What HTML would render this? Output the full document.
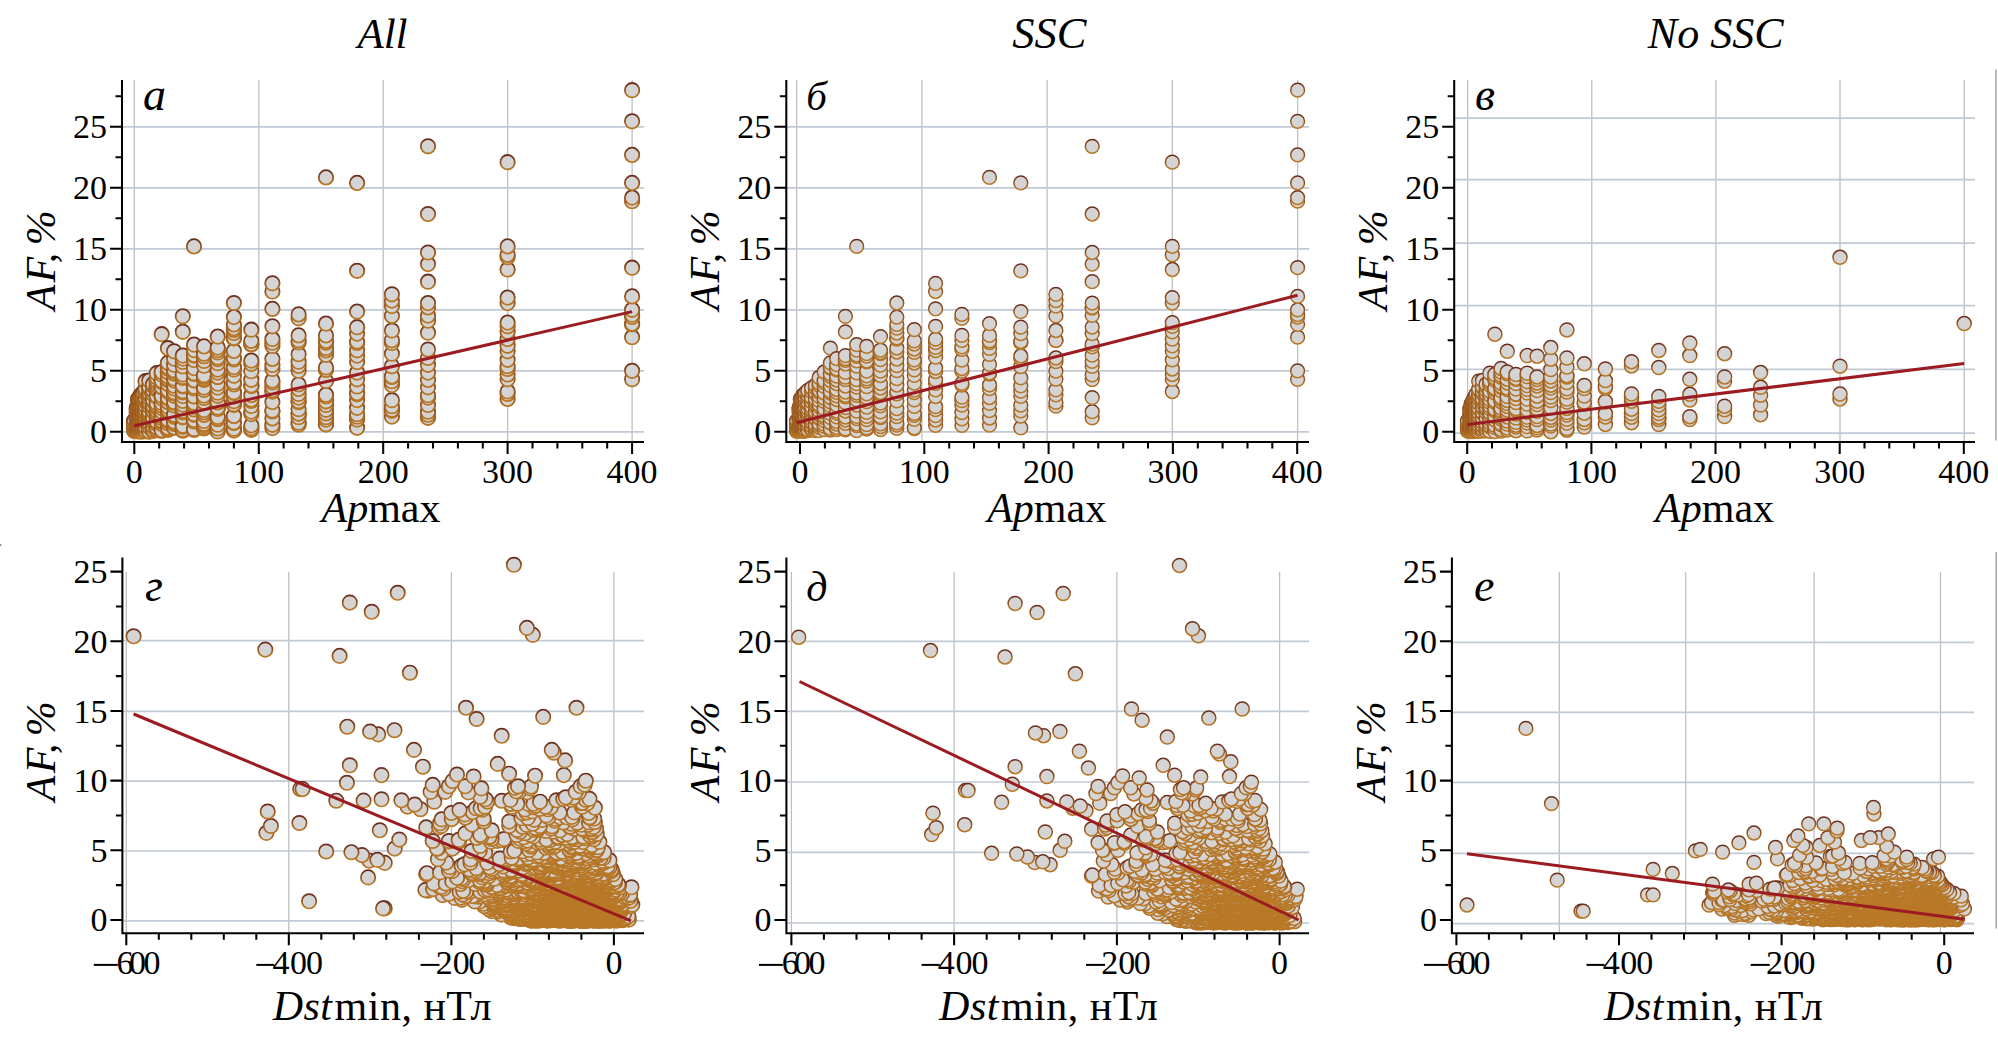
<!DOCTYPE html>
<html lang="ru"><head><meta charset="utf-8"><title>AF vs Apmax and Dstmin</title>
<style>html,body{margin:0;padding:0;background:#fff}svg{display:block}</style></head><body>
<svg width="1998" height="1039" viewBox="0 0 1998 1039">
<defs><linearGradient id="gs" x1="0" y1="0" x2="0" y2="1"><stop offset="0" stop-color="#6a2c1c"/><stop offset="0.4" stop-color="#8c4c1e"/><stop offset="0.75" stop-color="#ab6a22"/><stop offset="1" stop-color="#b87826"/></linearGradient></defs>
<rect width="1998" height="1039" fill="#fff"/>
<line x1="1995.9" y1="69.6" x2="1995.9" y2="440.5" stroke="#a9aeb1" stroke-width="1.7"/>
<line x1="1996.2" y1="552" x2="1996.2" y2="928.6" stroke="#a9aeb1" stroke-width="1.7"/>
<rect x="0" y="544.3" width="1.3" height="1.6" fill="#666"/>
<g stroke="#c0bfbf" stroke-width="1.3">
<line x1="134.3" y1="80" x2="134.3" y2="442"/>
<line x1="258.8" y1="80" x2="258.8" y2="442"/>
<line x1="383.2" y1="80" x2="383.2" y2="442"/>
<line x1="507.6" y1="80" x2="507.6" y2="442"/>
<line x1="632.1" y1="80" x2="632.1" y2="442"/>
</g>
<g stroke="#c0c9d4" stroke-width="1.7">
<line x1="123" y1="431.8" x2="644" y2="431.8"/>
<line x1="123" y1="370.8" x2="644" y2="370.8"/>
<line x1="123" y1="309.8" x2="644" y2="309.8"/>
<line x1="123" y1="248.8" x2="644" y2="248.8"/>
<line x1="123" y1="187.8" x2="644" y2="187.8"/>
<line x1="123" y1="126.8" x2="644" y2="126.8"/>
</g>
<g stroke="#c0bfbf" stroke-width="1.3">
<line x1="796.6" y1="80" x2="796.6" y2="442"/>
<line x1="921.9" y1="80" x2="921.9" y2="442"/>
<line x1="1047.1" y1="80" x2="1047.1" y2="442"/>
<line x1="1172.3" y1="80" x2="1172.3" y2="442"/>
<line x1="1297.6" y1="80" x2="1297.6" y2="442"/>
</g>
<g stroke="#c0c9d4" stroke-width="1.7">
<line x1="787.3" y1="431.8" x2="1309" y2="431.8"/>
<line x1="787.3" y1="370.8" x2="1309" y2="370.8"/>
<line x1="787.3" y1="309.8" x2="1309" y2="309.8"/>
<line x1="787.3" y1="248.8" x2="1309" y2="248.8"/>
<line x1="787.3" y1="187.8" x2="1309" y2="187.8"/>
<line x1="787.3" y1="126.8" x2="1309" y2="126.8"/>
</g>
<g stroke="#c0bfbf" stroke-width="1.3">
<line x1="1467.6" y1="80" x2="1467.6" y2="442"/>
<line x1="1591.8" y1="80" x2="1591.8" y2="442"/>
<line x1="1715.9" y1="80" x2="1715.9" y2="442"/>
<line x1="1840" y1="80" x2="1840" y2="442"/>
<line x1="1964.2" y1="80" x2="1964.2" y2="442"/>
</g>
<g stroke="#c0c9d4" stroke-width="1.7">
<line x1="1455.2" y1="433.2" x2="1975" y2="433.2"/>
<line x1="1455.2" y1="369.3" x2="1975" y2="369.3"/>
<line x1="1455.2" y1="305.6" x2="1975" y2="305.6"/>
<line x1="1455.2" y1="243.1" x2="1975" y2="243.1"/>
<line x1="1455.2" y1="179.6" x2="1975" y2="179.6"/>
<line x1="1455.2" y1="118.2" x2="1975" y2="118.2"/>
</g>
<g stroke="#c0bfbf" stroke-width="1.3">
<line x1="126.3" y1="572" x2="126.3" y2="933.2"/>
<line x1="288.8" y1="572" x2="288.8" y2="933.2"/>
<line x1="451.4" y1="572" x2="451.4" y2="933.2"/>
<line x1="613.9" y1="572" x2="613.9" y2="933.2"/>
</g>
<g stroke="#c0c9d4" stroke-width="1.7">
<line x1="123.4" y1="920.9" x2="644" y2="920.9"/>
<line x1="123.4" y1="851" x2="644" y2="851"/>
<line x1="123.4" y1="781.2" x2="644" y2="781.2"/>
<line x1="123.4" y1="711.3" x2="644" y2="711.3"/>
<line x1="123.4" y1="640.6" x2="644" y2="640.6"/>
</g>
<g stroke="#c0bfbf" stroke-width="1.3">
<line x1="791.4" y1="572" x2="791.4" y2="933.2"/>
<line x1="954.1" y1="572" x2="954.1" y2="933.2"/>
<line x1="1116.9" y1="572" x2="1116.9" y2="933.2"/>
<line x1="1279.6" y1="572" x2="1279.6" y2="933.2"/>
</g>
<g stroke="#c0c9d4" stroke-width="1.7">
<line x1="787.4" y1="923" x2="1309" y2="923"/>
<line x1="787.4" y1="852.3" x2="1309" y2="852.3"/>
<line x1="787.4" y1="782" x2="1309" y2="782"/>
<line x1="787.4" y1="711.4" x2="1309" y2="711.4"/>
<line x1="787.4" y1="641.4" x2="1309" y2="641.4"/>
</g>
<g stroke="#c0bfbf" stroke-width="1.3">
<line x1="1559.3" y1="572" x2="1559.3" y2="933.2"/>
<line x1="1685.7" y1="572" x2="1685.7" y2="933.2"/>
<line x1="1814.1" y1="572" x2="1814.1" y2="933.2"/>
<line x1="1940.5" y1="572" x2="1940.5" y2="933.2"/>
</g>
<g stroke="#c0c9d4" stroke-width="1.7">
<line x1="1452.9" y1="923.7" x2="1974" y2="923.7"/>
<line x1="1452.9" y1="853.3" x2="1974" y2="853.3"/>
<line x1="1452.9" y1="782.3" x2="1974" y2="782.3"/>
<line x1="1452.9" y1="712.4" x2="1974" y2="712.4"/>
<line x1="1452.9" y1="642.4" x2="1974" y2="642.4"/>
</g>
<marker id="ma" markerUnits="userSpaceOnUse" markerWidth="18.4" markerHeight="18.4" refX="9.2" refY="9.2"><circle cx="9.2" cy="9.2" r="7.2" fill="#d4d4d4" stroke="url(#gs)" stroke-width="1.8"/></marker>
<path d="M134.3 431.1 134.3 430.6 134.3 428.7 134.3 428.3 134.3 427.6 134.3 426.5 134.3 425.4 134.3 423.3 134.3 423.3 134.3 422.8 134.3 420.8 134.3 420.8 136.8 431 136.8 430.5 136.8 429.5 136.8 428.4 136.8 425 136.8 423.9 136.8 423.3 136.8 420.1 136.8 419.2 136.8 416.7 136.8 416 136.8 413.1 136.8 412.7 136.8 410.5 136.8 408.8 136.8 408.6 136.8 407.4 138 431.5 138 430.1 138 427.4 138 427.2 138 427.1 138 424.5 138 423.4 138 419.3 138 417.4 138 417 138 416.7 138 414.9 138 412.2 138 409 138 407.8 138 407.1 138 406.7 138 403.7 138 400.3 138 398.9 139.3 431 139.3 430.2 139.3 427.5 139.3 427.4 139.3 426.6 139.3 423.2 139.3 422.2 139.3 421.5 139.3 420.2 139.3 417.3 139.3 416.3 139.3 413.7 139.3 409.4 139.3 408.6 139.3 406.8 139.3 405 139.3 404.2 139.3 403.7 139.3 401.3 139.3 400.1 140.5 429.7 140.5 429.3 140.5 428.9 140.5 426.3 140.5 425.5 140.5 424.9 140.5 421.4 140.5 419.8 140.5 417.6 140.5 416.8 140.5 414.1 140.5 411.8 140.5 410 140.5 406.8 140.5 406.1 140.5 405.3 140.5 403.6 140.5 399.8 140.5 398.9 140.5 396.6 140.5 395.2 141.8 431.7 141.8 429.5 141.8 429 141.8 428.3 141.8 424.6 141.8 422.4 141.8 422.2 141.8 419.8 141.8 419 141.8 415.6 141.8 414.1 141.8 410.6 141.8 409.6 141.8 406.7 141.8 404.5 141.8 403.9 141.8 402.6 141.8 399.7 141.8 398.4 141.8 396.4 141.8 395.2 143 429.6 143 429.1 143 426.7 143 425 143 424 143 421.4 143 420.9 143 417.9 143 416.2 143 414.9 143 413.7 143 410.3 143 408.2 143 404 143 404 143 400.9 143 399.3 143 397.1 143 394.9 143 394 143 392.8 145.5 431.2 145.5 430.7 145.5 427.1 145.5 427.1 145.5 422.2 145.5 421.8 145.5 420.1 145.5 416.4 145.5 416.1 145.5 413.1 145.5 410.6 145.5 410 145.5 406.1 145.5 401.6 145.5 399.4 145.5 398.5 145.5 397.6 145.5 392.9 145.5 392.2 145.5 390.3 145.5 389.1 145.5 381.2 149.2 431.7 149.2 431.2 149.2 426.9 149.2 426.5 149.2 423.4 149.2 422.2 149.2 418.5 149.2 415.6 149.2 414 149.2 412.6 149.2 411.3 149.2 406.6 149.2 403.3 149.2 401.9 149.2 398.3 149.2 395.1 149.2 393.2 149.2 392.8 149.2 389 149.2 387.9 149.2 386.7 149.2 380.6 153 431 153 429.8 153 426.6 153 426.2 153 421.4 153 420.5 153 418.4 153 417.2 153 411.4 153 411.1 153 407.1 153 406 153 401.1 153 400 153 394.3 153 390.8 153 385.7 153 385.4 153 385.4 153 384.2 156.7 430.1 156.7 429.3 156.7 427.6 156.7 423.4 156.7 422.3 156.7 421.3 156.7 414.3 156.7 413 156.7 410.6 156.7 407.6 156.7 405.9 156.7 403.2 156.7 396.8 156.7 395.7 156.7 389.7 156.7 389.1 156.7 387.7 156.7 385.3 156.7 383 156.7 380.6 156.7 377.5 156.7 373.2 161.7 430.9 161.7 430.1 161.7 423.9 161.7 421.7 161.7 420.9 161.7 418 161.7 416 161.7 411.6 161.7 408 161.7 405.5 161.7 403 161.7 398.3 161.7 395.8 161.7 387.2 161.7 386.9 161.7 382.1 161.7 380.6 161.7 380.6 161.7 374.5 161.7 372 161.7 334.2 167.9 429.9 167.9 428.6 167.9 427.6 167.9 423.2 167.9 421 167.9 419.5 167.9 412.8 167.9 411.6 167.9 409.7 167.9 406.7 167.9 402.1 167.9 401.8 167.9 398.2 167.9 397.5 167.9 391.8 167.9 390 167.9 383.9 167.9 380 167.9 378.5 167.9 376.3 167.9 372.1 167.9 372 167.9 368.4 167.9 367.1 167.9 362.9 167.9 348.2 174.1 427.8 174.1 427.4 174.1 423.9 174.1 422.9 174.1 421.5 174.1 416.8 174.1 415 174.1 414.6 174.1 405.5 174.1 403 174.1 402 174.1 395.8 174.1 393.6 174.1 392.3 174.1 388.5 174.1 385.7 174.1 380.6 174.1 378.5 174.1 373.7 174.1 372 174.1 370.2 174.1 364.7 174.1 358.6 174.1 351.3 182.8 430.7 182.8 429.7 182.8 426.8 182.8 425.8 182.8 417.3 182.8 416.8 182.8 412.5 182.8 410.9 182.8 408.1 182.8 404.6 182.8 400.9 182.8 396.1 182.8 392.4 182.8 391.3 182.8 386.5 182.8 385.6 182.8 377.9 182.8 377 182.8 374.5 182.8 366.4 182.8 362 182.8 358.6 182.8 355.6 182.8 331.8 182.8 316.3 194 429.9 194 429 194 421.5 194 420 194 414.8 194 414 194 409.4 194 406.7 194 404.9 194 402.8 194 396.5 194 396.2 194 388.5 194 386.8 194 380.5 194 380.1 194 374 194 373.2 194 368.1 194 360 194 355.6 194 354.9 194 350.1 194 344.6 194 246.4 204 428.4 204 427 204 425.1 204 423.8 204 421 204 414.9 204 412.4 204 410.1 204 402.6 204 401.9 204 398 204 395.6 204 390 204 387.6 204 380 204 378.9 204 376.9 204 375.3 204 365.7 204 361 204 356.2 204 356.2 204 353.7 204 346.4 217.7 431.5 217.7 428.5 217.7 424.7 217.7 419.2 217.7 418.6 217.7 417 217.7 408.9 217.7 407.5 217.7 402.4 217.7 402.1 217.7 395.8 217.7 392.7 217.7 387.6 217.7 383.7 217.7 377.1 217.7 376.9 217.7 372.6 217.7 369.6 217.7 363.2 217.7 359.2 217.7 357.5 217.7 352.5 217.7 350.1 217.7 347.6 217.7 336.6 233.9 430.6 233.9 428.7 233.9 423 233.9 422.4 233.9 416.1 233.9 415.9 233.9 405.1 233.9 404.3 233.9 401.2 233.9 396.4 233.9 393.1 233.9 392.3 233.9 384.4 233.9 382.2 233.9 375.7 233.9 369.5 233.9 367.1 233.9 359.5 233.9 358 233.9 350.9 233.9 338.5 233.9 337.9 233.9 333 233.9 329.9 233.9 328.1 233.9 324.4 233.9 317.1 233.9 303 251.3 429.8 251.3 428.2 251.3 425.4 251.3 414.1 251.3 411.6 251.3 406 251.3 401 251.3 399.6 251.3 395.1 251.3 386.1 251.3 385.4 251.3 379.8 251.3 371.2 251.3 363.8 251.3 360.6 251.3 344.5 251.3 344 251.3 340.9 251.3 329.7 272.4 428.1 272.4 424.8 272.4 418.4 272.4 411.4 272.4 410.5 272.4 402.1 272.4 391.6 272.4 390.3 272.4 386.7 272.4 382.5 272.4 380.6 272.4 369 272.4 365 272.4 358.9 272.4 346 272.4 342.7 272.4 339.1 272.4 326.3 272.4 308.9 272.4 291.5 272.4 283.3 298.6 424.7 298.6 422.7 298.6 417.2 298.6 413.6 298.6 413.5 298.6 409.2 298.6 402.2 298.6 401.3 298.6 397.6 298.6 394 298.6 388.9 298.6 384.4 298.6 370.7 298.6 365.9 298.6 361.7 298.6 354.2 298.6 342.4 298.6 340.3 298.6 335.4 298.6 318.3 298.6 314.4 326 424.5 326 424.3 326 419.6 326 417.2 326 413.5 326 413.2 326 409.8 326 405 326 401.3 326 401.3 326 396.4 326 394.7 326 381 326 369.9 326 367.5 326 354.9 326 350.4 326 348 326 342.7 326 340.9 326 335.4 326 323.6 326 177.4 357.1 427.8 357.1 419.6 357.1 416.7 357.1 414.2 357.1 407.8 357.1 400.1 357.1 394.3 357.1 393.1 357.1 386.5 357.1 379.3 357.1 372.6 357.1 362.1 357.1 355.6 357.1 350.3 357.1 343 357.1 341.5 357.1 333.6 357.1 327.2 357.1 311.6 357.1 270.8 357.1 182.9 391.9 416.6 391.9 410.8 391.9 409.8 391.9 406.2 391.9 400.2 391.9 385.1 391.9 381.2 391.9 376.9 391.9 376.4 391.9 366.3 391.9 353.7 391.9 343 391.9 340.3 391.9 330.5 391.9 315.9 391.9 306.1 391.9 300.6 391.9 294.3 428 417.8 428 414.7 428 411.7 428 405 428 397.6 428 395.2 428 387.3 428 379.9 428 372.6 428 364.8 428 358 428 349.5 428 332.7 428 320.7 428 315.6 428 307.4 428 303.1 428 281.7 428 264.1 428 252.5 428 214 428 146.3 507.6 398.9 507.6 394 507.6 391.5 507.6 379.3 507.6 374.5 507.6 369 507.6 366.2 507.6 359.8 507.6 351.3 507.6 345.8 507.6 339.1 507.6 331.8 507.6 326.3 507.6 322.6 507.6 303.1 507.6 297.6 507.6 269.5 507.6 257.3 507.6 254.9 507.6 246.4 507.6 162.2 632.1 379.3 632.1 370.8 632.1 337.2 632.1 324.4 632.1 323.6 632.1 317.1 632.1 314.7 632.1 309.8 632.1 296.4 632.1 267.7 632.1 201.2 632.1 197.6 632.1 182.9 632.1 154.9 632.1 121.3 632.1 90.2" fill="none" stroke="none" marker-start="url(#ma)" marker-mid="url(#ma)" marker-end="url(#ma)"/>
<line x1="134.3" y1="425.7" x2="632.1" y2="311.6" stroke="#9c1b20" stroke-width="3.0" stroke-linecap="butt"/>
<marker id="mb" markerUnits="userSpaceOnUse" markerWidth="17.8" markerHeight="17.8" refX="8.9" refY="8.9"><circle cx="8.9" cy="8.9" r="6.9" fill="#d4d4d4" stroke="url(#gs)" stroke-width="1.5"/></marker>
<path d="M796.6 431.4 796.6 430.1 796.6 428.3 796.6 427.6 796.6 426.1 796.6 424.5 796.6 423.6 796.6 421.6 796.6 420.8 799.1 430.9 799.1 428.8 799.1 428.2 799.1 425.7 799.1 424 799.1 420.1 799.1 418 799.1 417.2 799.1 412.5 799.1 410 799.1 408.3 799.1 407.4 800.4 430.8 800.4 429.8 800.4 427.9 800.4 424.4 800.4 423.2 800.4 420.3 800.4 417.6 800.4 415.6 800.4 411.7 800.4 409 800.4 405.1 800.4 403.1 800.4 399.9 800.4 398.9 801.6 431.1 801.6 428.8 801.6 427.1 801.6 425.3 801.6 421.2 801.6 418.8 801.6 416.6 801.6 414.4 801.6 412.8 801.6 410.4 801.6 407.6 801.6 405.4 801.6 400.7 801.6 400.1 802.9 431.2 802.9 428.2 802.9 427 802.9 423.2 802.9 421 802.9 420.6 802.9 417.4 802.9 412.8 802.9 411.3 802.9 407 802.9 405.8 802.9 403.9 802.9 399.3 802.9 395.9 802.9 395.2 804.1 431.4 804.1 429.9 804.1 427.1 804.1 423.2 804.1 421.2 804.1 420.3 804.1 417.3 804.1 415 804.1 412.4 804.1 407.5 804.1 406.4 804.1 402.4 804.1 399.8 804.1 397.6 804.1 395.2 805.4 430.5 805.4 429.6 805.4 426.1 805.4 424.9 805.4 421.4 805.4 419.3 805.4 416.3 805.4 411.4 805.4 408.9 805.4 407.4 805.4 402.6 805.4 401.6 805.4 397.9 805.4 393.2 805.4 392.8 807.9 430.7 807.9 429.7 807.9 425.3 807.9 424.7 807.9 422.1 807.9 418 807.9 416.4 807.9 413.7 807.9 411.5 807.9 408.5 807.9 404 807.9 402 807.9 397.9 807.9 395.5 807.9 392.1 807.9 390.3 811.6 429.9 811.6 428.7 811.6 426 811.6 422.6 811.6 421.7 811.6 418.9 811.6 413.8 811.6 411 811.6 409.7 811.6 406.8 811.6 401.9 811.6 398 811.6 397.2 811.6 391.4 811.6 388.3 811.6 387.9 815.4 430.6 815.4 428.7 815.4 427 815.4 424.4 815.4 418.8 815.4 418 815.4 413.4 815.4 411.7 815.4 406.6 815.4 404.1 815.4 401.7 815.4 398.8 815.4 393.4 815.4 392.2 815.4 388.2 815.4 385.4 819.1 430.7 819.1 427.4 819.1 425.3 819.1 423.3 819.1 418.3 819.1 417.4 819.1 414.7 819.1 410.6 819.1 406.6 819.1 404.5 819.1 400.6 819.1 396.3 819.1 392 819.1 389.9 819.1 385.4 819.1 383 819.1 377.5 824.2 429.6 824.2 426.4 824.2 424.2 824.2 420.7 824.2 417.6 824.2 415.6 824.2 412.3 824.2 408.6 824.2 401.3 824.2 398.2 824.2 393.1 824.2 392.9 824.2 386.3 824.2 382.7 824.2 380.6 824.2 372 830.4 430.1 830.4 428.4 830.4 423 830.4 422.7 830.4 417.6 830.4 413.3 830.4 408.9 830.4 405.6 830.4 401.9 830.4 397.5 830.4 393 830.4 391.2 830.4 385.6 830.4 380.5 830.4 376.4 830.4 374 830.4 368.1 830.4 367.1 830.4 362.9 830.4 348.2 836.7 429.6 836.7 427.5 836.7 424 836.7 421.3 836.7 416.9 836.7 413.1 836.7 411.2 836.7 405.1 836.7 399.5 836.7 395.9 836.7 392.3 836.7 389.5 836.7 383.7 836.7 380 836.7 376.2 836.7 369.9 836.7 368.8 836.7 364.7 836.7 358.6 845.4 429.8 845.4 428.9 845.4 423.3 845.4 420 845.4 417 845.4 411 845.4 407.6 845.4 402.7 845.4 396.9 845.4 395.4 845.4 392 845.4 386 845.4 379.6 845.4 377.1 845.4 372.4 845.4 364 845.4 360.3 845.4 358.6 845.4 355.6 845.4 331.8 845.4 316.3 856.7 430.6 856.7 425.6 856.7 424 856.7 418.6 856.7 416.4 856.7 411.1 856.7 405 856.7 399.9 856.7 395.4 856.7 393 856.7 387.2 856.7 383.7 856.7 379.6 856.7 372.9 856.7 366.1 856.7 360.9 856.7 356.4 856.7 354.9 856.7 350.1 856.7 344.6 856.7 246.4 866.7 429.1 866.7 427.9 866.7 424.7 866.7 419.7 866.7 416.3 866.7 412.4 866.7 407.1 866.7 401.7 866.7 397.7 866.7 393.9 866.7 386.7 866.7 381.2 866.7 378.9 866.7 375.9 866.7 371.1 866.7 361.9 866.7 361 866.7 356.2 866.7 353.7 866.7 346.4 880.5 429.7 880.5 426.7 880.5 423.8 880.5 417.7 880.5 416.7 880.5 411.8 880.5 405.8 880.5 403.1 880.5 394.5 880.5 392.5 880.5 388 880.5 383.5 880.5 375.5 880.5 371.2 880.5 365.1 880.5 359.7 880.5 353.5 880.5 352.5 880.5 350.1 880.5 336.6 896.8 428.4 896.8 425.2 896.8 422.9 896.8 416.7 896.8 413.1 896.8 408.7 896.8 400.9 896.8 393.9 896.8 391.3 896.8 385 896.8 378.7 896.8 370.7 896.8 365.7 896.8 359 896.8 352 896.8 348 896.8 339.2 896.8 337.9 896.8 333 896.8 328.1 896.8 324.4 896.8 317.1 896.8 303 914.3 428.6 914.3 427.8 914.3 419.3 914.3 415.4 914.3 413.3 914.3 406.3 914.3 399.9 914.3 392.7 914.3 390.1 914.3 383.2 914.3 375.4 914.3 369.9 914.3 363 914.3 359.8 914.3 352.4 914.3 349 914.3 344 914.3 340.9 914.3 329.7 935.6 425.3 935.6 420 935.6 415.6 935.6 409.6 935.6 406.7 935.6 396.5 935.6 389.8 935.6 383.4 935.6 379.8 935.6 371.5 935.6 368 935.6 357.2 935.6 350.7 935.6 347.3 935.6 342.7 935.6 339.1 935.6 326.3 935.6 308.9 935.6 291.5 935.6 283.3 961.9 425.4 961.9 418.9 961.9 412.6 961.9 405.1 961.9 400.6 961.9 397.1 961.9 385.1 961.9 383.4 961.9 371.2 961.9 368.5 961.9 360.1 961.9 349.4 961.9 346.8 961.9 340.3 961.9 335.4 961.9 318.3 961.9 314.4 989.5 425.2 989.5 418 989.5 410.6 989.5 403.3 989.5 397.5 989.5 388.7 989.5 384.8 989.5 374 989.5 373 989.5 364.4 989.5 354.3 989.5 348.4 989.5 342.7 989.5 340.9 989.5 335.4 989.5 323.6 989.5 177.4 1020.8 427.8 1020.8 416.2 1020.8 410.9 1020.8 405.2 1020.8 396.3 1020.8 391.2 1020.8 385.8 1020.8 377.9 1020.8 366.7 1020.8 358.4 1020.8 356 1020.8 342.7 1020.8 341.5 1020.8 333.6 1020.8 327.2 1020.8 311.6 1020.8 270.8 1020.8 182.9 1055.9 406.2 1055.9 402.4 1055.9 394.8 1055.9 389.9 1055.9 379.2 1055.9 371.1 1055.9 361.7 1055.9 358 1055.9 340.6 1055.9 340.3 1055.9 330.5 1055.9 315.9 1055.9 306.1 1055.9 300.6 1055.9 294.3 1092.2 417.8 1092.2 411.7 1092.2 397.6 1092.2 379.6 1092.2 374.8 1092.2 366.3 1092.2 361.4 1092.2 355.2 1092.2 346.9 1092.2 344.2 1092.2 333.6 1092.2 327.1 1092.2 315.4 1092.2 308 1092.2 307.4 1092.2 303.1 1092.2 281.7 1092.2 264.1 1092.2 252.5 1092.2 214 1092.2 146.3 1172.3 391.5 1172.3 379.3 1172.3 374.5 1172.3 369 1172.3 359.8 1172.3 351.3 1172.3 345.8 1172.3 339.1 1172.3 331.8 1172.3 326.3 1172.3 322.6 1172.3 303.1 1172.3 297.6 1172.3 269.5 1172.3 254.9 1172.3 246.4 1172.3 162.2 1297.6 379.3 1297.6 370.8 1297.6 337.2 1297.6 324.4 1297.6 317.1 1297.6 314.7 1297.6 309.8 1297.6 296.4 1297.6 267.7 1297.6 201.2 1297.6 197.6 1297.6 182.9 1297.6 154.9 1297.6 121.3 1297.6 90.2" fill="none" stroke="none" marker-start="url(#mb)" marker-mid="url(#mb)" marker-end="url(#mb)"/>
<line x1="796.6" y1="422.7" x2="1297.6" y2="295.2" stroke="#9c1b20" stroke-width="3.0" stroke-linecap="butt"/>
<marker id="mc" markerUnits="userSpaceOnUse" markerWidth="18" markerHeight="18" refX="9" refY="9"><circle cx="9" cy="9" r="7" fill="#d4d4d4" stroke="url(#gs)" stroke-width="1.5"/></marker>
<path d="M1467.6 430.9 1467.6 429.6 1467.6 428.4 1467.6 428.1 1467.6 426 1467.6 424.8 1467.6 423.1 1467.6 422.2 1467.6 420.8 1470.1 431.6 1470.1 430.1 1470.1 429 1470.1 427.2 1470.1 426.3 1470.1 424.6 1470.1 421.9 1470.1 420.6 1470.1 418.7 1470.1 416.5 1470.1 415.4 1470.1 414.1 1470.1 410.9 1470.1 409.4 1470.1 408.6 1471.3 431.1 1471.3 429.9 1471.3 428 1471.3 427.4 1471.3 425.3 1471.3 424.3 1471.3 422.4 1471.3 420.6 1471.3 419.5 1471.3 418.1 1471.3 415.7 1471.3 413.5 1471.3 411.9 1471.3 410.4 1471.3 408.2 1471.3 407.2 1471.3 405.3 1471.3 403.7 1472.6 431.5 1472.6 429.5 1472.6 428.9 1472.6 427.5 1472.6 425.9 1472.6 424.3 1472.6 422.1 1472.6 419.8 1472.6 417.5 1472.6 416.5 1472.6 414.5 1472.6 412.8 1472.6 410.8 1472.6 407.8 1472.6 406.3 1472.6 404.9 1472.6 403.1 1472.6 401.3 1473.8 430.8 1473.8 429.5 1473.8 427.6 1473.8 426.9 1473.8 424.6 1473.8 422 1473.8 420.7 1473.8 418.1 1473.8 417.6 1473.8 414 1473.8 413.8 1473.8 411 1473.8 409.7 1473.8 405.9 1473.8 404 1473.8 401.1 1473.8 399.3 1473.8 398.9 1475 430.5 1475 429.6 1475 427 1475 425.6 1475 424.4 1475 421.2 1475 420.3 1475 418.6 1475 416.8 1475 413.8 1475 412.1 1475 408.2 1475 405.9 1475 405.3 1475 403.3 1475 399.9 1475 398.4 1475 396.4 1476.3 431.1 1476.3 428.9 1476.3 428.1 1476.3 425.8 1476.3 422.8 1476.3 421.6 1476.3 419.6 1476.3 416.2 1476.3 414 1476.3 411.5 1476.3 409.6 1476.3 407.9 1476.3 404.8 1476.3 402 1476.3 400 1476.3 398.5 1476.3 395.8 1476.3 394 1478.8 431.2 1478.8 428.6 1478.8 427 1478.8 424.8 1478.8 421.8 1478.8 421.1 1478.8 417.3 1478.8 415.6 1478.8 412.4 1478.8 409 1478.8 407.9 1478.8 403.3 1478.8 403 1478.8 398.9 1478.8 396.1 1478.8 394.2 1478.8 390.4 1478.8 389.1 1478.8 381.2 1482.5 431.1 1482.5 429.1 1482.5 426.3 1482.5 425.6 1482.5 422.3 1482.5 418.7 1482.5 417.8 1482.5 413.2 1482.5 412.3 1482.5 408.2 1482.5 406.8 1482.5 403.1 1482.5 400.3 1482.5 398.4 1482.5 393.6 1482.5 391.3 1482.5 387.6 1482.5 386.7 1482.5 380.6 1486.2 430.8 1486.2 428.3 1486.2 425.7 1486.2 423.5 1486.2 418.7 1486.2 418.1 1486.2 412.4 1486.2 409.2 1486.2 407 1486.2 402.7 1486.2 399.6 1486.2 396.4 1486.2 394 1486.2 390.3 1486.2 386.6 1486.2 384.2 1489.9 431.2 1489.9 426.9 1489.9 425.7 1489.9 422.5 1489.9 419.2 1489.9 414.6 1489.9 412.3 1489.9 408.5 1489.9 406 1489.9 402.3 1489.9 399.3 1489.9 395.1 1489.9 391.2 1489.9 385 1489.9 382.5 1489.9 380.6 1489.9 373.2 1494.9 431.6 1494.9 427.5 1494.9 425.3 1494.9 419.9 1494.9 416.5 1494.9 410.7 1494.9 409.1 1494.9 402.3 1494.9 400.6 1494.9 392.9 1494.9 390 1494.9 388.2 1494.9 380 1494.9 377.9 1494.9 374.5 1494.9 334.2 1501.1 431.1 1501.1 429.3 1501.1 424.7 1501.1 423.9 1501.1 418.9 1501.1 416.8 1501.1 412.7 1501.1 410.6 1501.1 408 1501.1 401.7 1501.1 399.1 1501.1 397.3 1501.1 390.8 1501.1 387.3 1501.1 386.4 1501.1 383.3 1501.1 377.3 1501.1 375.3 1501.1 372 1501.1 368.4 1507.3 430.1 1507.3 428 1507.3 424 1507.3 421.1 1507.3 416.9 1507.3 413.1 1507.3 410.2 1507.3 406.4 1507.3 403.6 1507.3 400.4 1507.3 396.6 1507.3 389.4 1507.3 388 1507.3 382.9 1507.3 379.2 1507.3 373.7 1507.3 372 1507.3 351.3 1516 430.7 1516 427 1516 425.2 1516 422.3 1516 418 1516 414.1 1516 409.9 1516 408.5 1516 402.6 1516 398.5 1516 394.6 1516 394 1516 389.1 1516 383.5 1516 379.3 1516 378.4 1516 374.5 1527.2 430.8 1527.2 426.5 1527.2 422.8 1527.2 419.8 1527.2 417.1 1527.2 412.2 1527.2 409.5 1527.2 404 1527.2 399.1 1527.2 392.8 1527.2 389.3 1527.2 385.5 1527.2 381.6 1527.2 376.5 1527.2 373.2 1527.2 355.6 1537.1 430.1 1537.1 427.8 1537.1 425.4 1537.1 419.5 1537.1 416.6 1537.1 411.2 1537.1 408.9 1537.1 404.5 1537.1 401.2 1537.1 396.2 1537.1 390.5 1537.1 385.9 1537.1 382.9 1537.1 379.5 1537.1 376.9 1537.1 356.2 1550.8 431.7 1550.8 426 1550.8 424 1550.8 420.1 1550.8 417.4 1550.8 413.4 1550.8 407.5 1550.8 400.5 1550.8 397 1550.8 392.6 1550.8 388.1 1550.8 385.2 1550.8 380.9 1550.8 376.9 1550.8 369.6 1550.8 359.2 1550.8 347.6 1566.9 430.2 1566.9 428.6 1566.9 423 1566.9 419.3 1566.9 415.1 1566.9 412.6 1566.9 408.4 1566.9 402.1 1566.9 399 1566.9 392 1566.9 388.8 1566.9 382.5 1566.9 376.9 1566.9 375.7 1566.9 367.1 1566.9 358 1566.9 329.9 1584.3 427.1 1584.3 422.8 1584.3 419.4 1584.3 413.2 1584.3 403.9 1584.3 402.2 1584.3 396.1 1584.3 388.6 1584.3 385.4 1584.3 363.8 1605.4 424.4 1605.4 416.9 1605.4 413.6 1605.4 401.9 1605.4 401.5 1605.4 388.3 1605.4 386.7 1605.4 380.6 1605.4 369 1631.5 422.7 1631.5 417.2 1631.5 413.5 1631.5 409.2 1631.5 401.3 1631.5 397.6 1631.5 394 1631.5 365.9 1631.5 361.7 1658.8 424.5 1658.8 419.6 1658.8 417.2 1658.8 413.5 1658.8 409.8 1658.8 405 1658.8 401.3 1658.8 396.4 1658.8 367.5 1658.8 350.4 1689.8 419.6 1689.8 416.7 1689.8 400.1 1689.8 394.3 1689.8 379.3 1689.8 355.6 1689.8 343 1724.6 416.6 1724.6 409.8 1724.6 406.2 1724.6 381.2 1724.6 376.9 1724.6 353.7 1760.6 414.7 1760.6 405 1760.6 395.2 1760.6 387.3 1760.6 372.6 1840 398.9 1840 394 1840 366.2 1840 257.3 1964.2 323.6" fill="none" stroke="none" marker-start="url(#mc)" marker-mid="url(#mc)" marker-end="url(#mc)"/>
<line x1="1467.6" y1="424.5" x2="1964.2" y2="363.5" stroke="#9c1b20" stroke-width="3.0" stroke-linecap="butt"/>
<marker id="mg" markerUnits="userSpaceOnUse" markerWidth="18.4" markerHeight="18.4" refX="9.2" refY="9.2"><circle cx="9.2" cy="9.2" r="7.2" fill="#d4d4d4" stroke="url(#gs)" stroke-width="1.7"/></marker>
<path d="M571.1 920.9 581.4 920.9 599.7 920.9 585 920.9 597 920.8 534.3 920.8 558.7 920.8 616.4 920.8 609 920.8 547.8 920.8 580.9 920.7 573.5 920.7 586.4 920.7 603.5 920.7 568.9 920.7 587.5 920.7 593.1 920.6 567 920.6 579.8 920.6 537.1 920.6 531.1 920.6 609.5 920.6 569.7 920.5 561.4 920.5 598.5 920.5 587.9 920.4 539.5 920.4 540 920.4 594.5 920.4 585.8 920.3 593.7 920.3 560.2 920.3 622.5 920.3 560.4 920.3 530.4 920.3 603.5 920.3 574.9 920.3 571.2 920.3 551.4 920.3 583.3 920.3 592.1 920.3 574.5 920.2 530.7 920.2 604.5 920.2 546.8 920.2 600.4 920.2 584.8 920.2 583.6 920.1 607.5 920.1 547.2 920.1 552.1 920.1 571.6 920.1 602.1 920.1 612.7 920.1 567.9 920.1 577.5 920.1 593.4 920.1 610.9 920 592.5 920 565.9 920 605.9 920 570.5 920 579.9 920 604.6 920 597.6 920 533.9 920 608.6 919.9 595.8 919.9 594 919.9 598.9 919.9 598.1 919.9 557 919.9 539.8 919.9 530.3 919.8 565.7 919.8 594.4 919.8 602.2 919.8 570.2 919.7 555.1 919.7 537.2 919.7 591.8 919.7 588.7 919.7 577.5 919.7 530.7 919.7 607.2 919.7 591.1 919.7 580.4 919.7 628.8 919.6 587.7 919.6 621.3 919.6 596.9 919.6 583.9 919.6 573.6 919.6 594.3 919.6 586.2 919.6 564.9 919.6 571.2 919.6 551.7 919.6 578.4 919.6 585.2 919.5 574.5 919.5 542.1 919.5 575.2 919.5 597.8 919.5 587.4 919.5 551.1 919.5 597.1 919.5 550.6 919.4 573.9 919.4 595.5 919.4 601.5 919.4 565.5 919.4 569.9 919.4 597.2 919.3 551.1 919.3 603 919.3 597.3 919.3 611.8 919.3 578.1 919.3 561.3 919.3 612.9 919.3 592.8 919.3 546.6 919.2 554.4 919.2 596.5 919.2 558.8 919.2 547.9 919.2 590.1 919.2 582.4 919.2 599.4 919.2 538.1 919.2 574.9 919.2 543.2 919.2 562.4 919.2 601.4 919.2 533.5 919.1 573.1 919.1 576.6 919.1 593.9 919.1 598.9 919.1 618.5 919.1 570.1 919.1 555.4 919.1 583.7 919.1 543 919.1 568.3 919.1 596.9 919 605.9 919 520.4 919 589.8 919 607 919 535.4 919 560.8 919 586.7 919 583.5 919 582.9 919 614.7 919 525.1 919 613.9 919 584.6 919 554.1 918.9 603 918.9 625.2 918.9 532.3 918.9 598.7 918.9 615.5 918.9 575.2 918.9 591 918.9 615.2 918.9 598.1 918.9 546.1 918.9 603.3 918.9 588.8 918.9 610.3 918.9 607.7 918.9 551.5 918.8 590.4 918.8 570.6 918.8 600.9 918.8 530.4 918.8 606.4 918.8 613.7 918.8 519.7 918.8 613 918.8 590.6 918.8 541.3 918.8 570.7 918.8 559.7 918.8 609.9 918.8 550.5 918.7 604.1 918.7 554.3 918.7 607 918.7 576.9 918.7 574.7 918.7 609.4 918.7 556.8 918.7 577.2 918.7 594.9 918.7 590.2 918.7 605.9 918.7 538.9 918.7 533.3 918.7 535.9 918.7 578.1 918.7 592.9 918.6 568.3 918.6 572.9 918.6 575.6 918.6 615.2 918.6 546.2 918.5 551.9 918.5 599.9 918.5 583.8 918.5 569.3 918.5 609.8 918.5 568.5 918.5 584.8 918.5 607.9 918.4 617.7 918.4 581.1 918.4 568.7 918.4 520.1 918.4 520.8 918.4 523.9 918.4 602.4 918.4 558.6 918.4 514.4 918.3 589.4 918.3 597.5 918.3 562.9 918.3 565 918.3 610 918.3 600.8 918.3 595.7 918.3 601.6 918.3 558 918.2 541.1 918.2 584.4 918.2 581.9 918.2 538 918.2 567.4 918.2 594.8 918.2 576 918.2 573.8 918.2 613.9 918.2 607 918.2 588.4 918.2 602.4 918.2 558.9 918.2 560.9 918.2 619.4 918.1 586.2 918.1 549.5 918.1 588.7 918.1 581.4 918.1 606.5 918.1 609.4 918.1 605.4 918.1 608.9 918.1 547.4 918.1 523.8 918 527.6 918 561.1 918 516.7 918 591.8 918 594.1 918 557.4 918 584.9 917.9 616.3 917.9 575.6 917.9 528.6 917.9 596.7 917.9 607.9 917.9 589.1 917.9 546.9 917.9 555.6 917.9 581.5 917.9 585.9 917.8 580.2 917.8 572.9 917.8 599.4 917.8 591.4 917.8 588.4 917.8 625.7 917.8 528.4 917.8 551.7 917.8 601.4 917.8 596.7 917.8 599.5 917.8 545.1 917.7 548.8 917.7 587.6 917.7 595.1 917.7 528 917.7 604 917.7 570.4 917.7 563.3 917.7 586.1 917.7 558.8 917.7 576.4 917.7 568.9 917.7 593.7 917.7 595.2 917.6 606 917.6 544.5 917.6 567.8 917.6 550.3 917.6 602.7 917.6 596.9 917.6 597.8 917.6 561.2 917.6 544 917.6 598.5 917.6 585.9 917.5 590 917.5 608.4 917.5 586.3 917.5 581.6 917.5 541.1 917.5 510.9 917.5 593.9 917.5 588.8 917.5 580.5 917.5 585.4 917.5 590.2 917.4 585.4 917.4 569.3 917.4 531.9 917.4 607.1 917.4 588.2 917.4 609.1 917.4 604.6 917.4 518.1 917.4 568.1 917.3 546.3 917.3 589.8 917.3 570.4 917.3 518.5 917.3 575.2 917.3 538 917.3 596.7 917.3 568.3 917.3 554 917.3 568.5 917.3 603.2 917.3 613.5 917.3 535.6 917.2 605.2 917.2 598.2 917.2 561.1 917.2 599.7 917.2 599.2 917.2 624.7 917.2 558.3 917.2 567.6 917.2 593.4 917.1 605 917.1 586.9 917.1 567.8 917.1 559.4 917.1 574.2 917.1 606.7 917.1 571.1 917.1 582.6 917.1 618.6 917 593.6 917 601.2 917 599.8 917 555.4 917 560.5 917 585.9 916.9 608.2 916.9 614.8 916.9 598.1 916.9 589 916.9 549.9 916.9 600 916.9 604.1 916.9 603.5 916.9 547.2 916.8 610 916.8 578.1 916.8 568.2 916.8 553.9 916.8 598.2 916.8 583.1 916.8 602.3 916.8 607.7 916.8 599.1 916.8 590.1 916.7 570 916.7 601.9 916.7 574 916.7 574 916.7 613.5 916.7 516.2 916.7 591.4 916.7 543.3 916.7 570.8 916.7 609 916.7 574.7 916.7 577.4 916.7 587.3 916.7 598.7 916.6 574 916.6 595.2 916.6 601.1 916.6 590.1 916.6 602.3 916.6 575.7 916.6 553 916.6 590.2 916.6 547.8 916.6 557.2 916.6 567.5 916.6 584.5 916.5 587.2 916.5 603.5 916.5 588.9 916.5 530.9 916.5 528.3 916.5 581.7 916.5 595.7 916.4 607.4 916.4 605.1 916.4 528.7 916.4 562.8 916.4 536 916.4 549.1 916.4 565.7 916.4 549.8 916.4 547.7 916.3 584.3 916.3 540.5 916.3 614.2 916.3 614.7 916.3 547 916.3 546.8 916.3 597.3 916.3 591.2 916.3 588.4 916.3 512.9 916.3 547.8 916.3 628.4 916.2 543.7 916.2 595.7 916.2 545.8 916.2 586 916.2 571.8 916.2 590.8 916.2 576.6 916.2 594 916.1 571.4 916.1 541.3 916.1 584 916.1 596 916.1 528.4 916.1 581 916.1 594.3 916.1 574.7 916.1 602.7 916 614.5 916 583.1 916 562.7 916 594.6 916 592 916 566.7 916 579.1 916 581.4 916 597.2 916 570 916 554.6 916 551.8 916 563 915.9 580 915.9 554.3 915.9 619.5 915.9 562 915.8 586.5 915.8 601.7 915.8 590.4 915.8 574.8 915.8 617.3 915.8 582.6 915.8 567.9 915.8 603.7 915.8 534.8 915.8 582.7 915.8 546.1 915.8 616 915.7 573 915.7 601.3 915.7 544 915.7 581 915.7 534.2 915.7 557.6 915.7 510.5 915.6 604.7 915.6 588 915.6 557.2 915.6 566.9 915.6 594.2 915.6 530.7 915.6 561.5 915.6 550.8 915.6 611.9 915.6 600.1 915.6 529.7 915.5 581.4 915.5 556 915.5 602.3 915.5 613.4 915.5 555.5 915.5 544.7 915.5 614.1 915.5 568.9 915.5 530 915.5 574.4 915.5 595.5 915.5 543.6 915.5 562.9 915.4 601.7 915.4 537.8 915.4 597.6 915.4 584.5 915.4 585.2 915.4 614.2 915.4 557.6 915.4 537.7 915.4 565.7 915.4 589.5 915.3 509.5 915.3 615.9 915.3 548.5 915.3 603.1 915.3 593.3 915.3 615.1 915.3 619.7 915.3 514.9 915.3 592.1 915.3 534 915.3 548.9 915.3 540.1 915.3 610.3 915.3 562.6 915.3 601.8 915.2 511.5 915.2 619.4 915.2 547.2 915.2 587.8 915.2 533.7 915.2 564.1 915.2 605.8 915.2 549 915.2 608.5 915.2 601.5 915.2 605.7 915.2 592.5 915.2 542 915.2 558.2 915.2 591 915.2 570.5 915.1 550.7 915.1 549.2 915.1 573.1 915.1 550.1 915.1 564.7 915.1 560.1 915.1 573.1 915.1 602.4 915.1 547.4 915.1 570.9 915.1 525.4 915.1 535.2 915 579.3 915 599.4 915 577.7 915 516.6 915 610.7 915 605 915 601.1 915 546.7 915 547.5 915 523.5 915 604.7 915 508 914.9 522.6 914.9 572.1 914.9 524.3 914.9 615.6 914.9 605.1 914.9 609.1 914.9 582.3 914.9 507.3 914.8 583 914.8 599.4 914.8 552.7 914.8 534.6 914.8 567.1 914.8 575.9 914.8 587.7 914.7 537.3 914.7 580.3 914.7 601.3 914.7 520.3 914.7 524.2 914.7 533.1 914.7 568 914.7 588.5 914.7 562.8 914.7 519.6 914.7 555.1 914.6 555.6 914.6 554.1 914.6 546.6 914.6 560.3 914.6 605.1 914.6 617.2 914.6 561 914.6 595.2 914.6 591 914.5 604 914.5 574.8 914.5 536.8 914.5 582.5 914.5 578.6 914.5 612.4 914.5 576.2 914.5 584.3 914.5 605.1 914.5 590.7 914.5 558.9 914.5 574.5 914.4 584.7 914.4 501.1 914.4 603.1 914.4 547.6 914.4 513.9 914.4 560.9 914.4 621.2 914.4 595.7 914.4 536.1 914.4 501.5 914.4 560.3 914.3 549.3 914.3 529.7 914.3 570.5 914.3 548.3 914.3 554.1 914.3 553.8 914.3 554.3 914.3 616.5 914.3 560.4 914.3 556.2 914.3 510.9 914.3 604.3 914.3 546.2 914.3 526.4 914.3 582.3 914.2 602.6 914.2 591.5 914.2 614.6 914.2 613.9 914.2 609.6 914.2 620.9 914.2 598.3 914.1 608.7 914.1 599.2 914.1 611 914.1 612.3 914.1 576.8 914.1 590.5 914.1 610.2 914 604.8 914 579.7 914 548.7 914 583 914 568 914 561.3 914 553.2 914 586 914 620 914 603.4 913.9 571.8 913.9 618.1 913.9 586.3 913.9 584.8 913.9 557.3 913.9 559.8 913.9 539.5 913.9 591.6 913.9 613.9 913.9 572.6 913.9 595.8 913.9 547.8 913.8 515.1 913.8 569.5 913.8 522.4 913.8 605.3 913.8 570.7 913.8 596.7 913.8 548.7 913.8 574.8 913.8 598 913.8 532.5 913.8 605.5 913.8 567.9 913.8 616.3 913.8 596.6 913.8 547.6 913.7 534.2 913.7 592.8 913.7 579 913.7 560.1 913.7 583.5 913.7 598.9 913.7 584.9 913.7 602.4 913.7 557.3 913.7 546.4 913.6 537.6 913.6 615.2 913.6 583.1 913.6 608.5 913.6 601.3 913.6 540.6 913.5 600.3 913.5 532.7 913.5 611.4 913.5 518.5 913.5 589.3 913.5 603 913.5 601.7 913.5 615.1 913.5 567.3 913.5 562.3 913.5 579.9 913.5 587.2 913.5 508.9 913.5 612.6 913.4 624.1 913.4 551.2 913.4 550.7 913.4 510.1 913.4 580.2 913.4 531.8 913.4 535 913.4 563.3 913.4 552.9 913.3 584.1 913.3 568.1 913.3 594.5 913.3 559.2 913.3 549.4 913.2 546.3 913.2 595 913.2 550.8 913.2 562.4 913.2 610.1 913.2 593.3 913.2 565.4 913.2 555.1 913.2 590.5 913.2 615.4 913.2 550.2 913.2 600 913.2 613.3 913.1 597.3 913.1 582.7 913.1 552.4 913.1 547.1 913.1 532.6 913.1 598.5 913.1 603.8 913.1 609.3 913 522.9 913 585.6 913 510.2 913 568.9 913 596.1 913 593.2 913 589.6 913 611.6 913 564.4 913 578.9 913 578.1 913 592.5 913 580.9 913 604.8 913 604.5 912.9 600.8 912.9 593.2 912.9 562.4 912.9 555.1 912.8 594.6 912.8 541.2 912.8 563.7 912.8 546.1 912.8 557.4 912.8 592 912.8 592.8 912.8 591.3 912.8 595.8 912.8 613 912.7 611.9 912.7 570.4 912.7 586.6 912.7 616.8 912.7 613 912.7 613 912.6 593.2 912.6 560.3 912.6 611.8 912.6 564.5 912.6 551.1 912.6 564.1 912.6 607.1 912.6 569.1 912.6 552.6 912.5 517.4 912.5 527.7 912.5 597.3 912.5 563.2 912.5 570.4 912.5 513.6 912.5 590.7 912.5 554.8 912.4 580.4 912.4 573.7 912.4 593.6 912.4 605.3 912.4 515.6 912.4 566 912.3 555.7 912.3 576.4 912.3 611.2 912.3 593.5 912.3 555.1 912.3 516.4 912.3 548.5 912.3 573.8 912.2 615.1 912.2 553 912.2 607.8 912.2 583.9 912.2 614.9 912.2 594.8 912.1 554.3 912.1 603.5 912.1 573.3 912.1 573.2 912.1 565.6 912.1 556.9 912.1 541.9 912.1 561.6 912.1 614.9 912.1 565.9 912.1 592.7 912 602.4 912 588.1 912 531.1 912 590.2 912 547.7 912 574.9 912 588.1 912 583.4 912 613.3 911.9 506.5 911.9 601.1 911.9 512.4 911.9 603.3 911.9 613.9 911.9 551.7 911.9 543.4 911.9 582.9 911.9 599.4 911.9 602.2 911.8 597.7 911.8 574.3 911.8 609.9 911.8 616.2 911.8 507.7 911.8 620.2 911.8 601.4 911.7 597.4 911.7 610.4 911.7 557.3 911.7 565.3 911.7 567.9 911.7 589.2 911.7 532.8 911.7 581.7 911.7 617 911.7 599.3 911.7 603.7 911.7 619.5 911.7 521.8 911.6 615.8 911.6 562.5 911.6 607 911.6 557.4 911.6 497.3 911.6 593.3 911.6 543.3 911.5 586.4 911.5 592.1 911.5 612.7 911.5 579.3 911.5 615.1 911.5 602.9 911.5 602.3 911.5 605.9 911.4 523.6 911.4 616.9 911.4 594.5 911.4 554.7 911.4 546 911.4 546.4 911.4 552 911.4 515.3 911.4 579.6 911.4 571.3 911.4 552.6 911.4 550.6 911.3 508.3 911.3 594.8 911.3 579.1 911.3 537 911.3 585.2 911.3 537 911.3 608.5 911.3 604 911.3 544.4 911.3 586.1 911.2 551.8 911.2 539.1 911.2 609.6 911.2 515.8 911.2 599.9 911.2 492.1 911.2 609 911.1 610.8 911.1 544.4 911.1 592.7 911.1 520.7 911.1 590.6 911.1 526.8 911.1 592.1 911.1 577.1 911.1 514.6 911.1 551.6 911.1 615.2 911.1 566.3 911.1 558.7 911.1 512 911.1 584.1 911 589.5 911 608.2 911 572.6 911 619.2 911 593.7 911 563 910.9 578.1 910.9 609.1 910.9 586.9 910.9 550.7 910.9 537.4 910.9 552.4 910.9 535.2 910.9 611.7 910.9 579.3 910.8 602.2 910.8 543.5 910.8 588.5 910.8 541.5 910.8 534.9 910.7 580 910.7 612.6 910.7 584.8 910.7 600.5 910.7 551.8 910.7 545.9 910.7 572 910.7 537.5 910.7 553.7 910.7 553.2 910.7 599.6 910.7 581.9 910.6 602.5 910.6 509.1 910.6 604 910.6 617.7 910.6 558.3 910.6 549.2 910.6 604.9 910.6 553.3 910.6 586.5 910.6 580.5 910.6 576.1 910.5 575 910.5 558.2 910.5 536.5 910.5 597.4 910.5 577.8 910.4 536.3 910.4 557.5 910.4 512.8 910.4 558.5 910.4 567.1 910.4 570.9 910.4 545.9 910.3 573.8 910.3 604.8 910.3 556.5 910.3 601.1 910.3 568.1 910.3 550.6 910.3 606.1 910.2 584.7 910.2 546 910.2 558.3 910.2 611.7 910.2 619 910.2 545.4 910.2 594.5 910.1 565.4 910.1 572.8 910.1 533.9 910.1 571.3 910.1 618 910.1 582.7 910.1 583.2 910 543.9 910 540.5 910 588.6 910 588 910 601.1 910 536.5 910 598.9 910 565.8 910 585.4 909.9 564.7 909.9 564 909.9 550.5 909.9 566 909.9 554.5 909.9 602.2 909.9 602.8 909.9 588.8 909.9 618.8 909.9 596 909.9 576.8 909.9 571.9 909.9 550 909.8 595.8 909.8 566.1 909.8 498 909.8 504.7 909.8 615.6 909.7 562.6 909.7 562.5 909.7 571.6 909.7 600.2 909.7 548.5 909.7 603.8 909.7 570.1 909.6 538.3 909.6 607.7 909.6 605.7 909.6 579.5 909.6 588.8 909.6 572.4 909.6 519.9 909.6 604.5 909.6 592.1 909.6 595.7 909.5 594.5 909.5 614.2 909.5 587.8 909.4 570.1 909.4 593.8 909.4 551.8 909.4 539.4 909.4 593.3 909.4 566.8 909.3 610.3 909.3 546.8 909.3 567.8 909.3 541.3 909.3 534.4 909.3 543.7 909.2 539.6 909.2 527.2 909.2 537 909.2 558.8 909.2 608.6 909.1 615.2 909.1 511 909.1 491.3 909.1 611 909.1 592.3 909.1 539.7 909 488.6 909 602.4 909 571.8 909 595.9 909 549.7 909 533.4 909 563 909 544.5 909 612.9 909 595.8 908.9 597.6 908.9 565.2 908.9 606.4 908.9 570.9 908.9 510.1 908.9 567.8 908.9 586.6 908.8 569.7 908.8 592.9 908.8 539 908.8 578.1 908.8 538.6 908.8 510.2 908.7 524.2 908.7 587.9 908.7 593.5 908.7 585.3 908.7 568.7 908.7 621.8 908.7 501.8 908.7 559.3 908.7 613 908.6 601.8 908.6 596.4 908.6 585.8 908.6 617.7 908.6 553.2 908.6 611.3 908.6 504.1 908.6 529 908.6 570.1 908.6 600.8 908.6 621 908.6 537.5 908.6 570.6 908.6 513.3 908.5 520.5 908.5 603.5 908.5 558.8 908.5 518.2 908.5 605.6 908.5 620.8 908.5 584.7 908.5 623 908.5 594 908.4 607 908.4 596.1 908.4 384.7 908.4 383.1 908.4 568 908.4 558.6 908.4 538.5 908.4 575.5 908.4 579 908.3 589.4 908.3 565.9 908.3 545.3 908.3 564.7 908.3 574 908.3 565.1 908.3 522.8 908.3 593.2 908.3 603.7 908.3 571.6 908.3 563.6 908.3 538 908.3 575.2 908.3 550.7 908.3 599.5 908.3 563.2 908.3 504.1 908.2 537.8 908.2 583.2 908.2 546.6 908.2 602.4 908.2 603 908.2 535.3 908.2 622.5 908.2 545.4 908.2 527.8 908.1 602.6 908.1 556.7 908.1 575.3 908.1 529 908.1 570.3 908.1 546.6 908.1 591.1 908.1 568.3 908.1 502.4 908.1 616.7 908 562.7 908 544.5 908 514.9 908 619.3 908 598.1 908 607 908 611.5 908 598.1 908 570 908 583.6 908 567.3 908 589.5 908 591.2 907.9 535 907.9 558.3 907.9 573.3 907.9 532.8 907.9 543.6 907.9 619.5 907.9 555.8 907.8 515.3 907.8 619.5 907.8 565.9 907.8 589.5 907.8 504.3 907.8 585.8 907.8 612.1 907.8 554.4 907.8 616.2 907.8 602.1 907.8 603.5 907.8 607.3 907.8 509.1 907.8 563.6 907.7 554.3 907.7 538.2 907.7 590.9 907.7 602.3 907.6 589.6 907.6 579.6 907.6 591.3 907.6 568.7 907.6 582.5 907.6 527 907.6 570.4 907.6 588.4 907.6 598.9 907.5 606.6 907.5 520.4 907.5 580.6 907.5 607.5 907.5 503.2 907.5 492.5 907.5 552.1 907.5 581 907.5 551.8 907.4 591.7 907.4 575.7 907.4 527.2 907.4 593 907.4 591.6 907.4 541.7 907.4 613 907.4 613 907.4 569.3 907.4 530.5 907.4 544.9 907.4 533 907.3 597.5 907.3 623.4 907.3 562.1 907.2 611.8 907.2 582.1 907.2 609.4 907.2 516.7 907.2 551.5 907.2 610.3 907.2 528.7 907.1 583.1 907.1 564.8 907.1 622.2 907.1 567.9 907.1 592.6 907 560.2 907 536.1 907 490.7 907 614.2 907 598.4 907 549.6 907 589.3 907 603.5 907 587 907 498 907 578.2 907 555.4 907 535.2 906.9 593.7 906.9 574.9 906.9 544.3 906.9 550.5 906.8 563.9 906.8 598.2 906.8 611.6 906.8 527.8 906.8 564.5 906.8 594.2 906.8 622.5 906.7 596.8 906.7 550.1 906.7 583.5 906.7 531.5 906.7 617.8 906.7 522.1 906.7 583.8 906.7 532.8 906.7 532.9 906.7 604 906.7 557.9 906.7 575.8 906.6 597 906.6 601.4 906.6 555.4 906.6 551.9 906.6 567.4 906.6 585.6 906.6 598.9 906.6 575.9 906.5 611.4 906.5 576.4 906.5 577 906.5 554.4 906.5 598.6 906.5 542.2 906.4 487.1 906.4 603.3 906.4 557.9 906.4 617 906.4 593.8 906.4 600.5 906.3 608.8 906.3 526.7 906.3 589.9 906.3 588 906.3 630.2 906.3 531.9 906.3 598.9 906.2 600.5 906.2 566.5 906.2 566.9 906.2 603.7 906.2 608.2 906.2 566.6 906.2 570.8 906.2 513.5 906.1 484.1 906.1 538.7 906.1 602.2 906.1 553.9 906.1 596 906.1 554 906.1 557.2 906.1 568.9 906.1 593.5 906.1 590.4 906.1 547.9 906 597.3 906 583.3 906 522 906 567.4 906 596.8 906 577.1 906 558.6 906 605.4 906 573.1 906 598.7 906 575.9 905.9 574.8 905.9 593.9 905.9 602.7 905.9 596.6 905.9 614.8 905.9 599.2 905.9 545.8 905.9 499.6 905.8 586.4 905.8 515.1 905.8 574.8 905.8 525.4 905.8 574.6 905.8 625.6 905.8 621.1 905.8 583.2 905.8 544.2 905.7 551.6 905.7 573.3 905.7 555.8 905.7 570.5 905.7 552.2 905.7 599.9 905.7 564.9 905.6 547 905.6 599.1 905.6 560.1 905.6 584 905.6 548.1 905.6 581.3 905.6 515.3 905.6 541.6 905.6 577.2 905.6 568.2 905.5 502.4 905.5 587.8 905.5 577.6 905.5 570.6 905.5 510.9 905.5 585.3 905.5 590.6 905.5 573.8 905.4 563.4 905.4 533.5 905.4 566 905.4 603.8 905.4 557.9 905.4 626.6 905.4 580.3 905.4 532.6 905.3 555.6 905.3 594.2 905.3 591.6 905.3 556.7 905.3 532.7 905.3 623.9 905.3 585.9 905.3 605.8 905.3 597.7 905.3 609.1 905.3 608.2 905.2 550.3 905.2 617.5 905.2 588.1 905.2 560.2 905.2 528 905.2 546.9 905.2 588.1 905.2 545.5 905.1 595.2 905.1 595.8 905.1 556 905.1 572.2 905.1 498.6 905.1 606.9 905.1 615.5 905.1 495.9 905 505.6 905 614.6 905 595 904.9 588.1 904.9 514.1 904.9 588.6 904.9 549.7 904.9 532.7 904.9 591.4 904.9 496.7 904.9 529.2 904.8 557.4 904.8 580.5 904.8 592.5 904.8 575.7 904.8 573 904.7 610.7 904.7 531.6 904.7 632.3 904.7 608.7 904.7 590.2 904.7 586.8 904.7 595.6 904.7 523.3 904.7 567.9 904.7 592.2 904.7 585.3 904.6 584.8 904.6 565.9 904.6 544 904.6 593 904.6 569.4 904.6 512.5 904.6 556.4 904.6 520.3 904.5 502.2 904.5 547.1 904.5 536.2 904.5 591.2 904.5 599.2 904.5 603.3 904.5 503.7 904.5 552.8 904.5 548.7 904.4 583.4 904.4 557.4 904.4 547.5 904.4 507.8 904.4 515.6 904.4 563.5 904.4 622 904.4 579.1 904.4 605.7 904.4 597.1 904.4 614.9 904.3 587.1 904.3 571.7 904.3 554.9 904.3 539.3 904.3 491.3 904.2 588.6 904.2 606.7 904.2 599.7 904.2 555.8 904.1 622.5 904.1 579.2 904.1 565.2 904 598.2 904 590.9 904 611.9 904 563 904 495.4 904 603.7 903.9 611.9 903.9 602.9 903.9 594.9 903.9 536.9 903.9 597.2 903.9 561 903.9 483.3 903.8 524.1 903.8 551.9 903.8 552.2 903.8 493.5 903.8 573.1 903.7 546.1 903.7 531.2 903.7 579 903.7 506.5 903.7 618.2 903.7 594.3 903.7 548.7 903.7 495.9 903.7 564.5 903.6 552.9 903.6 593.7 903.6 609.2 903.6 535.6 903.6 507.9 903.5 600.3 903.5 522.5 903.5 586.7 903.5 528.3 903.5 578.1 903.5 590.1 903.4 613.6 903.4 603.7 903.4 577.6 903.4 600.4 903.4 610.8 903.4 604.1 903.4 609.9 903.4 516.2 903.4 580.6 903.3 609.9 903.3 574 903.3 522.5 903.3 612.1 903.3 597 903.2 568 903.2 598.8 903.2 571.5 903.2 593.4 903.2 603.4 903.2 587.7 903.2 551.8 903.2 607.5 903.2 599.3 903.2 578.2 903.2 555.3 903.2 519.6 903.2 574.6 903.2 598.8 903.1 520.8 903 544.4 903 577.8 903 609.3 903 568.7 903 585.2 903 496.2 903 546.2 903 616.2 902.9 598 902.9 555.5 902.9 563.8 902.8 518.5 902.8 562.7 902.8 605 902.8 604.2 902.8 587 902.8 557 902.8 572.9 902.8 597.7 902.8 563 902.8 542 902.8 493.7 902.8 595.6 902.8 569.4 902.8 526 902.8 574.2 902.7 601.8 902.7 565.7 902.7 588.3 902.7 567.6 902.7 582.6 902.7 613.6 902.7 589.6 902.6 540.1 902.6 577.3 902.6 547.8 902.6 514.9 902.6 501.4 902.5 580.5 902.5 615.2 902.5 585.3 902.5 608.1 902.5 578.3 902.5 569.4 902.4 590.2 902.4 596.4 902.4 604 902.4 562.1 902.3 515.2 902.3 617.3 902.3 600.1 902.3 561 902.3 580 902.3 598.6 902.3 577.5 902.2 555.5 902.2 576.7 902.2 596.8 902.2 592.9 902.2 581 902.2 568.4 902.2 596.2 902.2 592.5 902.2 586.1 902.2 565.6 902.2 613.1 902.1 594.6 902.1 558.8 902.1 589.8 902.1 551.1 902.1 510.6 902.1 585.7 902.1 586.2 902 607.1 902 598.3 902 557.4 902 583.3 902 599.6 902 588.8 902 595.1 902 526.2 902 564.6 901.9 579.8 901.9 514.7 901.9 550 901.9 494.1 901.9 550.1 901.9 596.2 901.9 557.1 901.9 549.4 901.9 556.2 901.9 561.9 901.8 579.2 901.8 567.7 901.8 592.6 901.8 563.4 901.7 617.7 901.7 557.1 901.7 544 901.7 584.5 901.7 573.9 901.7 585.4 901.7 574.6 901.7 586 901.6 559.2 901.6 521.2 901.6 611.6 901.6 598.2 901.6 546.5 901.6 596.5 901.6 547.6 901.6 479.8 901.6 562.2 901.5 589.1 901.5 474.8 901.5 535.3 901.5 588.5 901.5 567.9 901.5 592.6 901.5 589.5 901.5 550.9 901.4 603.6 901.4 564.1 901.4 608.4 901.4 589.2 901.4 561.7 901.3 607.4 901.3 513.5 901.3 565.8 901.3 579.6 901.3 309.1 901.3 621.3 901.3 558.9 901.2 530.3 901.2 563.3 901.2 601.8 901.2 500.2 901.2 554.6 901.1 526.9 901.1 538.6 901.1 529.5 901.1 607.4 901.1 607.6 901 537.8 901 541.9 901 517.1 901 568.2 901 594.9 901 586.7 901 573.5 901 563.8 900.9 562.4 900.9 557.3 900.9 601.4 900.9 560.2 900.8 588.4 900.8 583.5 900.8 540.2 900.8 580.7 900.8 595.6 900.8 603 900.7 547.7 900.7 540.9 900.7 546.2 900.7 532.1 900.7 630.6 900.7 538.5 900.7 597.8 900.7 583.4 900.6 593.5 900.6 559.4 900.6 586.1 900.6 521.2 900.6 543 900.6 497.9 900.6 569 900.5 506.1 900.5 601.8 900.5 609.4 900.5 572.1 900.5 609.7 900.5 568.9 900.5 564.3 900.5 589.1 900.5 619.5 900.5 560.2 900.5 546.4 900.4 589.1 900.4 563.4 900.3 539.5 900.3 563.1 900.3 520.6 900.3 573.4 900.3 544.6 900.3 611.1 900.3 594.5 900.3 582 900.3 594.7 900.3 571.6 900.2 586.1 900.2 577.9 900.2 530 900.1 544.1 900.1 571.4 900.1 547.1 900.1 500.8 900.1 589.5 900 579.5 900 604.1 900 540.4 900 554.4 900 538.6 900 560.3 900 513 900 525 900 490.6 900 543.3 900 565.5 899.9 548.1 899.9 461.9 899.9 556.7 899.8 604.6 899.8 552.1 899.8 602.6 899.8 597.6 899.8 529.8 899.8 566.2 899.8 568.4 899.8 600.4 899.7 615.7 899.7 547.7 899.7 602.4 899.7 598.1 899.7 596.5 899.7 616.6 899.7 602.1 899.7 593.4 899.7 584.1 899.7 542.8 899.7 528.4 899.6 568.7 899.6 574.1 899.6 599.8 899.6 608.6 899.6 598.4 899.6 583.9 899.6 519.4 899.6 567.1 899.5 536.9 899.5 592.1 899.5 549.2 899.5 581.8 899.5 549.3 899.4 574.9 899.4 607.1 899.4 590.1 899.4 611.7 899.4 584.3 899.4 610.7 899.3 602.8 899.3 555.7 899.3 607.1 899.3 588.1 899.3 608.7 899.3 557.4 899.3 561.6 899.3 598.5 899.3 514 899.2 591.2 899.2 590.3 899.2 548.9 899.2 567.1 899.2 604.1 899.2 603.6 899.2 593.2 899.2 613.1 899.1 536.7 899.1 583.1 899.1 586.8 899.1 620.2 899.1 611.8 899.1 515.4 899 526.4 899 506.3 899 520.8 899 574.7 899 587.3 899 584.4 899 577.8 899 594.2 899 608.5 898.9 539.5 898.9 615.5 898.9 553.5 898.9 615.5 898.9 583.2 898.9 597 898.9 581.8 898.8 577.2 898.8 560.2 898.8 581.7 898.8 540.9 898.8 528.3 898.7 596.6 898.7 578.8 898.7 624.7 898.7 584.9 898.7 491.3 898.7 558.4 898.7 607.6 898.6 568.1 898.6 545.8 898.6 595.1 898.6 588.8 898.5 554.3 898.5 501.5 898.5 563.3 898.5 575.7 898.5 614.5 898.5 565.2 898.5 493.7 898.5 564.2 898.5 595.5 898.4 590.8 898.4 609.1 898.4 607.4 898.4 567.4 898.4 513.3 898.4 618.8 898.4 603.8 898.3 587.6 898.3 576.9 898.3 543 898.3 562.9 898.3 538.2 898.3 571.4 898.3 517.8 898.3 609.1 898.2 587.5 898.2 599.3 898.2 582.9 898.1 608 898 533.3 898 611.7 898 584.5 898 571 897.9 576.8 897.9 499.8 897.9 544.3 897.9 555.4 897.9 454.6 897.9 627.7 897.9 542.1 897.9 567.8 897.9 568.3 897.8 605 897.8 592 897.8 529.4 897.8 588.3 897.8 604.5 897.8 593.1 897.7 516.2 897.7 612.5 897.7 591.3 897.7 574.5 897.7 609.3 897.7 461.4 897.7 607 897.6 593.4 897.6 538.5 897.6 503.2 897.6 553.9 897.6 572 897.6 594.2 897.6 588.6 897.6 601.3 897.6 521.1 897.6 629.2 897.6 592.5 897.5 579 897.5 605.2 897.5 554.3 897.5 530.7 897.5 604.5 897.5 559.4 897.5 508.9 897.5 605 897.4 610.9 897.4 505.8 897.4 606.8 897.4 550.8 897.4 573.9 897.3 585 897.3 593.9 897.3 579.9 897.3 564.3 897.3 571.4 897.3 521.8 897.1 510.6 897.1 550.8 897.1 563.5 897.1 512.1 897.1 583.2 897.1 524.7 897.1 562.1 897.1 558.3 897.1 545.8 897 570.9 897 565.6 897 575.5 897 571 897 532.4 896.9 580.6 896.9 588.2 896.9 514.9 896.8 602.3 896.8 549.8 896.8 571.3 896.8 487.5 896.8 553.8 896.8 613.4 896.8 574.9 896.7 575.2 896.7 583.5 896.7 600.7 896.7 554.8 896.7 478.2 896.7 607.2 896.6 558.5 896.6 568.3 896.6 541.4 896.6 601.6 896.6 577.9 896.5 581.3 896.5 572.8 896.5 596.4 896.5 574.7 896.5 522.3 896.4 612.3 896.4 623 896.4 544 896.4 577.8 896.4 493.8 896.3 612.3 896.3 548.4 896.3 547.2 896.3 474.7 896.2 575.5 896.2 562.3 896.2 550 896.2 499 896.1 545.7 896.1 570.1 896.1 596.9 896.1 472.5 896.1 625.9 896.1 550.1 896.1 591.8 896.1 572.8 896 560.7 896 582.6 896 611.1 896 465.5 896 531.1 895.9 490.8 895.9 589.4 895.9 601.1 895.9 579.4 895.8 591.7 895.8 566.1 895.7 572.4 895.7 507.8 895.6 585.1 895.6 600.4 895.6 605.8 895.5 496.9 895.5 576.4 895.5 553.1 895.5 564.5 895.5 582.5 895.5 594.7 895.5 567.5 895.5 530.3 895.4 579.9 895.4 569.8 895.4 597.6 895.3 558.1 895.3 590.1 895.3 537.6 895.2 579.4 895.2 543.3 895.2 537 895.2 582.6 895.2 565.6 895.2 539.5 895.2 555.5 895.2 600.5 895.2 616.7 895.1 579.6 895.1 599.6 895.1 442.6 895.1 583.2 895.1 540.2 895.1 595.3 895 589.7 895 595.5 895 629.6 895 587.6 894.9 586.2 894.9 586.2 894.9 587.5 894.9 586.6 894.9 516.9 894.8 600.6 894.8 495.7 894.8 591.2 894.8 569.9 894.7 572.1 894.7 576.6 894.7 595.4 894.6 598.8 894.6 553.8 894.6 596.8 894.6 579.9 894.5 525.5 894.5 630.2 894.5 491.1 894.5 462.7 894.5 548.2 894.4 617.2 894.4 511.2 894.4 561.3 894.3 591.2 894.3 484.1 894.3 592.4 894.3 561.3 894.3 565.2 894.3 578.4 894.2 610.6 894.2 602 894.2 578.5 894.2 608 894.2 563.4 894.2 599.6 894.2 588.5 894.1 499.1 894.1 590.3 894.1 601.7 894.1 498.4 894 560.1 894 538.6 894 548.3 894 608.2 893.9 596.3 893.9 596.5 893.9 611.5 893.9 606.4 893.8 513.8 893.8 551.2 893.8 536.4 893.8 449 893.8 532.6 893.8 534.9 893.7 604.2 893.7 601.7 893.7 543.1 893.7 596.2 893.7 622 893.6 608.5 893.6 532.7 893.6 563.7 893.6 500.4 893.6 516.2 893.5 583.2 893.5 568.7 893.5 566.6 893.5 539.3 893.4 594.6 893.4 565.6 893.3 593.9 893.3 563.7 893.3 575.7 893.3 582.3 893.3 559 893.3 509.8 893.2 547.7 893.2 566.1 893.2 589.8 893.2 499.9 893.2 560.2 893.1 599.1 893.1 611.8 893.1 619.5 893 609.6 893 544.8 893 546.4 893 558.6 893 553.6 893 600.8 893 528.6 893 575 893 600.7 893 598.9 892.9 599.7 892.9 496.4 892.9 573.5 892.9 613.1 892.9 604.5 892.7 564.3 892.7 579.9 892.6 587.2 892.6 607.7 892.6 534.6 892.6 576.6 892.6 572.9 892.6 585 892.6 519 892.5 617.1 892.5 539.8 892.5 548.4 892.5 511.7 892.5 584.9 892.5 585.7 892.4 593.6 892.4 608.9 892.4 490.1 892.4 528.2 892.4 593.7 892.4 595.7 892.3 593.7 892.3 480.8 892.3 609.7 892.2 553.3 892.2 582.6 892.2 529 892.2 580.9 892.1 595.1 892.1 598.7 892.1 607.8 892.1 581.9 892.1 529.6 892.1 499.6 892 613.8 892 529.2 892 528.8 891.9 559.4 891.9 540.6 891.9 564.3 891.8 587.3 891.8 574.9 891.8 601.5 891.8 571.9 891.8 570.9 891.8 536.5 891.8 588.2 891.8 586.4 891.8 469.7 891.7 574.3 891.7 459.6 891.7 602.6 891.7 548.4 891.6 583.2 891.6 570.7 891.6 529.4 891.6 578.9 891.6 526 891.6 589.5 891.6 607.2 891.6 605 891.6 551.3 891.6 603.2 891.6 466.3 891.5 589.9 891.5 583.6 891.5 480.3 891.5 605 891.4 506.7 891.4 583.3 891.4 517.1 891.4 556.8 891.3 610.7 891.3 552.1 891.3 513.5 891.3 611.8 891.3 517.4 891.3 581.6 891.3 579 891.2 524.4 891.1 532.7 891.1 551.4 891.1 536.3 891.1 521.3 891.1 563.9 891.1 570.6 891.1 598.9 891 581.5 891 531 890.9 558.2 890.9 544.3 890.9 575.6 890.8 586.7 890.8 517.7 890.8 502.5 890.8 568.3 890.8 463.2 890.8 606.5 890.8 427.8 890.8 550.8 890.7 601 890.7 600.1 890.7 521.4 890.6 601.7 890.6 546.6 890.5 496.5 890.5 577.1 890.5 494.2 890.4 530.6 890.4 524.6 890.4 501 890.4 570.8 890.4 587.7 890.4 543.7 890.4 570 890.4 585.2 890.4 592.9 890.3 490.2 890.3 523.6 890.3 590.1 890.3 557.7 890.3 586.1 890.2 550.6 890.2 548.7 890.1 548.6 890.1 576.6 890.1 425.4 890.1 559.5 890 605.2 890 547.4 890 593.2 889.8 560.1 889.8 600.7 889.8 601 889.8 484.7 889.8 603.5 889.8 596.2 889.7 505.8 889.7 552.1 889.7 570.7 889.7 560.3 889.7 615.3 889.7 583.1 889.7 580 889.6 532.5 889.6 615.6 889.6 572.3 889.6 562.4 889.6 568.3 889.6 581.7 889.5 573.9 889.5 571.5 889.4 567 889.4 598.6 889.4 596.3 889.4 571.6 889.4 576.5 889.3 587.8 889.2 488.1 889.2 593.1 889.2 603.7 889.2 567.5 889.2 589.9 889.2 576.3 889.2 433.1 889.1 601.9 889.1 596.5 889.1 603.9 889.1 574.2 889.1 535.7 889.1 546 889 567.8 889 564 889 599.4 888.9 555.1 888.9 530.5 888.8 602.8 888.8 549.7 888.8 536.3 888.8 585.2 888.7 538.5 888.7 562.3 888.7 529.6 888.7 546.4 888.6 577.2 888.6 443.6 888.6 499.7 888.5 578.4 888.5 588.2 888.5 555.2 888.5 556.1 888.5 585.4 888.4 606.2 888.4 560.2 888.4 597.8 888.4 577 888.2 542.4 888.2 577.4 888.2 569.7 888.2 583 888.1 581.6 888.1 568.3 888.1 592.4 888 596.9 888 501.9 888 564.7 887.9 548.9 887.9 540.5 887.9 544.4 887.9 566.4 887.9 587.3 887.9 589.9 887.8 564.7 887.8 562.5 887.8 601.9 887.8 574.6 887.8 577.6 887.7 571.4 887.7 541.9 887.6 554.8 887.6 594.9 887.6 556.7 887.6 544.3 887.5 594.9 887.5 620 887.5 572 887.5 595.6 887.5 543.8 887.4 599.5 887.4 544.5 887.4 584.2 887.4 606.5 887.3 557.8 887.3 491.7 887.3 631.5 887.3 605.2 887.2 568.9 887.1 548.8 887.1 601.3 887 527.1 887 612.8 887 491.8 886.9 607.6 886.9 439.5 886.9 556 886.9 599.1 886.9 588.6 886.9 562.6 886.9 441.6 886.8 602.8 886.8 572.2 886.8 589.1 886.8 583.9 886.8 567.1 886.7 553.2 886.7 603.5 886.7 562.3 886.7 561.3 886.6 584.7 886.5 602.7 886.5 560.9 886.5 586.1 886.5 528.2 886.5 596.4 886.5 583.1 886.5 595.7 886.5 523.5 886.4 579.5 886.4 608.5 886.4 590.3 886.4 571.2 886.4 573.6 886.4 555.5 886.4 518.9 886.3 542.5 886.3 568.2 886.3 612.3 886.2 560.5 886.2 617.1 886.2 578.4 886.1 563.3 886.1 587.9 886.1 514.7 886 510.8 886 520.6 885.9 545.3 885.8 611.8 885.7 535.2 885.7 503.7 885.7 594.5 885.7 524.5 885.6 590 885.6 579 885.6 603.2 885.6 548.4 885.6 504 885.6 535.8 885.5 516.9 885.5 563.5 885.4 551.5 885.4 619 885.4 565.5 885.4 581.7 885.4 602.4 885.3 596.8 885.3 596.2 885.3 544.7 885.2 551.8 885.2 499.8 885.2 586.5 885.2 584.7 885.1 497 885.1 592.4 885.1 486.6 885 543 885 598.5 884.9 578.3 884.8 604.8 884.8 514.9 884.8 563.6 884.8 584.2 884.8 511.9 884.8 560.2 884.8 607 884.7 512.9 884.7 587.2 884.7 553.2 884.7 566.9 884.6 542.7 884.6 566.2 884.6 563.9 884.5 578.1 884.5 587.1 884.4 588.7 884.4 618.3 884.4 562.9 884.3 530.5 884.3 530 884.2 590.2 884.1 595.4 884.1 599.5 884.1 547.9 884.1 579.1 884.1 587.6 884 475.2 884 460.5 884 521.1 884 588.7 884 534 883.9 586.1 883.9 569.6 883.9 574.6 883.8 554.9 883.8 486.5 883.7 590.9 883.7 577.9 883.7 526.7 883.6 587.6 883.6 550.2 883.6 580.8 883.5 580.1 883.5 517.6 883.5 433.8 883.5 573 883.5 445.7 883.5 580.5 883.4 612 883.4 546.2 883.4 551.3 883.3 538.4 883.2 601.8 883.2 548.9 883.2 585.8 883.2 582.4 883.2 609.1 883.1 541.5 883.1 559.7 883.1 513.3 882.9 568 882.9 559.6 882.8 576.5 882.8 550.4 882.8 573.9 882.8 592.6 882.8 603.9 882.7 542.8 882.7 556.5 882.7 509 882.7 527.1 882.7 554.9 882.6 597.5 882.6 527.6 882.6 534 882.5 579.7 882.5 586.3 882.4 614.9 882.4 614.2 882.4 592.5 882.4 512.9 882.4 578.8 882.3 566.5 882.3 548.8 882.3 555.7 882.3 596.8 882.1 581 882 507.2 882 487 882 594.5 882 538 882 607.3 882 480.8 882 542.6 881.9 567.1 881.9 608.8 881.8 597.7 881.7 591.1 881.7 479.3 881.7 610.3 881.6 533.9 881.6 576.1 881.5 557.4 881.5 535.4 881.5 566.3 881.4 452.3 881.4 462.4 881.3 484.7 881.3 603.1 881.2 607.9 881.1 588.3 881.1 587.8 881.1 540.8 881.1 537.9 881.1 482.3 881.1 601.5 881 590.2 881 484.7 880.9 542.5 880.8 597.7 880.8 594.8 880.7 593.6 880.7 583.5 880.7 567.2 880.6 510.1 880.5 583.6 880.5 601.1 880.5 594.6 880.4 603.9 880.3 571.3 880.3 571.5 880.3 551.9 880.3 601.8 880.3 529.2 880.3 568.7 880.2 468.1 880.2 480 880.2 558.4 880.2 593.1 880.2 573.2 880.2 545.5 880.2 580.4 880.1 575.9 880.1 600.3 880.1 585.3 880.1 539.8 880 595.9 880 512.3 880 507.5 880 517.7 880 534.3 880 587.8 880 540.8 879.9 595.9 879.9 586.3 879.9 519.6 879.9 609.2 879.7 593 879.7 529.1 879.6 556 879.6 585.4 879.5 551 879.5 529.7 879.4 567.5 879.4 530.2 879.3 504.7 879.3 463.6 879.2 599.7 879.2 539.2 879.2 555.4 879.2 590.9 879.2 576.4 879.2 570.3 879.2 545.7 879.1 615.3 879.1 551.4 879.1 592.5 879.1 559.7 879 579.6 879 536.6 879 573.2 879 530.9 879 506.5 878.9 521.8 878.9 604.5 878.9 604.3 878.8 588.3 878.8 526.7 878.7 494.3 878.7 551.5 878.6 550.6 878.5 560.6 878.4 574.4 878.4 546.6 878.3 594.3 878 604.2 877.9 580.9 877.9 527.5 877.9 461.9 877.9 574 877.8 457.1 877.8 573.7 877.7 574.1 877.6 582.8 877.6 597.3 877.6 551.2 877.5 594.3 877.5 368.1 877.4 560.2 877.4 482.3 877.4 540.1 877.4 557.8 877.4 597.9 877.3 598.3 877.2 574.1 877.2 581 877.2 512.2 877.1 570.5 877 582.8 877 580.1 877 605.2 877 505.8 876.9 527.9 876.8 585.4 876.8 603.6 876.7 582.8 876.6 588.3 876.5 584.1 876.4 593 876.4 577.4 876.4 512 876.3 488.7 876.2 586.9 876.2 506.2 876.1 589.4 876.1 542.5 876 510.7 876 584.6 875.9 577.4 875.9 582.6 875.8 586.7 875.8 589.3 875.7 581.7 875.7 600.3 875.7 522 875.7 580.1 875.7 588 875.6 529.6 875.5 549.5 875.5 564.6 875.4 551.9 875.4 575.6 875.4 484.8 875.4 550.5 875.3 586.8 875.3 572.5 875.1 535.7 875 553.6 875 568.5 874.9 544.1 874.8 574 874.7 568.2 874.6 541.9 874.5 569.2 874.5 575.2 874.5 551.1 874.5 535.5 874.4 593.8 874.4 573.7 874.4 554.9 874.4 523.4 874.4 584.7 874.3 552 874.3 589 874.2 426.2 874.2 613.1 874.2 522.5 874.1 574.9 874.1 472.2 874.1 502.4 874.1 553.7 874.1 574 874 537.6 874 602.6 874 561.9 874 605.7 874 476.3 874 542 873.9 507 873.9 581.8 873.9 480.2 873.9 581.8 873.7 552.7 873.7 541.4 873.7 603.8 873.6 474.4 873.6 603.5 873.6 579.7 873.5 568.2 873.5 563.8 873.5 559.2 873.4 596.3 873.3 427 873.2 489.1 873.2 592.7 873.1 472.6 873.1 537.2 873.1 547.2 873.1 534.1 873 567 872.9 548.2 872.7 580.9 872.7 552.7 872.6 543.5 872.5 480 872.5 591.3 872.5 440 872.4 590.7 872.4 510.6 872.3 503.5 872.3 587 872.3 596.5 872.2 538 872.2 535.8 872.1 528.9 872.1 561.5 872 541 872 535.8 871.9 510 871.8 577.2 871.8 559.2 871.7 585.7 871.7 530.3 871.7 575.9 871.7 511.7 871.7 553.1 871.6 556 871.5 610.8 871.5 561.5 871.4 537 871.4 589.8 871.2 475.9 871.2 491.5 871.2 452.4 871.1 584.5 871.1 544.4 871 557.1 871 534.3 870.8 504.3 870.8 570.4 870.7 518.7 870.7 499.6 870.7 511.3 870.6 611.9 870.5 472.9 870.5 564.2 870.4 548.3 870.4 448.9 870.4 592.1 870.4 503.5 870.4 553 870.4 540.2 870.3 543.9 870.3 539.9 870.2 563.9 869.8 511.1 869.8 583.7 869.6 565.7 869.6 537.9 869.6 611.4 869.5 540 869.5 575.8 869.4 469.4 869.4 584.2 869.2 569.2 869.2 597.1 869.2 491.9 869.1 608.6 868.9 530 868.9 564.2 868.8 567.1 868.8 587.8 868.7 606.4 868.4 604.6 868.4 597.4 868.4 560.9 868.3 476.4 868.2 534.9 868.1 533.3 868.1 601.5 868 572.7 867.9 560 867.8 605.9 867.8 571 867.7 557.8 867.7 572.2 867.7 540.9 867.7 582.9 867.6 594.4 867.5 571 867.5 603 867.4 595.1 867.4 489.8 867.3 522.9 867.3 592.7 867.3 569.5 867.3 449.7 867.2 556 867 535.6 867 594.5 866.9 586.3 866.8 540 866.8 601.5 866.7 502.9 866.5 609.9 866.4 573.7 866.3 607.6 866.3 539 866.2 555.8 866.1 565.4 866.1 576.1 866 589 865.8 549.5 865.8 461.6 865.8 571 865.4 575 865.4 599.1 865.3 581.1 865.2 591.5 865.2 562.7 865.1 514.2 865.1 564.8 865 558.1 864.9 556.4 864.9 574 864.8 544 864.6 599 864.5 543.9 864.3 513.6 864.3 464.4 864.3 568.1 864.2 545.5 864.2 550.1 864.1 499.5 864.1 538.9 864.1 525.7 864 545.6 863.9 566.7 863.7 564.4 863.5 577.8 863.5 554 863.5 597.9 863.4 527.7 863.4 541.9 863.3 587.9 863.3 578.7 863.3 574.7 863.2 555.7 863.2 557.5 863.2 577.6 863 583.3 863 514.7 862.9 596 862.9 384.7 862.9 603.8 862.8 487.2 862.8 470.5 862.7 532.9 862.7 548.3 862.7 446.3 862.6 559.5 862.6 580.9 862.5 577.5 862.5 527.7 862.4 584.7 862.3 513.5 862 546.4 861.8 604.9 861.7 575.4 861.7 555.9 861.6 572.6 861.5 532.2 861.5 567.1 861.4 580.1 861.1 585.2 861.1 602.1 860.9 546.5 860.9 369.3 860.6 581.5 860.4 534.5 860.4 576.9 860.3 547.1 860.3 609.5 860.3 563.1 860.3 522.5 860 506.5 860 557.1 860 377.4 859.9 567.9 859.8 531.9 859.7 560.5 859.7 536.8 859.6 520.5 859.5 517.6 859.5 547.9 859.4 470.6 859.4 533.3 859.4 594 859.3 437.9 859.2 502.6 859.1 504.2 858.8 563.3 858.8 560.8 858.7 565.1 858.6 499.8 858.5 586.4 858.2 518.9 858.2 560.9 858.1 598.2 858.1 603.5 857.9 600.6 857.8 511.7 857.7 579 857.7 571 857.6 578.6 857.6 528.2 857.5 591.2 857.3 550.1 857.1 545.8 857 595.4 857 542.4 856.9 575.6 856.4 595 856.4 537 856.4 575.6 856.3 569.3 856.1 578.3 856.1 577.9 856 552.6 855.8 539.1 855.5 596 855.4 569.7 855.3 598.6 855.3 588.3 855.3 362 855.1 551.4 854.9 480.4 854.4 525.6 854.3 549.7 854.1 598.4 854 573.2 854 565.5 853.9 596.3 853.7 557.1 853.6 530.4 853.4 586.3 853.3 570.6 853.2 479.7 853.2 546.7 853.1 576.6 853 542.8 853 441.4 852.8 485.1 852.8 544 852.8 594.5 852.5 536.7 852.4 556.4 852.3 351.4 852.2 604.1 852.2 562.3 851.8 510.7 851.5 326.2 851.5 478.3 851.4 522.4 851.3 479.6 851.1 471.5 851 570.1 850.9 514.3 850.7 589.3 850.6 596.6 850.3 570.2 850.2 596.7 850 529.2 849.9 569.8 849.8 569.5 849.4 588.9 849.1 582.4 848.6 394.7 848.6 437.9 848.6 452.4 848.6 437.1 848.5 545.9 847.8 592.4 847.7 571.3 847.6 578.4 847.6 552.9 847.4 597.9 847.2 531.3 846.8 549.2 846.8 589.8 846.8 586.6 846.7 578.9 846.4 571.5 846.2 480.2 846 586.2 845.8 580 845.8 555.5 845.8 550.7 845.2 591.9 845.1 531 845 547.2 844.2 568.9 843.9 525.7 843.6 549.8 843.4 549.9 842.7 559.5 842.7 571.8 842.5 537 842.3 582.8 842.1 540.8 842.1 574.2 842 599.4 841.9 555.3 841.9 490.9 841.8 523 841.6 448.9 841.5 459 841.5 432.7 841 448.9 841 497.4 840.9 518.3 840.9 527.4 840.6 568.9 840.3 501.4 840.3 549.8 840.2 458.7 839.9 540.6 839.7 399.3 839.6 546.4 839.5 593.9 839.3 576.9 839.3 504 839 491.6 839 571.9 838.6 519.6 838.6 585 838.2 557.9 838 476.9 837.9 566.1 837.8 573.6 837.7 523.7 837.3 489.5 837.2 591.4 837 572 836.9 558.1 836.8 583.2 836.6 489.6 836.6 533.5 836.4 481.6 836.2 589.6 835.1 561.9 835 516.6 835 593.5 834.9 562.6 834.9 480.3 834.8 530.3 834.8 567.3 834.1 596.8 834 465.3 833.4 525.2 833.2 266.4 832.9 592.5 832.3 591.9 832 552.9 831.7 520 831.7 545.9 831 585.4 830.6 491.8 830.4 379.8 830.3 560 830.3 517.1 830 586.3 830 537.6 829.9 533.5 829.7 591.9 829.4 537 829.3 582.5 829.2 596.1 829 574.3 828.8 582.1 828.6 591.5 828.6 537.6 828.5 551.3 828.5 535 827.8 426.2 827.4 439.1 827.3 569.8 827.1 593.7 826.9 522.4 826.7 570.3 826.6 551.9 826.3 539.9 826.1 270.9 826 441.4 825.9 509.3 825.9 526.7 824.9 587.9 824.9 581 824.8 472 824.6 571 823.7 532.8 823.7 440 823.3 299.4 823 577.3 822.7 589 822.5 563.2 822.5 594.9 822.1 509.2 821.6 483.9 821.5 554.9 820.8 542.2 819.9 534.3 819.7 441.6 819.4 572.4 819.3 451.8 819.1 555.2 818.8 483.6 818.7 594.2 818.6 521.5 818.3 527.9 817.9 589.5 817.8 465.5 817.6 465.2 817.6 560 817.3 566.6 817.3 548.5 817.3 589.7 817.2 571.9 816.9 546.4 815.4 464.8 814.4 522.6 813.1 451.4 813 588.8 813 559.7 812.6 526.7 812.5 574.2 812.4 472.6 812.1 267.7 811.5 532.5 811.5 459.5 810.1 482.2 809.8 525.1 809.4 548.1 809.3 420.5 809.2 539.6 809 476.1 808.3 480.6 808.2 594.9 807.8 550.8 807.3 533.3 807.1 582 806.8 511.8 806.8 545.4 806.7 485 806.7 407.5 806.6 535.3 805.8 414.8 804.5 511 804 528.4 803.9 533.5 803.8 517.3 803.7 587.3 803.3 580.7 803.2 581.3 803 582.4 802.8 434.3 801.7 540.1 801.7 487.3 801.6 501.7 800.8 336.3 800.7 363.6 800.6 401.4 800.3 556.5 800.3 510.4 799.9 585.7 799.7 571.4 799.7 381.5 799.3 485.5 799.3 563.3 799 589.5 798.9 573.3 797.5 565.8 797.3 480.3 796.7 468.4 792.4 527 792.3 579 792.2 575.7 791.9 445.2 791.9 430.6 791.9 519.1 791.4 516.1 791.3 300.2 789.1 302.6 789.1 481.4 788.4 530.2 788.4 514.9 787.9 531 786.6 580.6 786.3 448.9 786.3 465.2 786.3 518 786.3 432.7 784.9 584.7 784.7 346.9 782.8 452.5 781.1 585.8 780.7 473.6 776.5 535.1 775.7 381.5 775.1 563.8 775.1 457 774.5 509.1 773.7 422.9 766.7 349.8 765.3 497.7 763.9 565.1 760.4 553.8 752.7 414 749.9 551.8 749.9 501.7 735.8 378.2 734.4 370.1 731.6 394.5 730.2 347.3 726.7 476.6 719 543.2 716.9 466 707.8 576.5 707.8 409.9 672.7 339.6 655.9 265.3 649.6 133.6 636.3 532.8 634.9 526.9 627.9 371.7 611.8 349.8 602.6 397.7 592.8 513.9 564.8" fill="none" stroke="none" marker-start="url(#mg)" marker-mid="url(#mg)" marker-end="url(#mg)"/>
<line x1="133.6" y1="714" x2="631" y2="920.9" stroke="#9c1b20" stroke-width="3.0" stroke-linecap="butt"/>
<marker id="md" markerUnits="userSpaceOnUse" markerWidth="18" markerHeight="18" refX="9" refY="9"><circle cx="9" cy="9" r="7" fill="#d4d4d4" stroke="url(#gs)" stroke-width="1.5"/></marker>
<path d="M1236.7 923 1247 923 1265.4 923 1250.7 923 1262.7 922.9 1199.9 922.9 1224.4 922.9 1282.1 922.9 1274.7 922.9 1213.4 922.9 1246.6 922.8 1239.2 922.8 1252 922.8 1269.2 922.8 1234.6 922.8 1253.2 922.7 1258.8 922.7 1232.7 922.7 1245.5 922.7 1202.7 922.7 1196.7 922.7 1275.2 922.7 1235.3 922.6 1227 922.6 1264.2 922.6 1253.6 922.5 1205.2 922.5 1205.6 922.5 1260.2 922.5 1251.5 922.4 1259.3 922.4 1225.8 922.4 1288.2 922.4 1226 922.4 1196 922.4 1269.2 922.4 1240.5 922.4 1236.8 922.4 1217 922.4 1249 922.4 1257.8 922.3 1240.1 922.3 1196.3 922.3 1270.2 922.3 1212.4 922.3 1266.1 922.3 1250.4 922.3 1249.2 922.2 1273.2 922.2 1212.8 922.2 1217.7 922.2 1237.2 922.2 1267.8 922.2 1278.4 922.2 1233.6 922.2 1243.1 922.2 1259.1 922.2 1276.6 922.1 1258.2 922.1 1231.5 922.1 1271.5 922.1 1236.2 922.1 1245.6 922.1 1270.3 922.1 1263.3 922.1 1199.5 922 1274.3 922 1261.5 922 1259.7 922 1264.6 922 1263.8 922 1222.6 922 1205.4 922 1195.9 921.9 1231.3 921.9 1260.1 921.9 1267.9 921.9 1235.9 921.8 1220.7 921.8 1202.8 921.8 1257.4 921.8 1254.4 921.8 1243.1 921.8 1196.3 921.8 1272.9 921.8 1256.8 921.8 1246.1 921.8 1294.5 921.7 1253.4 921.7 1287 921.7 1262.6 921.7 1249.6 921.7 1239.2 921.7 1260 921.7 1251.8 921.7 1230.5 921.7 1236.9 921.7 1217.4 921.7 1244.1 921.6 1250.9 921.6 1207.7 921.6 1216.7 921.6 1262.8 921.6 1216.2 921.5 1231.1 921.5 1235.6 921.5 1216.7 921.4 1268.7 921.4 1277.5 921.4 1243.8 921.4 1278.6 921.3 1212.3 921.3 1248 921.3 1203.7 921.3 1240.6 921.3 1208.8 921.3 1267.1 921.2 1199.1 921.2 1238.8 921.2 1242.3 921.2 1259.5 921.2 1264.6 921.2 1284.2 921.2 1235.7 921.2 1208.6 921.1 1234 921.1 1262.5 921.1 1186 921.1 1272.7 921.1 1226.4 921.1 1252.4 921.1 1249.2 921.1 1248.6 921.1 1280.4 921.1 1190.7 921.1 1279.6 921.1 1250.3 921 1219.7 921 1291 921 1197.9 921 1264.4 921 1281.2 921 1240.8 921 1256.7 921 1280.9 921 1263.8 921 1211.7 921 1269 921 1254.5 920.9 1276 920.9 1217.2 920.9 1256.1 920.9 1266.6 920.9 1196 920.9 1272.1 920.9 1279.4 920.9 1185.3 920.9 1256.3 920.9 1275.6 920.8 1269.8 920.8 1219.9 920.8 1272.7 920.8 1242.6 920.8 1240.4 920.8 1275.1 920.8 1222.4 920.8 1255.8 920.8 1198.9 920.7 1201.5 920.7 1243.8 920.7 1233.9 920.7 1238.6 920.7 1241.3 920.7 1265.6 920.6 1249.5 920.6 1275.5 920.6 1250.4 920.6 1273.6 920.5 1283.4 920.5 1246.7 920.5 1185.6 920.5 1186.4 920.5 1268.1 920.4 1224.3 920.4 1180 920.4 1228.5 920.4 1261.4 920.3 1267.3 920.3 1223.6 920.3 1206.7 920.3 1247.6 920.3 1260.5 920.3 1241.7 920.3 1279.6 920.3 1268.1 920.3 1226.6 920.2 1285.1 920.2 1251.9 920.2 1247.1 920.2 1272.2 920.2 1275.1 920.2 1271.1 920.2 1213.1 920.2 1226.7 920.1 1182.2 920.1 1257.4 920.1 1259.8 920.1 1250.6 920 1262.4 920 1273.6 920 1254.7 920 1221.2 920 1238.6 919.9 1257 919.9 1217.3 919.9 1267.1 919.8 1262.4 919.8 1265.2 919.8 1210.7 919.8 1214.5 919.8 1253.3 919.8 1260.8 919.8 1269.7 919.8 1228.9 919.8 1224.4 919.8 1234.5 919.8 1260.9 919.7 1210.1 919.7 1268.4 919.7 1263.5 919.7 1226.8 919.7 1264.2 919.6 1274.1 919.6 1251.9 919.6 1247.3 919.6 1176.5 919.6 1259.5 919.6 1254.5 919.6 1251.1 919.6 1255.9 919.5 1274.8 919.5 1270.2 919.4 1183.7 919.4 1211.9 919.4 1234 919.4 1234.2 919.4 1268.9 919.3 1270.9 919.3 1265.4 919.3 1224 919.2 1259 919.2 1270.7 919.2 1233.4 919.2 1248.2 919.1 1284.3 919.1 1259.2 919.1 1265.4 919.1 1221 919.1 1226.2 919 1251.5 919 1273.9 919 1263.8 919 1254.7 919 1215.5 918.9 1265.7 918.9 1275.7 918.9 1233.8 918.9 1263.9 918.9 1248.8 918.9 1268 918.9 1273.4 918.9 1255.8 918.8 1235.7 918.8 1267.6 918.8 1279.2 918.8 1257.1 918.8 1274.7 918.8 1240.4 918.8 1243.1 918.7 1252.9 918.7 1264.4 918.7 1260.9 918.7 1255.8 918.7 1268 918.7 1241.4 918.7 1213.5 918.7 1233.2 918.6 1252.9 918.6 1269.2 918.6 1247.4 918.6 1261.4 918.5 1228.5 918.5 1201.6 918.5 1214.7 918.5 1231.3 918.4 1215.4 918.4 1250 918.4 1279.9 918.4 1280.4 918.4 1263 918.4 1256.9 918.4 1254 918.4 1213.5 918.3 1294.1 918.3 1211.4 918.3 1251.7 918.3 1237.4 918.3 1256.4 918.3 1242.2 918.2 1206.9 918.2 1261.7 918.2 1246.7 918.2 1268.4 918.1 1228.3 918.1 1260.3 918.1 1257.7 918.1 1232.4 918.1 1244.8 918.1 1247.1 918.1 1262.9 918.1 1235.7 918.1 1220.2 918.1 1217.4 918 1245.7 918 1252.2 917.9 1267.4 917.9 1256.1 917.9 1283 917.9 1248.3 917.9 1233.5 917.9 1200.4 917.9 1281.7 917.8 1266.9 917.8 1246.6 917.8 1223.2 917.8 1176.1 917.7 1270.3 917.7 1222.8 917.7 1259.9 917.7 1196.3 917.7 1227.2 917.7 1277.6 917.6 1195.3 917.6 1247 917.6 1221.6 917.6 1268 917.6 1279.1 917.6 1221.2 917.6 1279.8 917.6 1234.5 917.6 1195.5 917.6 1240 917.5 1261.1 917.5 1209.2 917.5 1263.3 917.5 1250.2 917.5 1250.8 917.5 1279.9 917.5 1231.3 917.4 1255.1 917.4 1175.1 917.4 1281.6 917.4 1214.1 917.4 1280.8 917.4 1285.4 917.4 1180.5 917.4 1257.8 917.4 1214.5 917.3 1276 917.3 1267.4 917.3 1177.1 917.3 1285.1 917.3 1212.8 917.3 1253.4 917.3 1258.1 917.3 1223.8 917.2 1256.6 917.2 1216.3 917.2 1214.8 917.2 1230.4 917.2 1238.8 917.2 1268.1 917.2 1191 917.1 1200.8 917.1 1245 917.1 1265.1 917.1 1212.4 917 1213.1 917 1188.2 917 1237.8 917 1189.9 917 1281.3 917 1270.8 917 1274.7 916.9 1248 916.9 1265.1 916.9 1218.3 916.9 1241.6 916.8 1253.4 916.8 1245.9 916.8 1267 916.8 1233.7 916.8 1254.2 916.8 1228.5 916.7 1185.1 916.7 1221.2 916.7 1219.7 916.7 1225.9 916.7 1260.9 916.6 1256.6 916.6 1269.7 916.6 1202.4 916.6 1248.2 916.6 1278.1 916.6 1241.9 916.6 1249.9 916.6 1270.8 916.5 1256.4 916.5 1224.5 916.5 1166.7 916.5 1268.8 916.5 1226.6 916.5 1286.9 916.5 1225.9 916.4 1195.3 916.4 1236.2 916.4 1214 916.4 1219.7 916.4 1226 916.4 1176.5 916.3 1270 916.3 1247.9 916.3 1268.3 916.3 1279.6 916.2 1275.3 916.2 1274.4 916.2 1264.9 916.2 1278 916.1 1256.2 916.1 1270.5 916.1 1214.3 916.1 1233.7 916.1 1269.1 916 1237.4 916 1251.9 916 1250.5 916 1257.3 915.9 1235.1 915.9 1271 915.9 1262.4 915.9 1214.3 915.8 1263.6 915.8 1198.1 915.8 1282 915.8 1262.3 915.8 1213.2 915.8 1244.7 915.8 1225.7 915.8 1249.2 915.8 1222.9 915.7 1212 915.7 1280.9 915.7 1248.8 915.6 1267 915.6 1266 915.6 1184.1 915.6 1268.7 915.6 1267.4 915.6 1280.8 915.6 1233 915.6 1227.9 915.6 1174.4 915.5 1278.3 915.5 1289.8 915.5 1175.7 915.5 1245.9 915.5 1200.6 915.4 1229 915.4 1249.7 915.4 1233.7 915.4 1260.2 915.4 1224.9 915.3 1215 915.3 1211.9 915.3 1216.4 915.3 1231 915.3 1220.8 915.2 1256.2 915.2 1265.7 915.2 1279 915.2 1262.9 915.2 1248.4 915.2 1212.7 915.1 1198.2 915.1 1275 915.1 1251.3 915.1 1234.6 915.1 1261.8 915.1 1255.2 915.1 1230.1 915 1258.2 915 1270.4 915 1270.2 915 1266.5 914.9 1258.9 914.9 1260.3 914.9 1229.3 914.9 1211.7 914.9 1223 914.9 1257.7 914.9 1258.4 914.9 1261.5 914.8 1278.7 914.8 1277.6 914.8 1236 914.8 1252.3 914.8 1282.5 914.8 1278.7 914.7 1277.5 914.7 1230.2 914.7 1272.8 914.6 1234.8 914.6 1218.2 914.6 1193.3 914.6 1263 914.6 1228.8 914.6 1236.1 914.6 1256.3 914.5 1220.4 914.5 1246 914.5 1276.9 914.4 1220.8 914.3 1182 914.3 1280.8 914.3 1218.7 914.3 1280.6 914.2 1219.9 914.2 1269.2 914.2 1238.8 914.2 1222.6 914.2 1280.6 914.1 1258.4 914.1 1268.1 914.1 1196.7 914.1 1255.8 914.1 1240.6 914.1 1253.7 914 1249 914 1279 914 1172.1 914 1266.8 914 1265.1 913.9 1267.9 913.9 1281.9 913.8 1267.1 913.8 1263.1 913.8 1276.1 913.8 1233.5 913.8 1254.8 913.8 1198.4 913.8 1247.4 913.8 1285.2 913.7 1187.4 913.7 1281.5 913.7 1228.1 913.7 1272.7 913.7 1223.1 913.7 1162.8 913.7 1258.9 913.6 1252.1 913.6 1257.8 913.6 1244.9 913.6 1280.8 913.6 1268 913.5 1271.5 913.5 1212 913.5 1180.8 913.4 1245.2 913.4 1173.9 913.4 1250.9 913.4 1202.6 913.4 1274.2 913.3 1269.7 913.3 1210.1 913.3 1251.8 913.3 1204.7 913.3 1181.4 913.2 1265.6 913.2 1157.7 913.2 1276.5 913.2 1210 913.2 1186.2 913.2 1256.3 913.2 1192.4 913.2 1242.7 913.1 1180.2 913.1 1217.2 913.1 1224.3 913.1 1177.6 913.1 1273.9 913.1 1284.9 913.1 1228.6 913 1243.7 913 1203 913 1218 913 1277.4 912.9 1244.9 912.9 1267.9 912.9 1209.1 912.9 1200.5 912.8 1278.3 912.8 1250.4 912.8 1266.2 912.8 1217.4 912.8 1211.5 912.8 1237.7 912.8 1265.2 912.7 1247.6 912.7 1268.2 912.7 1269.6 912.7 1283.4 912.7 1214.8 912.7 1270.6 912.7 1252.1 912.6 1246.2 912.6 1240.6 912.6 1263.1 912.5 1243.5 912.5 1201.9 912.5 1223.1 912.5 1178.4 912.4 1232.7 912.4 1239.5 912.4 1266.7 912.4 1233.8 912.3 1216.2 912.3 1271.8 912.3 1250.3 912.3 1223.9 912.3 1277.4 912.2 1284.7 912.2 1238.5 912.2 1283.7 912.1 1248.4 912.1 1248.9 912.1 1209.5 912.1 1202.1 912 1264.6 912 1251.1 912 1230.4 912 1229.7 912 1216.1 912 1231.6 912 1267.9 911.9 1268.5 911.9 1254.5 911.9 1284.6 911.9 1261.6 911.9 1242.4 911.9 1237.5 911.9 1261.5 911.9 1281.3 911.8 1228.1 911.7 1214.1 911.7 1269.5 911.7 1235.7 911.7 1273.3 911.7 1245.1 911.7 1254.5 911.7 1238.1 911.7 1185.5 911.6 1261.4 911.6 1260.2 911.6 1279.9 911.5 1235.8 911.5 1205 911.4 1232.5 911.4 1276 911.4 1207 911.3 1200 911.3 1209.4 911.3 1202.6 911.3 1224.4 911.2 1274.2 911.2 1280.9 911.2 1276.7 911.1 1258 911.1 1205.3 911.1 1261.5 911 1272 911 1236.5 910.9 1175.6 910.9 1233.5 910.9 1252.3 910.9 1258.6 910.9 1259.2 910.8 1287.5 910.7 1278.7 910.7 1267.5 910.7 1251.4 910.7 1283.4 910.7 1218.9 910.7 1235.7 910.7 1236.3 910.6 1186.1 910.6 1269.2 910.6 1224.5 910.6 1271.3 910.5 1250.3 910.5 1288.7 910.5 1259.7 910.5 1261.8 910.5 1224.2 910.4 1244.7 910.4 1255.1 910.4 1230.8 910.4 1188.4 910.4 1258.9 910.4 1237.2 910.3 1229.3 910.3 1265.2 910.3 1228.9 910.3 1169.7 910.3 1203.4 910.3 1248.9 910.3 1212.3 910.3 1268.1 910.3 1211 910.2 1268.2 910.2 1240.9 910.2 1212.2 910.1 1167.9 910.1 1228.4 910.1 1180.5 910.1 1285 910.1 1263.8 910.1 1263.8 910 1235.6 910 1249.3 910 1256.8 910 1224 909.9 1285.2 909.9 1231.5 909.9 1255.1 909.9 1251.4 909.9 1220 909.8 1229.3 909.7 1219.9 909.7 1203.8 909.7 1256.5 909.7 1255.2 909.7 1245.3 909.7 1257 909.7 1248.1 909.6 1236.1 909.6 1254 909.6 1264.6 909.6 1185.9 909.6 1273.2 909.5 1158 909.5 1217.8 909.5 1246.7 909.5 1217.4 909.5 1257.4 909.5 1258.6 909.5 1257.3 909.5 1207.3 909.5 1278.7 909.5 1235 909.4 1210.5 909.4 1263.1 909.3 1275.1 909.2 1248.7 909.2 1230.5 909.1 1225.9 909.1 1201.7 909.1 1279.9 909.1 1254.9 909 1269.2 909 1252.6 909 1221.1 909 1209.9 908.9 1193.3 908.9 1230.1 908.8 1259.8 908.8 1262.5 908.8 1249.1 908.8 1197.1 908.7 1198.5 908.7 1223.6 908.7 1241.5 908.7 1221 908.6 1233 908.6 1241.6 908.6 1242.1 908.6 1242.6 908.5 1264.3 908.5 1269 908.4 1282.7 908.4 1259.5 908.4 1266.2 908.4 1192.3 908.4 1255.6 908.3 1253.7 908.3 1264.6 908.3 1266.2 908.3 1232.2 908.3 1232.5 908.2 1269.4 908.2 1232.2 908.2 1236.4 908.2 1149.6 908.2 1219.7 908.1 1222.8 908.1 1234.5 908.1 1213.5 908.1 1249 908.1 1187.6 908 1233.1 908 1242.7 908 1238.8 908 1241.6 908 1262.3 907.9 1211.4 907.9 1165.1 907.9 1252 907.9 1180.7 907.9 1240.2 907.9 1291.3 907.8 1209.8 907.8 1238.9 907.7 1230.6 907.7 1213.7 907.6 1207.2 907.6 1242.8 907.6 1233.9 907.6 1243.3 907.5 1236.2 907.5 1176.5 907.5 1251 907.5 1256.3 907.5 1239.5 907.5 1229 907.5 1199.1 907.5 1231.6 907.5 1269.5 907.4 1292.3 907.4 1245.9 907.4 1221.2 907.4 1259.9 907.4 1251.6 907.3 1271.5 907.3 1274.8 907.3 1273.9 907.3 1253.8 907.3 1225.8 907.2 1211.1 907.2 1260.9 907.2 1221.7 907.1 1237.8 907.1 1272.6 907.1 1281.2 907.1 1161.4 907.1 1260.7 907 1253.8 907 1254.2 907 1215.3 906.9 1257.1 906.9 1246.1 906.8 1241.4 906.8 1276.4 906.8 1274.4 906.7 1255.8 906.7 1252.5 906.7 1233.5 906.7 1251 906.7 1250.5 906.7 1178.1 906.6 1185.9 906.6 1256.8 906.5 1249.1 906.5 1223 906.5 1213.1 906.4 1229.1 906.4 1271.4 906.4 1280.6 906.4 1237.4 906.3 1220.5 906.3 1288.3 906.1 1230.8 906.1 1263.8 906.1 1277.6 906 1260.6 905.9 1202.5 905.9 1262.9 905.9 1148.9 905.9 1217.6 905.9 1217.8 905.8 1244.7 905.7 1260 905.7 1161.4 905.7 1230.2 905.7 1218.6 905.6 1274.9 905.6 1173.4 905.6 1266 905.6 1188 905.6 1252.4 905.5 1243.8 905.5 1255.8 905.5 1279.3 905.4 1276.5 905.4 1275.6 905.4 1275.6 905.4 1264.5 905.3 1259.1 905.2 1269.1 905.2 1217.4 905.2 1273.2 905.2 1265 905.2 1264.4 905.2 1275 905 1234.3 905 1250.9 905 1161.8 905 1211.8 905 1281.9 905 1221.1 904.9 1229.5 904.9 1184 904.9 1269.9 904.8 1252.7 904.8 1222.6 904.8 1238.6 904.8 1159.2 904.8 1261.2 904.8 1239.8 904.8 1231.3 904.7 1233.3 904.7 1248.3 904.7 1205.8 904.7 1213.4 904.6 1246.1 904.6 1273.8 904.5 1243.9 904.5 1255.9 904.4 1227.8 904.4 1180.8 904.4 1283 904.3 1265.7 904.3 1245.7 904.3 1243.2 904.3 1262.4 904.2 1246.7 904.2 1234 904.2 1231.2 904.2 1278.8 904.2 1224.4 904.1 1255.4 904.1 1251.3 904.1 1265.3 904 1254.5 904 1191.8 904 1245.5 903.9 1159.7 903.9 1215.7 903.9 1221.8 903.9 1233.4 903.8 1222.7 903.7 1209.6 903.7 1250.2 903.7 1277.3 903.6 1212.1 903.6 1262.2 903.6 1213.2 903.6 1145.3 903.6 1227.9 903.5 1140.3 903.5 1254.1 903.5 1233.5 903.5 1258.3 903.5 1274.1 903.4 1254.8 903.4 1227.3 903.4 1273.1 903.4 1179.1 903.3 1231.4 903.3 1245.3 903.3 1287 903.3 1224.5 903.3 1267.5 903.2 1273.1 903.1 1273.3 903 1252.4 903 1239.2 903 1228 902.9 1222.9 902.9 1267.1 902.9 1225.9 902.8 1254.1 902.8 1246.4 902.8 1213.3 902.7 1206.5 902.7 1259.2 902.6 1251.8 902.6 1171.7 902.5 1237.7 902.5 1275.4 902.5 1234.6 902.5 1230 902.5 1254.8 902.5 1285.2 902.5 1254.7 902.4 1229 902.4 1205.1 902.4 1210.3 902.3 1247.6 902.3 1260.4 902.3 1237.3 902.2 1212.7 902.1 1255.1 902.1 1245.2 902.1 1206 902.1 1204.2 902 1156.2 902 1231.2 901.9 1213.7 901.9 1127.4 901.9 1222.3 901.8 1268.3 901.8 1195.4 901.8 1231.8 901.8 1268.1 901.7 1263.8 901.7 1282.3 901.7 1259.1 901.7 1208.4 901.7 1234.4 901.6 1239.7 901.6 1274.3 901.6 1264.1 901.6 1249.6 901.6 1184.9 901.6 1232.7 901.5 1214.8 901.5 1247.5 901.5 1214.9 901.4 1255.7 901.4 1277.4 901.4 1250 901.4 1221.3 901.3 1272.8 901.3 1223.1 901.3 1264.2 901.3 1214.5 901.2 1269.8 901.2 1258.9 901.2 1202.3 901.1 1248.8 901.1 1252.4 901.1 1285.9 901.1 1186.4 901 1250 901 1243.4 901 1259.9 901 1281.2 900.9 1248.9 900.9 1262.7 900.9 1247.4 900.8 1242.9 900.8 1225.8 900.8 1206.5 900.8 1244.4 900.7 1290.4 900.7 1224 900.7 1260.8 900.6 1254.5 900.6 1229 900.5 1280.2 900.5 1230.9 900.5 1159.2 900.5 1256.5 900.4 1273.1 900.4 1233 900.4 1178.9 900.4 1208.6 900.3 1203.8 900.3 1183.4 900.3 1264.9 900.2 1250.2 900 1236.6 899.9 1120.1 899.9 1293.5 899.9 1207.8 899.9 1233.4 899.9 1233.9 899.8 1270.7 899.8 1257.7 899.8 1181.8 899.7 1278.2 899.7 1257 899.7 1240.1 899.7 1275 899.7 1126.9 899.7 1259.1 899.6 1204.1 899.6 1237.7 899.6 1267 899.6 1294.9 899.6 1258.2 899.5 1244.7 899.5 1270.9 899.5 1270.7 899.4 1276.5 899.4 1272.5 899.4 1216.4 899.4 1239.5 899.3 1250.7 899.3 1230 899.3 1237.1 899.2 1176.2 899.1 1216.4 899.1 1229.2 899.1 1248.9 899.1 1227.7 899.1 1223.9 899.1 1211.4 899 1236.5 899 1241.1 899 1198 898.9 1253.8 898.9 1215.5 898.8 1236.9 898.8 1279.1 898.7 1249.1 898.7 1266.4 898.7 1220.4 898.7 1143.7 898.7 1224.1 898.6 1243.6 898.5 1246.9 898.5 1238.5 898.5 1262 898.5 1240.3 898.5 1278 898.4 1288.8 898.4 1209.6 898.4 1243.4 898.4 1214 898.3 1215.6 898.2 1235.7 898.1 1262.6 898.1 1138 898.1 1291.6 898.1 1257.5 898.1 1226.3 898 1276.8 898 1131.1 897.9 1266.8 897.9 1245 897.8 1266 897.6 1271.5 897.5 1218.8 897.5 1248.2 897.5 1260.3 897.5 1233.1 897.4 1195.9 897.4 1263.3 897.3 1223.7 897.3 1255.8 897.3 1203.2 897.2 1245 897.2 1209 897.2 1202.6 897.2 1205.1 897.2 1266.2 897.2 1282.4 897.1 1245.2 897.1 1265.3 897.1 1108.1 897.1 1248.9 897 1205.8 897 1261 897 1255.4 897 1261.2 897 1295.4 897 1253.2 896.9 1251.8 896.9 1251.8 896.9 1253.1 896.9 1252.3 896.8 1266.3 896.8 1161.2 896.8 1256.8 896.8 1242.2 896.7 1261.1 896.6 1262.4 896.6 1245.6 896.5 1191.1 896.5 1295.9 896.5 1128.2 896.5 1226.9 896.3 1256.9 896.3 1226.9 896.3 1230.9 896.2 1244 896.2 1276.3 896.2 1267.7 896.2 1244.1 896.2 1273.7 896.2 1229 896.1 1256 896 1267.3 896 1225.7 896 1213.9 896 1277.2 895.8 1216.8 895.8 1114.5 895.7 1198.2 895.7 1200.5 895.7 1267.4 895.6 1208.7 895.6 1287.7 895.6 1274.2 895.6 1229.3 895.6 1165.9 895.5 1181.8 895.5 1232.2 895.4 1204.9 895.4 1260.3 895.3 1231.2 895.3 1241.3 895.3 1231.7 895.2 1255.4 895.2 1165.5 895.2 1264.8 895.1 1277.5 895 1285.2 895 1275.3 895 1224.2 895 1219.3 895 1266.5 895 1194.2 894.9 1240.6 894.9 1266.4 894.9 1264.6 894.9 1239.1 894.9 1278.8 894.9 1270.2 894.7 1229.9 894.7 1245.6 894.6 1252.9 894.6 1273.3 894.6 1242.2 894.5 1238.6 894.5 1250.7 894.5 1282.8 894.5 1205.4 894.5 1214.1 894.5 1250.5 894.4 1259.2 894.4 1274.6 894.4 1155.6 894.4 1193.8 894.4 1261.4 894.3 1275.4 894.2 1218.9 894.2 1248.2 894.2 1194.6 894.2 1246.6 894.1 1260.8 894.1 1264.4 894.1 1247.5 894 1195.2 894 1165.2 894 1194.8 893.9 1194.4 893.9 1225 893.9 1206.2 893.8 1229.9 893.8 1253 893.8 1240.6 893.8 1267.1 893.8 1252.1 893.7 1239.9 893.7 1125.1 893.7 1214 893.6 1248.8 893.6 1236.3 893.6 1255.2 893.6 1272.9 893.6 1270.6 893.5 1216.9 893.5 1131.8 893.5 1255.5 893.5 1249.3 893.5 1145.8 893.4 1270.7 893.4 1248.9 893.3 1276.4 893.3 1217.7 893.3 1179.1 893.3 1277.5 893.3 1183 893.3 1244.7 893.1 1189.9 893.1 1201.9 893.1 1229.6 893.1 1236.2 893 1247.1 893 1196.6 892.9 1223.9 892.9 1241.2 892.8 1252.4 892.8 1183.3 892.8 1168 892.8 1234 892.8 1128.7 892.7 1272.2 892.7 1216.4 892.7 1266.7 892.6 1265.8 892.6 1212.2 892.5 1242.7 892.4 1159.8 892.4 1236.4 892.4 1253.3 892.3 1209.4 892.3 1235.7 892.3 1250.8 892.3 1258.6 892.3 1155.7 892.3 1189.2 892.3 1223.3 892.2 1251.8 892.2 1216.3 892.1 1242.2 892.1 1270.9 891.9 1225.8 891.8 1266.4 891.8 1261.9 891.7 1171.4 891.7 1217.7 891.7 1226 891.7 1281 891.7 1245.7 891.6 1198.1 891.6 1281.3 891.6 1238 891.6 1228 891.5 1234 891.5 1239.5 891.4 1237.2 891.4 1232.6 891.4 1264.3 891.3 1262 891.3 1237.2 891.3 1153.7 891.2 1258.8 891.2 1233.2 891.1 1098.6 891.1 1267.6 891.1 1239.9 891 1201.3 891 1233.5 890.9 1229.6 890.9 1265.1 890.9 1220.7 890.9 1196.1 890.8 1204.1 890.7 1195.2 890.6 1242.8 890.6 1109.1 890.6 1165.3 890.5 1244.1 890.5 1221.8 890.4 1251 890.4 1225.8 890.4 1263.5 890.3 1208 890.2 1235.3 890.1 1248.6 890.1 1247.3 890.1 1233.9 890 1258 890 1167.4 889.9 1230.3 889.9 1214.5 889.9 1206.2 889.9 1210 889.9 1253 889.8 1255.5 889.8 1267.6 889.7 1240.2 889.7 1243.2 889.7 1220.4 889.5 1260.5 889.5 1209.9 889.5 1260.6 889.5 1285.7 889.5 1237.6 889.4 1261.3 889.4 1210.1 889.3 1249.9 889.3 1272.2 889.3 1223.5 889.3 1157.2 889.3 1297.2 889.2 1270.9 889.1 1234.5 889.1 1192.7 889 1278.5 889 1157.3 888.9 1273.2 888.9 1105 888.9 1221.7 888.9 1264.7 888.8 1254.3 888.8 1228.2 888.8 1107.1 888.8 1268.5 888.8 1254.8 888.7 1232.7 888.7 1218.8 888.7 1269.1 888.6 1226.5 888.4 1251.8 888.4 1193.7 888.4 1262.1 888.4 1248.8 888.4 1261.4 888.4 1245.2 888.4 1274.2 888.4 1256 888.4 1236.8 888.4 1239.2 888.3 1221.1 888.3 1184.5 888.3 1233.9 888.2 1278 888.2 1282.8 888.2 1253.5 888 1180.2 888 1176.4 888 1186.2 887.8 1169.3 887.6 1190.1 887.6 1268.8 887.5 1201.4 887.5 1229.1 887.4 1284.7 887.3 1231.1 887.3 1247.4 887.3 1268.1 887.3 1261.9 887.3 1210.3 887.2 1258.1 887 1208.6 886.9 1264.2 886.8 1244 886.8 1270.5 886.8 1229.3 886.8 1177.5 886.7 1225.8 886.7 1272.7 886.7 1178.5 886.7 1252.9 886.7 1232.5 886.6 1231.8 886.5 1229.6 886.4 1243.8 886.4 1252.7 886.4 1284.1 886.3 1228.5 886.2 1196.1 886.2 1195.6 886.1 1255.8 886.1 1261.1 886.1 1265.2 886.1 1244.8 886 1253.3 886 1126.1 885.9 1254.4 885.9 1199.6 885.8 1251.8 885.8 1220.5 885.7 1152 885.6 1256.5 885.6 1243.5 885.6 1253.3 885.6 1215.8 885.5 1246.5 885.5 1099.3 885.4 1111.2 885.4 1277.7 885.4 1211.9 885.4 1204 885.2 1251.5 885.1 1207.1 885 1225.3 885 1178.9 884.9 1233.7 884.9 1225.2 884.7 1216 884.7 1208.4 884.6 1192.7 884.6 1220.6 884.6 1199.6 884.5 1245.3 884.5 1280.6 884.3 1280 884.3 1258.2 884.3 1244.4 884.3 1232.1 884.2 1214.4 884.2 1221.3 884.2 1262.5 884 1152.5 884 1260.1 883.9 1203.6 883.9 1272.9 883.9 1146.4 883.9 1208.2 883.8 1274.5 883.7 1263.4 883.6 1256.8 883.6 1144.8 883.6 1276 883.5 1199.5 883.5 1201 883.4 1232 883.3 1117.8 883.3 1150.2 883.2 1253.9 883.1 1253.4 883.1 1206.5 883 1255.9 882.9 1150.2 882.8 1208.1 882.8 1260.5 882.6 1259.3 882.6 1232.9 882.5 1266.8 882.4 1260.3 882.3 1236.9 882.2 1237.2 882.2 1267.5 882.2 1194.8 882.2 1234.3 882.2 1133.7 882.2 1145.5 882.1 1224 882.1 1258.8 882.1 1238.8 882.1 1211.1 882.1 1246.1 882.1 1266 882 1251 882 1261.6 882 1173 882 1183.3 881.9 1253.4 881.9 1261.5 881.8 1252 881.8 1274.9 881.6 1258.7 881.6 1194.7 881.5 1195.3 881.3 1233.1 881.3 1195.8 881.3 1129.1 881.2 1265.4 881.1 1204.8 881.1 1221.1 881.1 1256.6 881.1 1242 881.1 1236 881.1 1281 881 1225.3 880.9 1202.2 880.9 1196.5 880.9 1172.1 880.9 1187.4 880.8 1269.9 880.7 1253.9 880.7 1159.8 880.7 1216.2 880.4 1226.3 880.4 1240.1 880.3 1212.2 880.2 1269.9 879.8 1127.4 879.8 1239.6 879.7 1122.6 879.7 1239.4 879.6 1239.7 879.6 1248.5 879.5 1263 879.5 1216.8 879.5 1259.9 879.4 1225.9 879.3 1147.8 879.3 1205.7 879.3 1264 879.1 1246.7 879.1 1177.8 879 1245.7 878.9 1270.9 878.9 1171.4 878.8 1193.5 878.8 1251 878.7 1248.5 878.5 1249.7 878.3 1258.7 878.3 1177.6 878.2 1154.2 878.1 1252.6 878.1 1255.1 878 1208.1 878 1176.3 877.9 1250.2 877.9 1243.1 877.8 1252.4 877.7 1255 877.7 1247.4 877.6 1266 877.6 1187.6 877.6 1253.7 877.5 1195.2 877.5 1215.1 877.4 1230.3 877.3 1217.5 877.3 1241.3 877.3 1150.3 877.3 1216.1 877.2 1252.5 877.2 1238.2 877 1201.3 876.9 1219.2 876.9 1234.1 876.8 1209.8 876.7 1239.7 876.6 1233.9 876.5 1234.9 876.4 1240.9 876.4 1216.7 876.4 1201.1 876.4 1259.5 876.3 1239.3 876.3 1220.6 876.3 1189 876.3 1250.3 876.2 1217.6 876.2 1254.7 876.1 1091.6 876.1 1278.8 876.1 1240.6 876 1137.7 876 1239.7 875.9 1203.2 875.9 1268.3 875.9 1227.5 875.9 1271.4 875.9 1141.8 875.9 1207.6 875.8 1172.6 875.8 1247.5 875.8 1145.7 875.8 1218.3 875.6 1269.5 875.5 1269.2 875.5 1245.3 875.4 1233.8 875.4 1229.5 875.4 1224.8 875.3 1262 875.2 1092.4 875.1 1154.6 875.1 1258.4 875 1138.1 875 1202.8 875 1212.8 875 1199.7 874.8 1232.6 874.8 1246.5 874.5 1218.3 874.5 1209.1 874.4 1145.6 874.4 1256.9 874.4 1105.5 874.3 1256.4 874.3 1176.1 874.2 1169.1 874.1 1252.7 874.1 1194.5 874 1206.6 873.9 1201.4 873.8 1175.5 873.7 1242.8 873.7 1224.8 873.6 1251.3 873.6 1195.9 873.6 1177.3 873.5 1218.8 873.5 1221.7 873.4 1276.5 873.4 1227.2 873.3 1202.6 873.3 1255.5 873.1 1141.5 873.1 1157.1 873.1 1117.9 873 1250.1 872.9 1210 872.9 1199.9 872.7 1169.8 872.6 1236 872.5 1184.3 872.5 1165.1 872.5 1176.8 872.5 1277.6 872.4 1138.4 872.3 1229.8 872.3 1214 872.3 1114.4 872.3 1257.7 872.3 1169.1 872.3 1205.9 872.2 1209.5 872.2 1205.5 872.1 1229.5 871.7 1176.7 871.6 1231.4 871.5 1277.1 871.4 1205.6 871.3 1241.4 871.3 1135 871.3 1249.8 871.1 1234.8 871.1 1262.8 871 1274.3 870.8 1229.9 870.7 1232.7 870.7 1253.4 870.6 1272.1 870.3 1270.3 870.3 1263.1 870.3 1226.6 870.1 1142 870.1 1200.5 870 1198.9 870 1267.2 869.9 1225.7 869.7 1271.6 869.7 1236.7 869.6 1206.5 869.6 1260.1 869.4 1268.7 869.3 1260.8 869.3 1155.3 869.2 1188.4 869.2 1258.4 869.2 1235.2 869.2 1115.2 869.1 1221.6 868.8 1201.2 868.8 1260.1 868.7 1252 868.7 1205.6 868.7 1267.2 868.6 1168.5 868.4 1275.6 868.3 1239.4 868.2 1273.2 868.2 1204.6 868.1 1221.4 868 1231 867.9 1241.7 867.9 1254.7 867.7 1215.1 867.7 1127.1 867.7 1236.6 867.3 1240.6 867.2 1264.7 867.1 1246.7 867.1 1257.2 867.1 1179.8 866.9 1230.4 866.9 1223.7 866.8 1239.7 866.7 1209.6 866.5 1264.7 866.4 1179.1 866.2 1129.9 866.2 1233.8 866 1211.1 866 1215.7 866 1165.1 866 1204.5 865.9 1191.2 865.9 1211.2 865.8 1232.3 865.6 1230.1 865.4 1243.5 865.4 1219.6 865.3 1263.6 865.2 1193.3 865.2 1253.6 865.2 1244.4 865.2 1240.3 865.1 1221.3 865.1 1248.9 864.8 1261.6 864.7 1050.1 864.7 1269.5 864.7 1152.7 864.7 1136.1 864.6 1198.5 864.6 1213.9 864.5 1111.8 864.5 1225.1 864.5 1246.5 864.3 1243.1 864.3 1193.3 864.2 1250.3 864.1 1179.1 863.8 1212 863.6 1270.6 863.5 1241.1 863.5 1221.5 863.4 1238.3 863.3 1197.8 863.3 1232.8 863.3 1245.8 862.9 1250.9 862.9 1267.8 862.8 1212.1 862.7 1034.7 862.5 1247.1 862.3 1200.1 862.3 1242.5 862.2 1212.7 862.2 1275.2 862.2 1228.7 862.1 1188 861.8 1172.1 861.8 1222.7 861.8 1042.8 861.8 1233.5 861.6 1197.5 861.6 1226.2 861.6 1202.4 861.5 1186.1 861.4 1183.2 861.3 1213.5 861.3 1136.2 861.2 1198.9 861.2 1259.6 861.1 1103.4 861 1168.2 860.9 1169.7 860.7 1229 860.7 1226.4 860.6 1230.8 860.4 1165.3 860.3 1252.1 860.1 1184.5 860 1226.6 860 1263.9 859.9 1269.2 859.7 1266.3 859.6 1177.3 859.5 1244.6 859.5 1236.6 859.5 1244.2 859.4 1193.8 859.3 1256.9 859.1 1215.8 858.9 1211.4 858.8 1261.1 858.8 1208 858.8 1241.2 858.2 1260.6 858.2 1202.6 858.2 1241.3 858.1 1235 858 1243.9 857.9 1243.5 857.8 1218.2 857.6 1204.7 857.4 1261.7 857.2 1235.4 857.2 1264.3 857.1 1254 857.1 1027.4 857 1217 856.7 1145.9 856.2 1191.2 856.1 1215.4 855.9 1264 855.8 1238.8 855.8 1231.1 855.7 1262 855.5 1222.7 855.4 1196 855.2 1251.9 855.1 1236.3 855 1145.2 855 1212.3 854.9 1242.3 854.8 1208.4 854.8 1106.9 854.6 1150.6 854.6 1209.6 854.6 1260.2 854.3 1202.3 854.3 1222 854.1 1016.8 854 1269.8 854 1228 853.6 1176.2 853.4 991.6 853.3 1143.9 853.2 1188 853.1 1145.2 852.9 1137 852.8 1235.7 852.7 1179.9 852.5 1255 852.4 1262.3 852.1 1235.8 852 1262.4 851.8 1194.8 851.6 1235.5 851.6 1235.2 851.2 1254.6 850.9 1248.1 850.4 1060.1 850.3 1103.4 850.3 1117.9 850.3 1102.6 850.3 1211.5 849.6 1258.1 849.4 1236.9 849.4 1244.1 849.4 1218.5 849.1 1263.6 849 1196.9 848.6 1214.8 848.5 1255.5 848.5 1252.3 848.5 1244.5 848.2 1237.2 848 1145.8 847.8 1251.9 847.6 1245.7 847.6 1221.2 847.5 1216.4 847 1257.6 846.9 1196.6 846.8 1212.8 846 1234.5 845.6 1191.3 845.4 1215.4 845.1 1215.5 844.5 1225.1 844.5 1237.4 844.2 1202.6 844 1248.5 843.8 1206.4 843.8 1239.9 843.7 1265.1 843.7 1220.9 843.6 1156.4 843.6 1188.6 843.4 1114.4 843.3 1124.5 843.3 1098.1 842.7 1114.4 842.7 1163 842.7 1183.9 842.7 1193 842.3 1234.5 842 1166.9 842 1215.4 842 1124.2 841.7 1206.3 841.5 1064.8 841.3 1212 841.2 1259.6 841.1 1242.5 841 1169.6 840.8 1157.1 840.7 1237.5 840.4 1185.1 840.4 1250.6 840 1223.6 839.8 1142.5 839.7 1231.7 839.5 1239.2 839.4 1189.3 839 1155.1 839 1257.1 838.7 1237.7 838.6 1223.7 838.6 1248.8 838.4 1155.2 838.4 1199.1 838.1 1147.1 837.9 1255.2 836.8 1227.6 836.7 1182.2 836.7 1259.2 836.6 1228.2 836.6 1145.8 836.5 1195.9 836.5 1233 835.8 1262.5 835.7 1130.8 835.1 1190.8 835 931.7 834.6 1258.2 834 1257.6 833.7 1218.6 833.4 1185.6 833.4 1211.5 832.7 1251.1 832.3 1157.4 832.1 1045.3 832 1225.6 832 1182.7 831.7 1252 831.7 1203.2 831.6 1199.1 831.4 1257.6 831.1 1202.6 831 1248.2 830.9 1261.8 830.7 1239.9 830.5 1247.7 830.3 1257.2 830.3 1203.2 830.2 1216.9 830.2 1200.6 829.5 1091.6 829.1 1104.6 829 1235.5 828.8 1259.3 828.6 1188 828.4 1236 828.3 1217.6 828 1205.5 827.8 936.2 827.7 1106.9 827.6 1174.8 827.6 1192.3 826.6 1253.6 826.6 1246.7 826.5 1137.6 826.3 1236.7 825.4 1198.4 825.4 1105.5 825 964.7 824.7 1243 824.4 1254.7 824.2 1228.8 824.2 1260.6 823.8 1174.7 823.3 1149.5 823.2 1220.5 822.4 1207.8 821.6 1199.9 821.4 1107.1 821.1 1238 821 1117.3 820.8 1220.9 820.4 1149.2 820.4 1259.9 820.3 1187.1 820 1193.5 819.6 1255.1 819.5 1131.1 819.3 1130.7 819.2 1225.6 819 1232.2 819 1214.1 819 1255.4 818.9 1237.5 818.5 1212.1 817 1130.3 816 1188.2 814.7 1116.9 814.7 1254.5 814.6 1225.3 814.2 1192.2 814.2 1239.8 814 1138.1 813.7 933 813.2 1198.1 813.2 1125 811.8 1147.7 811.4 1190.7 811 1213.7 810.9 1085.9 810.8 1205.2 810.7 1141.6 809.9 1146.1 809.8 1260.6 809.4 1216.4 809 1198.9 808.7 1247.7 808.4 1177.4 808.4 1211 808.3 1150.6 808.3 1072.9 808.2 1200.9 807.4 1080.2 806.1 1176.6 805.6 1194 805.5 1199.1 805.4 1182.9 805.3 1253 804.9 1246.3 804.8 1247 804.6 1248 804.4 1099.8 803.3 1205.7 803.3 1152.9 803.2 1167.3 802.4 1001.6 802.3 1066.8 801.9 1222.2 801.9 1176 801.5 1251.4 801.3 1237 801.3 1046.9 800.9 1151 800.9 1229 800.6 1255.1 800.5 1238.9 799.1 1231.5 798.9 1145.9 798.2 1133.9 793.9 1192.6 793.9 1244.6 793.7 1241.4 793.5 1110.7 793.5 1096 793.5 1184.7 792.9 1181.6 792.8 965.5 790.6 968 790.6 1147 789.9 1195.8 789.9 1180.5 789.5 1196.6 788.1 1246.2 787.8 1114.4 787.8 1130.7 787.8 1183.6 787.8 1098.1 786.4 1250.4 786.2 1012.3 784.3 1118 782.6 1251.4 782.2 1139.2 778 1200.7 777.1 1046.9 776.6 1229.5 776.6 1122.6 776 1174.6 775.2 1088.4 768.1 1015.1 766.7 1163.2 765.3 1230.8 761.8 1219.4 754 1079.4 751.2 1217.4 751.2 1167.3 737.1 1043.6 735.7 1035.5 732.9 1059.9 731.5 1142.1 720.2 1208.8 718.1 1131.5 709 1242.2 709 1075.4 673.8 1005 656.9 930.5 650.6 798.7 637.2 1198.4 635.8 1192.5 628.7 1037.1 612.5 1015.1 603.4 1063.2 593.5 1179.5 565.4" fill="none" stroke="none" marker-start="url(#md)" marker-mid="url(#md)" marker-end="url(#md)"/>
<line x1="799.5" y1="681.5" x2="1298.6" y2="920" stroke="#9c1b20" stroke-width="3.0" stroke-linecap="butt"/>
<marker id="me" markerUnits="userSpaceOnUse" markerWidth="17.8" markerHeight="17.8" refX="8.9" refY="8.9"><circle cx="8.9" cy="8.9" r="6.9" fill="#d4d4d4" stroke="url(#gs)" stroke-width="1.5"/></marker>
<path d="M1932.4 919.9 1854.5 919.9 1904.1 919.9 1918.4 919.9 1903 919.8 1935.4 919.8 1899.9 919.8 1890.8 919.8 1911.4 919.8 1886.8 919.8 1944.3 919.8 1928.7 919.8 1915.1 919.8 1846 919.8 1956.9 919.8 1848.7 919.8 1863.1 919.8 1902.8 919.8 1908.6 919.8 1869.5 919.8 1914.5 919.8 1823 919.8 1907.6 919.7 1896.7 919.7 1943.1 919.7 1900.5 919.7 1945.6 919.7 1925.9 919.7 1843.1 919.7 1914.8 919.7 1861.7 919.7 1928.6 919.7 1916.9 919.7 1910.7 919.7 1867.2 919.7 1830.3 919.7 1933.4 919.7 1862 919.7 1911.9 919.6 1892.1 919.6 1939.8 919.6 1867 919.6 1898 919.6 1950.2 919.6 1943.9 919.6 1833.9 919.6 1847.5 919.6 1890.3 919.6 1830.4 919.6 1854.5 919.5 1850.2 919.5 1871.6 919.5 1911 919.5 1944.6 919.5 1934 919.5 1909 919.5 1896.6 919.5 1872 919.4 1932.1 919.4 1922.8 919.4 1900.7 919.4 1912.4 919.4 1894.3 919.4 1835.8 919.4 1889.1 919.4 1840.9 919.4 1851.2 919.4 1956.6 919.3 1872.2 919.3 1934.1 919.3 1909.7 919.3 1928.9 919.3 1910.8 919.3 1926.7 919.2 1945.4 919.2 1895.8 919.2 1912.5 919.2 1901.6 919.2 1935.6 919.2 1826.1 919.2 1828.6 919.2 1910.7 919.2 1893.7 919.2 1941.9 919.2 1910.5 919.2 1868.9 919.2 1920.5 919.2 1954.3 919.2 1835.3 919.1 1902.2 919.1 1913.3 919.1 1912.7 919.1 1950.5 919.1 1812.7 919.1 1868.9 919.1 1941.9 919.1 1891.2 919.1 1946.5 919.1 1918.4 919.1 1907.7 919 1843.4 919 1941.4 919 1885.3 919 1862.7 919 1912.1 919 1908.1 919 1893.2 919 1823.2 919 1887 918.9 1834.3 918.9 1935.5 918.9 1855.4 918.9 1808 918.9 1944 918.9 1870.6 918.9 1868.5 918.9 1879.2 918.9 1879.3 918.9 1944 918.9 1876 918.9 1864.3 918.9 1849.8 918.8 1888.4 918.8 1930.9 918.8 1881 918.8 1928.7 918.8 1904.1 918.8 1908.1 918.8 1836.7 918.8 1914.7 918.7 1842 918.7 1858.4 918.7 1851.3 918.7 1845.5 918.7 1925.8 918.7 1883.5 918.7 1864.7 918.7 1895.1 918.7 1815.7 918.7 1915.7 918.7 1945.8 918.7 1890.9 918.7 1886.2 918.6 1935 918.6 1851.6 918.6 1831 918.6 1922.9 918.6 1903.4 918.6 1806.3 918.6 1948.2 918.6 1935.1 918.6 1882.4 918.6 1891.9 918.6 1900.1 918.5 1864.7 918.5 1853.9 918.5 1831 918.5 1904.8 918.5 1828.8 918.5 1905.4 918.5 1928.1 918.5 1917.7 918.5 1921.5 918.5 1911.7 918.5 1906 918.4 1904.2 918.4 1837.4 918.4 1935 918.4 1957.6 918.4 1925.8 918.4 1931.8 918.4 1899.6 918.4 1945.7 918.4 1881.6 918.4 1843.7 918.3 1923.2 918.3 1927.1 918.3 1927.5 918.3 1802.2 918.3 1903.9 918.3 1892.7 918.3 1935.1 918.3 1927.6 918.3 1927.6 918.3 1898.4 918.3 1814.8 918.3 1891.6 918.3 1923.1 918.3 1850.4 918.3 1884.7 918.3 1926.8 918.2 1889 918.2 1878.2 918.2 1920.4 918.2 1858.8 918.2 1947.8 918.2 1827.5 918.2 1914.2 918.2 1910.6 918.2 1947.8 918.2 1850.1 918.2 1929.7 918.2 1939.9 918.2 1892.7 918.2 1888.1 918.2 1943.6 918.2 1881.4 918.1 1852.4 918.1 1921.8 918.1 1955.7 918.1 1919.2 918.1 1885.7 918.1 1914 918.1 1936.3 918.1 1817.9 918.1 1884.4 918.1 1936.2 918 1920.1 918 1887.4 918 1865.7 918 1940.7 918 1842.4 918 1883.2 918 1898.7 918 1900.9 918 1928 918 1886.7 918 1828.2 917.9 1933.3 917.9 1904.1 917.9 1871.4 917.9 1818.2 917.9 1823 917.9 1868.3 917.9 1865.9 917.9 1938 917.9 1900.9 917.9 1854.3 917.9 1918 917.8 1949.1 917.8 1943.3 917.8 1851 917.8 1916.5 917.8 1871.6 917.8 1901 917.8 1890 917.8 1880.8 917.8 1899.1 917.7 1907.5 917.7 1925.2 917.7 1950.9 917.7 1936.2 917.7 1916.9 917.7 1858.3 917.7 1924 917.7 1943.6 917.7 1869.1 917.7 1923.2 917.7 1849.8 917.7 1919.5 917.6 1860.5 917.6 1848.6 917.6 1896.4 917.6 1859.6 917.6 1912.7 917.6 1945.5 917.6 1827.5 917.6 1938.4 917.6 1876.4 917.6 1882.2 917.6 1940.5 917.6 1899.6 917.5 1928.7 917.5 1934.3 917.5 1898.8 917.5 1893.1 917.5 1791.1 917.5 1841.4 917.5 1839 917.4 1831.1 917.4 1899 917.4 1939.9 917.4 1833.3 917.4 1927.1 917.4 1876 917.4 1904.6 917.4 1854.2 917.4 1944.5 917.4 1890 917.4 1919.7 917.4 1854.1 917.4 1927.8 917.4 1843.7 917.3 1895.2 917.3 1875.3 917.3 1940.3 917.3 1931.1 917.3 1801.5 917.3 1910.1 917.3 1956.3 917.3 1914.7 917.2 1912.1 917.2 1884.8 917.2 1868.3 917.2 1897.7 917.2 1904.1 917.2 1937.3 917.2 1819.8 917.2 1918.7 917.2 1923 917.2 1889.2 917.2 1837.4 917.2 1922.9 917.2 1879.8 917.2 1890.9 917.1 1919 917.1 1877.9 917.1 1911.9 917.1 1939.2 917.1 1824 917.1 1910.8 917.1 1854 917.1 1857.9 917.1 1871.7 917.1 1891 917 1892.8 917 1887.6 917 1891.4 916.9 1946.6 916.9 1905.9 916.9 1788.5 916.9 1858.9 916.9 1877.2 916.9 1882 916.9 1911.8 916.9 1928.5 916.9 1876.3 916.9 1926.6 916.9 1916.2 916.8 1940.3 916.8 1910.5 916.8 1929.7 916.8 1942.1 916.8 1918.7 916.8 1956 916.8 1858.6 916.8 1885.2 916.8 1877.2 916.8 1792.6 916.8 1884.8 916.7 1846.8 916.7 1922.5 916.7 1858.3 916.7 1900.6 916.7 1916.4 916.7 1906.7 916.7 1924 916.7 1818.5 916.7 1906.7 916.7 1936.2 916.7 1898.1 916.7 1814.8 916.7 1880.6 916.7 1936.9 916.6 1927.2 916.6 1838.7 916.6 1874.3 916.6 1944.1 916.6 1941.8 916.6 1912.7 916.6 1916.2 916.6 1920.3 916.6 1904.2 916.6 1928.6 916.5 1816 916.5 1871.3 916.5 1854.4 916.5 1898 916.5 1892.3 916.5 1833.2 916.5 1910.8 916.5 1895.4 916.5 1954.9 916.5 1915.6 916.5 1920.1 916.5 1880.2 916.5 1899.6 916.5 1889.7 916.4 1901.9 916.4 1914.3 916.4 1913.3 916.4 1862.2 916.4 1937.4 916.4 1918.5 916.4 1813.1 916.4 1826.4 916.4 1922.1 916.4 1898.4 916.4 1920.1 916.4 1900.7 916.4 1829 916.4 1848.8 916.3 1858.5 916.3 1905.5 916.3 1868.3 916.3 1778.1 916.3 1827 916.3 1927 916.3 1884.3 916.3 1848.1 916.3 1914.3 916.3 1803 916.3 1943.8 916.3 1865.9 916.3 1928.5 916.3 1891.4 916.3 1899.8 916.2 1929.5 916.2 1908.6 916.2 1927.4 916.2 1953.1 916.2 1863.4 916.2 1796.7 916.2 1821.5 916.2 1955 916.2 1902.5 916.2 1909.3 916.2 1897.9 916.2 1881.7 916.2 1869.3 916.2 1917.1 916.2 1889.6 916.1 1936.8 916.1 1904.4 916.1 1936.9 916.1 1876.3 916.1 1901.4 916.1 1899.3 916.1 1852.4 916.1 1891.3 916 1931.5 916 1889.2 916 1834.7 916 1857.4 916 1858.4 916 1840.6 916 1901.4 915.9 1869.3 915.9 1938.6 915.9 1945.1 915.9 1934.4 915.9 1933.8 915.9 1877.5 915.9 1840.3 915.9 1908.4 915.9 1884.2 915.8 1829.8 915.8 1875.8 915.8 1885.6 915.8 1919.6 915.8 1934.5 915.8 1928.6 915.8 1955.1 915.8 1929.4 915.8 1814.4 915.8 1904.3 915.8 1904.3 915.8 1802.8 915.8 1855.1 915.7 1846.5 915.7 1911.9 915.7 1873.6 915.7 1885 915.7 1877 915.7 1940 915.7 1901.1 915.7 1943.9 915.7 1904.2 915.7 1833 915.6 1887 915.6 1931.4 915.6 1855.2 915.6 1930.3 915.6 1927.6 915.6 1883.3 915.6 1920.5 915.6 1887.5 915.6 1914.8 915.6 1850.1 915.6 1895.3 915.6 1854.1 915.5 1919.2 915.5 1934.4 915.5 1861.1 915.5 1928.9 915.5 1858.5 915.5 1937.7 915.5 1944.4 915.5 1881.4 915.5 1855.5 915.5 1889.8 915.5 1935.4 915.4 1872.7 915.4 1858.9 915.4 1886 915.4 1857.6 915.4 1939.7 915.4 1935 915.4 1775.7 915.4 1915.9 915.4 1921 915.4 1878 915.4 1870.7 915.3 1877.2 915.3 1877 915.3 1749 915.3 1813.2 915.3 1931.4 915.3 1929.9 915.3 1843.2 915.3 1833 915.3 1734.4 915.3 1809 915.3 1833.5 915.3 1848.5 915.3 1874 915.3 1926 915.3 1823.2 915.2 1832 915.2 1885 915.2 1918.7 915.2 1908.1 915.2 1924.3 915.2 1901.7 915.2 1935.4 915.2 1914.3 915.1 1813.5 915.1 1863.5 915.1 1833.2 915.1 1951.6 915.1 1858.7 915.1 1801.9 915.1 1924.6 915.1 1905 915.1 1892.5 915.1 1837 915.1 1944.8 915.1 1913.3 915.1 1920.1 915 1888.8 915 1945.1 915 1922 915 1893.3 915 1873.3 915 1884.6 914.9 1949.8 914.9 1804.1 914.9 1790.8 914.9 1935.7 914.9 1830.7 914.9 1878.1 914.9 1892.3 914.9 1844.7 914.9 1795.3 914.9 1931.7 914.9 1905.1 914.8 1797.9 914.8 1911.7 914.8 1934 914.8 1913.8 914.8 1913 914.8 1876.3 914.8 1808 914.8 1829.9 914.8 1914.6 914.8 1923.4 914.8 1897.9 914.8 1897.1 914.8 1903.3 914.7 1911.4 914.7 1874.2 914.7 1939.2 914.7 1864.5 914.7 1863.3 914.7 1938.5 914.7 1906.8 914.7 1896.3 914.7 1850.6 914.7 1863.5 914.7 1884.3 914.7 1918.3 914.7 1916.4 914.7 1897.1 914.6 1784.5 914.6 1901.7 914.6 1881.1 914.6 1939.6 914.6 1930.4 914.6 1920.5 914.6 1900.8 914.6 1875 914.5 1744.5 914.5 1947.5 914.5 1893.1 914.5 1932 914.5 1813.2 914.5 1868 914.5 1907.4 914.4 1854 914.4 1911.4 914.4 1887.9 914.4 1868 914.4 1889.2 914.4 1867.9 914.4 1911.1 914.4 1933.4 914.3 1923.6 914.3 1899.5 914.3 1741.2 914.3 1864.3 914.3 1870.4 914.3 1892.9 914.3 1916.8 914.3 1925.3 914.3 1889.9 914.3 1936.9 914.3 1891 914.3 1864 914.3 1894.4 914.3 1936.1 914.3 1910.2 914.3 1879.2 914.2 1938.8 914.2 1931.8 914.2 1936 914.2 1872.3 914.2 1785.1 914.2 1944 914.2 1792 914.2 1926.7 914.2 1900.7 914.2 1919 914.2 1831.9 914.2 1835.9 914.2 1903.4 914.1 1880.4 914.1 1890.4 914.1 1877.7 914.1 1901.2 914.1 1892.5 914.1 1852.2 914.1 1786.8 914.1 1899.7 914.1 1908 914.1 1884.1 914 1846.8 914 1941 914 1935.3 914 1940.5 914 1931.4 914 1937.9 914 1853.7 914 1948.2 914 1853.8 914 1935 914 1838.2 914 1926.5 914 1862.4 914 1897.7 913.9 1904.7 913.9 1888.3 913.9 1812.2 913.9 1854.8 913.9 1813.2 913.9 1904.6 913.9 1938.8 913.9 1827.3 913.9 1837.6 913.9 1913.3 913.9 1931.1 913.9 1898.2 913.9 1787.2 913.8 1864.9 913.8 1897.4 913.8 1916.1 913.8 1902.8 913.8 1867.6 913.8 1899.1 913.8 1850.5 913.8 1854.4 913.8 1863.4 913.7 1766.1 913.7 1885.4 913.7 1926.7 913.6 1876.8 913.6 1935.4 913.6 1947.5 913.6 1891.3 913.6 1923.2 913.6 1931.4 913.6 1914.2 913.6 1905.1 913.6 1776.1 913.6 1908.9 913.5 1901.5 913.5 1930.8 913.5 1913 913.5 1907.1 913.5 1904.7 913.5 1915 913.5 1877.8 913.5 1844.1 913.5 1926 913.5 1923.4 913.4 1821.9 913.4 1865.8 913.4 1866.3 913.4 1813.8 913.4 1921.3 913.4 1909.4 913.4 1831.7 913.4 1879.5 913.4 1925.3 913.4 1951 913.4 1928.9 913.4 1884.1 913.4 1914.4 913.4 1783.1 913.4 1884.6 913.4 1946.8 913.3 1886.5 913.3 1744.9 913.3 1886.6 913.3 1876.4 913.3 1842.6 913.3 1856.6 913.3 1920.4 913.3 1859.9 913.3 1854.2 913.3 1868.9 913.3 1921.8 913.2 1944.9 913.2 1908.7 913.2 1858.5 913.2 1881.2 913.2 1865.8 913.2 1924.3 913.2 1951.2 913.2 1927.1 913.2 1925.9 913.2 1948 913.2 1928.6 913.2 1830.6 913.2 1917.5 913.1 1734.6 913.1 1941.3 913.1 1907.1 913.1 1815.2 913.1 1940.5 913.1 1905.3 913.1 1919.6 913.1 1805.3 913.1 1910 913.1 1937.3 913.1 1913.3 913.1 1867.6 913 1933.5 913 1891.6 913 1880.9 913 1883.5 913 1916.2 913 1950.3 913 1852.4 913 1948.4 913 1886.4 913 1821.2 912.9 1887.6 912.9 1821.4 912.9 1890.1 912.9 1920.9 912.9 1869.8 912.9 1944.2 912.9 1902.9 912.9 1926.1 912.9 1860.9 912.9 1880.2 912.9 1878.1 912.9 1845.3 912.9 1911.8 912.9 1852.7 912.9 1874.2 912.9 1915.5 912.8 1818 912.8 1901 912.8 1886.6 912.8 1913.2 912.8 1905.1 912.8 1790.6 912.8 1935.8 912.8 1926.8 912.8 1898.2 912.8 1867.8 912.8 1864.5 912.8 1923.1 912.8 1866.4 912.8 1929.2 912.7 1915.2 912.7 1874.8 912.7 1932.7 912.7 1870.8 912.7 1884.3 912.7 1796.5 912.7 1836.4 912.7 1927.8 912.7 1942 912.7 1867.9 912.6 1831.6 912.6 1938.8 912.6 1927.8 912.6 1870.9 912.6 1862.9 912.6 1941.7 912.6 1919.6 912.6 1928.9 912.5 1910.2 912.5 1917.5 912.5 1886.1 912.5 1882.4 912.5 1848.5 912.5 1795.2 912.5 1881.5 912.5 1943.2 912.5 1881 912.5 1926.5 912.5 1913.2 912.5 1852.9 912.4 1887.8 912.4 1901.1 912.4 1862.1 912.4 1879.9 912.4 1908.9 912.4 1888.9 912.4 1769.3 912.4 1933.8 912.4 1883.2 912.4 1778.3 912.4 1922.1 912.4 1949.5 912.4 1845 912.3 1841.9 912.3 1935.4 912.3 1777.7 912.3 1941.3 912.3 1925.3 912.3 1859 912.3 1892.7 912.3 1940.4 912.3 1923.6 912.3 1945.8 912.3 1805.9 912.2 1949.9 912.2 1945.7 912.2 1880.4 912.2 1810.7 912.2 1867.7 912.2 1925.5 912.2 1882.7 912.1 1898.7 912.1 1928.8 912.1 1934.1 912.1 1891.3 912.1 1930.2 912.1 1853.2 912.1 1840.5 912.1 1923.5 912 1910 912 1941.9 912 1844.5 912 1909.2 912 1796.3 912 1894.7 912 1908.4 912 1928.5 912 1912.7 912 1911.2 912 1796.9 912 1823.1 912 1909.8 912 1776.9 911.9 1892.7 911.9 1885.4 911.9 1788.2 911.9 1871.5 911.9 1882.8 911.9 1939.6 911.9 1928.4 911.9 1832.8 911.9 1924.4 911.9 1921.6 911.8 1751.5 911.8 1864.3 911.8 1943.3 911.7 1906.7 911.7 1902.3 911.7 1912.4 911.7 1921.7 911.7 1854.9 911.7 1912.2 911.7 1923.5 911.7 1890.6 911.7 1905.9 911.7 1870.6 911.7 1902.1 911.7 1804.1 911.7 1924.9 911.6 1816.9 911.6 1881.4 911.6 1859.6 911.6 1936 911.6 1894.3 911.6 1847.7 911.6 1739.8 911.6 1922 911.6 1854.5 911.6 1843.8 911.5 1924.8 911.5 1839.1 911.5 1888.7 911.5 1842.7 911.5 1904 911.4 1923.9 911.4 1935.6 911.4 1850.7 911.4 1845.9 911.4 1896.3 911.4 1886 911.4 1906.7 911.4 1920.7 911.4 1800.1 911.4 1919.5 911.4 1841.5 911.4 1923.8 911.4 1878.8 911.3 1851.8 911.3 1916 911.3 1840.9 911.3 1902 911.3 1904.1 911.3 1872.6 911.3 1931.8 911.2 1938.1 911.2 1893.3 911.2 1917.1 911.2 1878.8 911.2 1918.7 911.2 1914.2 911.2 1897.4 911.2 1842 911.2 1915.6 911.2 1925.1 911.2 1889 911.2 1930.6 911.2 1903.5 911.2 1895.9 911.2 1856.2 911.2 1872.1 911.1 1891.8 911.1 1581 911.1 1583.2 911.1 1896.2 911.1 1921.6 911.1 1918.4 911.1 1878 911.1 1929.7 911.1 1881.2 911 1903.3 911 1811.4 911 1790.1 911 1879 911 1916.6 911 1842.7 911 1949.3 911 1855.6 910.9 1933.5 910.9 1944.2 910.9 1881.9 910.9 1909.8 910.9 1873.7 910.9 1882.7 910.9 1913.2 910.9 1929.8 910.9 1923.2 910.9 1928 910.9 1912.2 910.9 1904.6 910.9 1860.9 910.9 1830.7 910.9 1925.5 910.8 1940.2 910.8 1838 910.8 1950.5 910.8 1912.3 910.8 1794.4 910.8 1872 910.8 1909.4 910.8 1887.6 910.8 1895.6 910.8 1950.7 910.8 1901.6 910.8 1947.3 910.8 1929.6 910.7 1934 910.7 1922.7 910.7 1900 910.7 1931.7 910.7 1893.7 910.7 1826 910.7 1904 910.6 1823.2 910.6 1895.7 910.6 1742.6 910.6 1801.8 910.6 1891.3 910.6 1873.6 910.6 1905.6 910.6 1943 910.6 1911 910.6 1857.4 910.6 1908.4 910.6 1933.2 910.5 1923.7 910.5 1853.8 910.5 1883 910.5 1947.2 910.5 1849.9 910.5 1930.3 910.5 1924.8 910.5 1885 910.5 1876.3 910.5 1904.3 910.5 1882.3 910.5 1898 910.5 1901.6 910.4 1931.1 910.4 1882.9 910.4 1926.6 910.4 1880.9 910.4 1942.4 910.4 1925.1 910.4 1909.4 910.4 1938.4 910.4 1945.5 910.4 1867.3 910.4 1889.9 910.4 1864.6 910.4 1839.1 910.4 1914.4 910.4 1857.8 910.3 1882 910.3 1903.4 910.3 1784.4 910.3 1900.6 910.3 1915.9 910.3 1859.5 910.3 1947.3 910.3 1939.9 910.2 1771.8 910.2 1776.9 910.2 1946.8 910.2 1939.3 910.2 1895.9 910.2 1882.7 910.2 1923 910.2 1827.5 910.2 1885.3 910.2 1859.9 910.2 1922.4 910.2 1945.5 910.1 1896.6 910.1 1735 910.1 1914.3 910.1 1859.6 910.1 1916 910.1 1919.8 910.1 1902.9 910.1 1886.8 910.1 1924 910 1860 910 1922.2 910 1939.4 910 1917.2 910 1881 910 1753.2 909.9 1923.2 909.9 1865.5 909.9 1863.8 909.9 1918.8 909.9 1871.8 909.9 1926.9 909.9 1838.4 909.9 1836.6 909.8 1840.2 909.8 1910.3 909.8 1940.6 909.8 1858.5 909.8 1867.8 909.8 1909.3 909.8 1773.5 909.8 1955.8 909.7 1884 909.7 1942.1 909.7 1883.4 909.7 1936.8 909.7 1843.6 909.7 1839.4 909.7 1898.3 909.7 1888.6 909.7 1883.5 909.7 1902.4 909.6 1859.8 909.6 1906.4 909.6 1933.8 909.6 1883.4 909.6 1907.9 909.6 1864.2 909.6 1871.3 909.6 1888.4 909.6 1866.7 909.5 1866.4 909.5 1798 909.5 1888.8 909.4 1901.2 909.4 1876.2 909.4 1935.1 909.4 1886.8 909.4 1918 909.4 1947.7 909.4 1822.9 909.4 1918.8 909.3 1931.9 909.3 1929.4 909.3 1856.2 909.3 1948.5 909.3 1876.3 909.3 1859.3 909.3 1926.6 909.3 1875.7 909.2 1924.7 909.2 1868.7 909.2 1895.7 909.2 1909.8 909.2 1864.1 909.2 1866.2 909.1 1901.6 909.1 1870.7 909.1 1918.9 909.1 1928.6 909.1 1946.9 909.1 1918.3 909.1 1869.9 909.1 1909.4 909.1 1931.4 909.1 1927.8 909.1 1901.5 909 1817.5 909 1896.1 909 1948.2 909 1871.2 909 1769.2 909 1865.5 909 1806.5 909 1721.8 909 1884.8 909 1879.6 909 1889.4 909 1908 908.9 1846.2 908.9 1863.1 908.9 1880.2 908.9 1888.4 908.9 1860.7 908.9 1861.8 908.9 1896.4 908.8 1828.3 908.8 1835 908.8 1824.5 908.8 1824.1 908.8 1892.9 908.8 1926.8 908.8 1792.5 908.8 1859.7 908.8 1727.8 908.8 1925 908.8 1822.9 908.8 1885 908.8 1758.8 908.8 1964.5 908.8 1891.6 908.8 1732 908.8 1901.9 908.7 1930.5 908.7 1881 908.7 1872.7 908.7 1936.3 908.7 1868.5 908.7 1936 908.7 1934.8 908.6 1880.7 908.6 1922.4 908.6 1869.2 908.6 1937.2 908.6 1837.9 908.6 1861.7 908.5 1939.8 908.5 1918.1 908.5 1905.6 908.5 1924.1 908.5 1930.2 908.5 1853 908.5 1882.1 908.4 1923.5 908.4 1910.5 908.4 1936.5 908.4 1877.1 908.4 1898.1 908.4 1893 908.4 1869.8 908.3 1857.5 908.3 1927.6 908.3 1890.6 908.2 1841.3 908.2 1900.6 908.2 1821.5 908.1 1923.1 908.1 1919.1 908.1 1905.4 908.1 1818.9 908.1 1915.7 908.1 1932.7 908.1 1902.1 908.1 1926.2 908.1 1880 908.1 1863.7 908.1 1893.3 908.1 1854.1 908.1 1874.8 908.1 1894.3 908.1 1943.2 908 1814.1 908 1902.8 908 1927.9 908 1895.5 908 1943.7 907.9 1896.9 907.9 1833.9 907.9 1900 907.9 1812.9 907.9 1919.3 907.9 1869.3 907.9 1908.4 907.9 1925 907.9 1868.8 907.8 1840.5 907.8 1854.4 907.8 1945.9 907.8 1918.2 907.8 1926.2 907.8 1938.1 907.8 1839.2 907.8 1948.2 907.8 1915.6 907.8 1932.3 907.8 1924.2 907.8 1899 907.8 1903 907.8 1832 907.7 1889.6 907.7 1728.8 907.7 1855.5 907.7 1870.9 907.7 1926.7 907.7 1841.4 907.7 1941.6 907.7 1834.4 907.7 1859.2 907.7 1825.9 907.7 1931 907.7 1848.1 907.7 1951.3 907.6 1867.7 907.6 1891.1 907.6 1843.6 907.6 1918.3 907.6 1911.1 907.6 1848.5 907.6 1951.2 907.6 1914.6 907.6 1851.8 907.5 1923.8 907.5 1937.3 907.5 1898.3 907.5 1916.9 907.5 1871.8 907.5 1948.7 907.5 1868.7 907.5 1905.8 907.5 1885.9 907.4 1898.3 907.4 1896.2 907.4 1865.7 907.4 1878 907.4 1875.6 907.4 1895 907.4 1904.3 907.4 1929.5 907.4 1934 907.4 1868.3 907.4 1934.6 907.4 1728 907.4 1886.8 907.4 1861.8 907.3 1905.5 907.3 1881 907.3 1933.3 907.3 1893.6 907.3 1865.6 907.2 1952.8 907.2 1858.1 907.2 1900.2 907.2 1887 907.2 1859.3 907.2 1900.6 907.2 1894 907.2 1921.4 907.2 1898.6 907.2 1940.8 907.1 1947 907.1 1874.8 907.1 1836.1 907.1 1940.7 907.1 1937.3 907.1 1793.4 907.1 1941.7 907.1 1898.4 907.1 1897.6 907 1919.8 907 1865.3 907 1935.2 907 1903.6 907 1863 906.9 1884.4 906.9 1873.9 906.9 1949.8 906.9 1886.1 906.9 1845.6 906.9 1834.5 906.9 1836.8 906.9 1942.4 906.9 1946.5 906.9 1932.4 906.9 1933.8 906.9 1922.6 906.8 1937.6 906.8 1839.3 906.8 1807 906.8 1886.8 906.8 1886.3 906.8 1914.7 906.8 1895.5 906.8 1952.1 906.8 1838.3 906.8 1845.8 906.8 1881.2 906.7 1932.6 906.7 1899 906.7 1864.6 906.7 1857.2 906.7 1851.3 906.7 1899.9 906.6 1732.2 906.6 1936.9 906.6 1885.4 906.6 1843.9 906.6 1846.5 906.6 1910.9 906.6 1900.6 906.6 1833.4 906.6 1855.3 906.5 1857.2 906.5 1910.9 906.5 1906 906.5 1857.5 906.5 1794.5 906.5 1943.3 906.5 1767.7 906.5 1933.9 906.5 1869 906.5 1923.9 906.5 1908.7 906.5 1871.4 906.4 1941.3 906.4 1916.9 906.4 1860.8 906.4 1871.3 906.4 1939.4 906.4 1863.3 906.4 1938.8 906.4 1953.7 906.4 1881.6 906.3 1892.4 906.3 1892.5 906.3 1893.1 906.3 1867.4 906.3 1942.1 906.3 1912.4 906.3 1891.6 906.3 1903.2 906.3 1847 906.3 1881.8 906.3 1876.5 906.3 1812.5 906.2 1940.6 906.2 1925.2 906.2 1825.9 906.2 1859 906.2 1948 906.2 1889.6 906.2 1952.5 906.2 1898.2 906.2 1870.4 906.1 1922.9 906.1 1855.3 906.1 1880.6 906.1 1821 906.1 1928.7 906.1 1879.9 906.1 1828.2 906.1 1908.4 906.1 1865.5 906 1924 906 1905.2 906 1774.4 906 1938.2 906 1926.2 906 1890.2 905.9 1880.8 905.9 1894.2 905.9 1822.7 905.9 1928.5 905.9 1813.6 905.9 1941.9 905.9 1931.3 905.9 1807.3 905.9 1863 905.9 1820.7 905.9 1847.6 905.9 1876.3 905.9 1848.7 905.8 1913.7 905.8 1952.9 905.8 1940.8 905.8 1877.4 905.8 1886.8 905.8 1880.4 905.8 1912.8 905.8 1948.1 905.8 1852.4 905.8 1914.1 905.8 1863.1 905.8 1934.3 905.8 1811.5 905.7 1896.9 905.7 1822.3 905.7 1927.3 905.7 1931.7 905.7 1933.9 905.7 1940.9 905.7 1882.2 905.7 1945.4 905.7 1886.6 905.7 1915.8 905.7 1908 905.7 1929.2 905.7 1941.7 905.6 1791.2 905.6 1863.7 905.6 1884.7 905.6 1935.4 905.6 1942 905.6 1897.1 905.6 1920.2 905.6 1917.1 905.5 1724.7 905.5 1872.4 905.5 1817.3 905.5 1842.8 905.5 1870.8 905.5 1740.8 905.5 1827.5 905.5 1888.1 905.5 1917.7 905.5 1939 905.4 1956.1 905.4 1838.1 905.4 1887.6 905.4 1960.5 905.4 1862.2 905.4 1949.2 905.4 1938.5 905.3 1842.5 905.3 1843.7 905.2 1868.9 905.2 1932.5 905.2 1884.1 905.2 1926.3 905.2 1834.3 905.2 1924.1 905.2 1923.8 905.2 1709 905.2 1920.7 905.2 1927.6 905.1 1927.1 905.1 1809.2 905.1 1888.9 905.1 1935.7 905.1 1929 905.1 1836.3 905.1 1782.5 905 1905.1 905 1938.2 905 1924.2 905 1923.9 905 1933 905 1927.4 905 1927.9 905 1467 905 1945.1 905 1897.6 905 1929.5 905 1905 904.9 1855.6 904.9 1926.4 904.9 1718.9 904.9 1951.4 904.9 1808.3 904.9 1845.4 904.9 1913.5 904.9 1881.9 904.8 1886.7 904.8 1886 904.8 1900.8 904.8 1932.6 904.8 1882.5 904.8 1930.2 904.8 1837 904.8 1893.3 904.7 1883.1 904.7 1877.3 904.7 1929.4 904.7 1890.4 904.7 1914.3 904.7 1946.8 904.7 1817.3 904.7 1911.5 904.7 1845.6 904.7 1904.5 904.6 1832.6 904.6 1933.2 904.6 1858 904.6 1903.9 904.6 1938.7 904.6 1869.1 904.6 1922.6 904.6 1918.1 904.6 1912.5 904.6 1904.4 904.6 1925.6 904.6 1947 904.5 1851.2 904.5 1883.7 904.5 1931.2 904.5 1888.2 904.5 1897.3 904.5 1862.9 904.4 1840.2 904.4 1921.9 904.4 1887 904.4 1862.9 904.4 1954.2 904.4 1789.6 904.4 1928 904.4 1948.1 904.4 1880.5 904.3 1947.8 904.3 1894.9 904.3 1924.5 904.3 1900.7 904.3 1858.3 904.3 1877.2 904.3 1907.2 904.3 1918.4 904.3 1906 904.2 1928.4 904.2 1926.1 904.2 1944.4 904.2 1828.9 904.2 1847.1 904.1 1905.5 904.1 1835.8 904.1 1944.9 904.1 1943.2 904.1 1921.3 904.1 1933.1 904.1 1807.9 904.1 1870.9 904.1 1921.7 904 1844.3 904 1928.4 904 1862.2 904 1862.9 904 1827 904 1832.2 903.9 1780.1 903.9 1859.4 903.9 1808.2 903.9 1887.7 903.9 1852.9 903.9 1863.7 903.9 1750.6 903.9 1910.7 903.9 1922.8 903.9 1952.6 903.9 1928.2 903.9 1903.3 903.8 1861.8 903.8 1962.6 903.8 1925.9 903.8 1853.6 903.8 1936 903.8 1922.5 903.8 1735.3 903.7 1798.2 903.7 1896.2 903.7 1874.3 903.7 1906.4 903.7 1923.3 903.7 1899.7 903.7 1886.7 903.7 1882.2 903.7 1832.4 903.6 1916.2 903.6 1877.4 903.6 1866.5 903.6 1929.5 903.6 1933.6 903.6 1834 903.6 1883.1 903.6 1912.7 903.6 1879 903.6 1899.2 903.5 1838.1 903.5 1845.8 903.5 1914 903.5 1952.3 903.5 1909.4 903.5 1927.4 903.5 1902.8 903.4 1952 903.4 1895.1 903.4 1917.4 903.4 1817.4 903.4 1929.1 903.4 1897.9 903.4 1950.4 903.4 1869.6 903.4 1939.9 903.4 1821.5 903.3 1918.9 903.3 1888.4 903.3 1858.5 903.3 1876.8 903.3 1937 903.3 1919.1 903.3 1930 903.3 1886 903.3 1785.7 903.2 1815.9 903.2 1800.3 903.2 1909.5 903.2 1815.9 903.2 1896.6 903.1 1879.8 903.1 1944.9 903.1 1921.2 903.1 1933 903.1 1905.8 903.1 1893.3 903.1 1830.2 903.1 1825.6 903.1 1950.6 903.1 1948.3 903.1 1934 903 1888.2 903 1846.7 903 1942.2 903 1934.9 903 1933.2 903 1864.7 903 1857.6 903 1931.4 903 1840.3 903 1946.2 903 1911 903 1891.3 903 1854.4 903 1852.4 903 1813.6 902.9 1839.6 902.9 1907.6 902.9 1823.8 902.9 1903.3 902.9 1788.7 902.9 1876.4 902.9 1861.5 902.8 1886 902.8 1937.3 902.8 1836.8 902.8 1948.5 902.8 1879 902.8 1873.2 902.7 1910.3 902.7 1924 902.7 1711.5 902.7 1865.8 902.7 1924.9 902.7 1719 902.6 1858.6 902.6 1941 902.6 1921.9 902.6 1935.6 902.6 1874.6 902.6 1863.4 902.6 1874.7 902.6 1860.1 902.6 1942.9 902.5 1934 902.5 1918.7 902.5 1907.9 902.5 1930.7 902.5 1934.4 902.5 1887.3 902.5 1913.6 902.5 1915.1 902.5 1846.5 902.5 1745.3 902.5 1910.9 902.4 1904.3 902.4 1908.7 902.4 1852.8 902.4 1948.1 902.4 1879.4 902.4 1942.4 902.4 1839 902.4 1927.3 902.4 1898.3 902.4 1898.3 902.3 1901.8 902.3 1905.6 902.3 1918 902.3 1919.5 902.3 1908.5 902.3 1887.8 902.3 1885.6 902.3 1849.8 902.3 1904.9 902.3 1803.8 902.3 1913.9 902.2 1949 902.2 1893.4 902.1 1851.1 902.1 1874.7 902.1 1908.1 902.1 1916.8 902 1800.4 902 1903.5 902 1928.3 902 1887.2 902 1873.1 902 1928.7 902 1893 901.9 1935.3 901.9 1931.1 901.9 1928 901.9 1893.3 901.9 1872.3 901.9 1791.6 901.9 1950.8 901.9 1924 901.9 1909.9 901.9 1899.7 901.9 1856.3 901.9 1884.7 901.9 1935.7 901.9 1877.9 901.9 1878.9 901.8 1866.4 901.8 1932.1 901.8 1898.9 901.8 1918.6 901.8 1903.8 901.8 1943.9 901.8 1883.1 901.8 1925.7 901.8 1919.9 901.7 1940.6 901.7 1878.8 901.7 1907.6 901.7 1948.5 901.7 1845.1 901.7 1831.7 901.7 1931.9 901.7 1804.9 901.7 1945.5 901.6 1915.6 901.6 1869.8 901.6 1750.2 901.6 1929.3 901.6 1927.8 901.6 1918.2 901.6 1886.5 901.6 1911.2 901.6 1853.7 901.6 1899.7 901.6 1890.8 901.6 1926.7 901.5 1928.1 901.5 1940.8 901.5 1945.4 901.5 1895 901.5 1934.2 901.5 1876.5 901.5 1867.7 901.5 1878.4 901.5 1875.8 901.4 1914.3 901.4 1891.2 901.4 1890.6 901.4 1947.7 901.4 1895.3 901.4 1798.6 901.4 1928.9 901.4 1885.7 901.4 1907 901.4 1744.1 901.3 1871.3 901.3 1923.2 901.3 1940.4 901.3 1942.5 901.3 1926.5 901.3 1922.8 901.3 1916.4 901.3 1924.9 901.3 1881.4 901.2 1812 901.2 1840.8 901.2 1738.9 901.2 1787.6 901.2 1916.5 901.2 1878.7 901.2 1938.3 901.1 1937.4 901.1 1928.6 901.1 1929.1 901.1 1887.7 901.1 1913.5 901.1 1925.4 901.1 1761.7 901.1 1901.6 901.1 1894.9 901 1916 901 1845 901 1880.2 901 1926.5 901 1887.4 901 1881.7 901 1916.3 901 1879.7 901 1854 901 1914.8 901 1941.3 901 1892.7 901 1817.1 901 1892.2 901 1909.5 900.9 1892.9 900.9 1936.4 900.9 1932.4 900.9 1922.9 900.9 1906.6 900.9 1893.7 900.9 1948 900.9 1945.7 900.9 1904.2 900.8 1931 900.8 1915.7 900.8 1904.8 900.8 1906.8 900.7 1916.3 900.7 1889.4 900.7 1851.5 900.7 1923.3 900.7 1928.5 900.7 1844.3 900.7 1805.3 900.7 1736.3 900.6 1919.4 900.6 1842.4 900.6 1865.6 900.6 1818.3 900.6 1825.9 900.6 1919.8 900.6 1886.2 900.6 1887.6 900.5 1881.2 900.5 1933.9 900.5 1894.4 900.5 1863.8 900.5 1906.3 900.5 1901.4 900.5 1878.1 900.4 1887.4 900.4 1724.7 900.4 1902.4 900.4 1860.6 900.4 1893.6 900.4 1830.4 900.3 1884.9 900.3 1765.5 900.3 1913.8 900.3 1865.5 900.3 1884 900.2 1836.6 900.2 1857.1 900.2 1868.9 900.2 1859.7 900.2 1894.2 900.2 1868.1 900.2 1872.2 900.2 1847.4 900.1 1919.5 900.1 1898.5 900.1 1947.5 900.1 1925.2 900.1 1831.9 900.1 1867.8 900.1 1721.8 900.1 1879.8 900.1 1894.1 900 1910.3 900 1912.8 900 1888.4 900 1905.9 900 1723.3 900 1914.6 900 1913.8 899.9 1870.5 899.9 1925.9 899.9 1933.3 899.9 1876.5 899.8 1862.4 899.8 1745 899.8 1960.9 899.8 1949.7 899.8 1868.7 899.8 1749.2 899.8 1889.9 899.8 1928.1 899.8 1914.4 899.8 1853.5 899.8 1913.7 899.8 1889.7 899.8 1851.5 899.7 1904.4 899.7 1870.7 899.7 1873.3 899.7 1828.2 899.7 1945.2 899.7 1899.3 899.7 1932.1 899.7 1939.7 899.7 1730 899.6 1870.6 899.6 1862 899.6 1924.4 899.6 1915.2 899.6 1890.5 899.6 1841.4 899.6 1876.2 899.6 1926.9 899.5 1928.5 899.5 1878 899.5 1908.8 899.5 1876.7 899.5 1773.7 899.5 1885.4 899.5 1893.4 899.5 1873 899.5 1857.1 899.5 1850.8 899.4 1903.7 899.4 1941.4 899.4 1924.8 899.4 1907.7 899.4 1940 899.4 1849.2 899.4 1916.3 899.3 1908.2 899.3 1836.9 899.3 1843.8 899.3 1860.3 899.3 1874.4 899.3 1874.1 899.2 1901.7 899.2 1925.8 899.2 1831 899.2 1869 899.2 1855.6 899.2 1934.4 899.2 1884.6 899.2 1890.6 899.2 1843.3 899.1 1789.7 899.1 1868.6 899.1 1879.5 899.1 1911.8 899.1 1938.7 899.1 1763.6 899.1 1928.1 899.1 1855.2 899.1 1790 899.1 1941.9 899.1 1873.5 899.1 1904.6 899.1 1907.6 899 1828.5 899 1745.8 899 1907.3 899 1934.8 899 1882.4 899 1927.9 898.9 1852.1 898.9 1891.2 898.9 1898.7 898.9 1932.4 898.9 1930.7 898.9 1946 898.9 1878 898.9 1926.8 898.8 1887.5 898.8 1932.4 898.8 1914.4 898.8 1937.6 898.8 1858.7 898.8 1887.3 898.8 1770.4 898.8 1930.1 898.7 1941.8 898.7 1936.5 898.7 1932.5 898.7 1886.2 898.7 1867.2 898.6 1788.3 898.6 1922.4 898.6 1873.5 898.6 1945.7 898.6 1918.4 898.6 1895.6 898.6 1941.1 898.6 1905.1 898.6 1908.5 898.5 1937.4 898.5 1914.8 898.5 1941 898.5 1933.1 898.5 1918.4 898.5 1939 898.5 1891.9 898.4 1844.3 898.4 1908.6 898.4 1905.7 898.4 1921.5 898.4 1920.6 898.4 1935.2 898.3 1897.4 898.3 1920.3 898.3 1933.9 898.3 1812.9 898.3 1943.4 898.3 1942.1 898.2 1877.4 898.2 1845.7 898.2 1856.7 898.2 1836.5 898.2 1884.9 898.1 1905 898.1 1917.6 898.1 1914.4 898.1 1938.8 898.1 1869.8 898.1 1883.8 898.1 1945.8 898 1855 898 1890.9 898 1873.1 898 1942.8 898 1803.3 898 1894.1 898 1925.8 898 1946.2 898 1821.2 898 1925.5 898 1875.6 897.9 1912 897.9 1889.7 897.9 1858.5 897.9 1926.9 897.9 1915.2 897.9 1821.6 897.8 1951.3 897.8 1950.6 897.8 1930.8 897.8 1872.9 897.8 1937.9 897.8 1878.3 897.8 1898.4 897.8 1847 897.8 1749.4 897.8 1876.1 897.7 1884.6 897.7 1831.7 897.7 1913.1 897.7 1906 897.6 1894.5 897.6 1853 897.6 1925.8 897.6 1937.7 897.6 1939.4 897.6 1913.8 897.5 1847.3 897.5 1865.2 897.5 1949.1 897.5 1934 897.5 1917.9 897.5 1908.3 897.5 1907.2 897.5 1893.2 897.5 1886.5 897.4 1901.7 897.4 1842.9 897.4 1900.9 897.4 1926.9 897.4 1939.4 897.3 1886.3 897.3 1917.8 897.3 1913.8 897.3 1917.2 897.3 1860.9 897.2 1913.2 897.2 1938.3 897.2 1863.6 897.2 1922.1 897.2 1942 897.2 1879.7 897.1 1953.9 897.1 1907 897.1 1830 897.1 1860.5 897.1 1919.3 897.1 1941.7 897.1 1874.6 897.1 1885.7 897.1 1946.3 897.1 1884.4 897.1 1925.4 897 1774.5 897 1791.5 897 1877 897 1884.8 896.9 1859.7 896.9 1912.3 896.9 1918.6 896.9 1934.8 896.9 1911.3 896.9 1729.5 896.9 1922.4 896.9 1925.2 896.9 1768.1 896.9 1923.4 896.8 1924.1 896.8 1909.1 896.8 1937.3 896.8 1833.4 896.8 1884.1 896.8 1924.5 896.8 1918.9 896.8 1851.4 896.7 1904.8 896.7 1906.2 896.7 1918.2 896.7 1914.3 896.7 1812.9 896.7 1884.6 896.7 1887.1 896.6 1860.9 896.6 1891.6 896.6 1934.8 896.6 1889.7 896.6 1839.1 896.6 1859.2 896.6 1861.6 896.6 1836.1 896.6 1947.3 896.5 1924.1 896.5 1910.2 896.5 1939.1 896.4 1871 896.4 1870.7 896.4 1898.7 896.4 1863.5 896.4 1853.9 896.4 1936.2 896.4 1866 896.4 1933.6 896.4 1937.3 896.4 1838.4 896.4 1911.7 896.4 1917 896.3 1852.1 896.3 1872.2 896.3 1842.4 896.2 1855 896.2 1961.3 896.2 1885.6 896.2 1913.7 896.2 1924.3 896.2 1840.3 896.2 1814.5 896.2 1895.9 896.1 1901.3 896.1 1885.6 896.1 1795 896.1 1804 896.1 1910.5 896.1 1945.1 896 1861.6 896 1910.8 896 1845.1 896 1932.6 896 1791.2 896 1932.6 896 1817.7 895.9 1884.1 895.9 1898.5 895.9 1894.9 895.9 1872.9 895.9 1916.3 895.9 1746.5 895.9 1928.4 895.9 1905.2 895.9 1936.8 895.9 1905.5 895.9 1937.5 895.8 1939.1 895.8 1877.9 895.8 1927.7 895.8 1898.6 895.7 1948.2 895.7 1925.1 895.7 1871.6 895.7 1931.9 895.7 1878.9 895.7 1889.6 895.7 1852.6 895.6 1939.1 895.6 1912.3 895.6 1913.7 895.5 1878.4 895.5 1824 895.5 1898.1 895.5 1942.6 895.5 1877.5 895.4 1910.6 895.4 1804.9 895.4 1909.4 895.4 1815.2 895.4 1905.8 895.4 1892.6 895.4 1935.3 895.3 1829.2 895.3 1875.9 895.3 1912.3 895.3 1880.4 895.2 1895.1 895.2 1872 895.2 1903.1 895.2 1912.9 895.2 1861.3 895.1 1821.1 895.1 1919.7 895.1 1942.9 895 1733.4 895 1922 895 1903 895 1917.5 894.9 1810.1 894.9 1896.4 894.9 1908.9 894.9 1738.3 894.8 1902.7 894.8 1647.5 894.8 1653.1 894.8 1864.9 894.8 1838.1 894.8 1908.3 894.8 1915.4 894.8 1944.6 894.8 1881.8 894.7 1827.1 894.7 1856.2 894.7 1906.7 894.7 1914.4 894.7 1937.7 894.7 1748.5 894.7 1894.8 894.7 1811.2 894.6 1915.9 894.6 1926.3 894.6 1910.2 894.6 1825.8 894.6 1935.9 894.5 1919 894.5 1900.1 894.5 1901 894.5 1892.4 894.5 1871.2 894.5 1918 894.5 1920.3 894.5 1883.2 894.4 1943.1 894.4 1912.9 894.4 1895.9 894.4 1885.8 894.3 1895.2 894.3 1885.7 894.3 1832.9 894.2 1899.9 894.2 1879.4 894.2 1928.4 894.2 1941 894.2 1867.2 894.1 1823.8 894.1 1791.6 894.1 1869.2 894.1 1890.4 894 1847.1 894 1835.6 894 1889.4 894 1904.2 894 1900.2 893.9 1902.3 893.9 1886.1 893.9 1814.2 893.8 1928.6 893.8 1892.3 893.8 1929.1 893.8 1884.1 893.8 1877 893.8 1890.7 893.7 1915.8 893.7 1944.1 893.7 1821.3 893.6 1910.9 893.6 1712.8 893.6 1878.5 893.6 1825.7 893.6 1947.5 893.6 1856.9 893.6 1733.9 893.6 1841.4 893.6 1845.6 893.5 1855 893.5 1933.3 893.5 1814.4 893.5 1934.1 893.5 1922.7 893.5 1934 893.4 1954 893.4 1928.5 893.4 1862.6 893.4 1910.6 893.4 1866.3 893.3 1905.8 893.3 1929.9 893.3 1848.5 893.3 1918.8 893.3 1871.6 893.3 1829.3 893.3 1894.7 893.2 1828.7 893.2 1900.8 893.2 1929.5 893.2 1868.9 893.2 1869.9 893.2 1942.5 893.1 1815.8 893.1 1938.5 893.1 1926.6 893.1 1868.7 893.1 1869.2 893.1 1864.4 893.1 1881.6 893 1926.8 893 1882.2 893 1921.7 893 1936.7 893 1915.8 893 1844.1 893 1934.2 892.9 1866.7 892.9 1919.1 892.9 1814.6 892.9 1934.5 892.9 1926.5 892.8 1862.9 892.8 1932.5 892.7 1913.5 892.7 1899 892.7 1921.5 892.7 1906.4 892.7 1934.7 892.5 1924.2 892.5 1894 892.5 1912.6 892.5 1889.3 892.5 1813.5 892.5 1949.6 892.5 1919.1 892.4 1840.1 892.4 1878 892.4 1933.8 892.4 1885.6 892.4 1788.6 892.4 1830.3 892.3 1861.8 892.3 1890.5 892.3 1944.2 892.3 1887.1 892.2 1896.1 892.2 1875 892.2 1876.7 892.2 1870.6 892.2 1933.3 892.2 1890 892.1 1893.9 892.1 1930 892.1 1933 892.1 1826.7 892.1 1820.3 892.1 1727.1 892 1924.9 892 1713 892 1894.6 892 1858.8 892 1872.4 891.9 1878.3 891.9 1879.4 891.9 1894.8 891.9 1935.2 891.8 1864.9 891.8 1931.1 891.8 1849.3 891.7 1896.7 891.7 1891.3 891.7 1939.8 891.7 1841.9 891.6 1916 891.6 1926.5 891.6 1916.1 891.5 1924 891.5 1902.8 891.5 1889.2 891.5 1902.4 891.5 1942.3 891.5 1893 891.5 1924 891.5 1909.3 891.5 1939.5 891.4 1811.1 891.4 1714.4 891.4 1922.7 891.4 1938 891.3 1897.4 891.3 1938.1 891.3 1838.5 891.2 1795.2 891.2 1944.1 891.2 1797.2 891.1 1896.3 891.1 1881.5 891.1 1730.2 891 1902.2 891 1920.8 891 1901.2 891 1866.7 891 1918.5 891 1912.2 890.9 1799.9 890.9 1932.9 890.9 1859.7 890.8 1909.2 890.8 1856.3 890.8 1933.5 890.7 1898.7 890.7 1789.9 890.7 1844 890.7 1795.1 890.7 1875.7 890.6 1756.9 890.6 1873.4 890.6 1836.9 890.6 1919.7 890.6 1847.4 890.6 1889.7 890.6 1887.1 890.5 1909.5 890.5 1852.5 890.5 1875.5 890.5 1911.9 890.4 1909.6 890.4 1843.8 890.4 1935.6 890.4 1862.9 890.3 1918.4 890.3 1881.7 890.3 1851.6 890.3 1864.6 890.2 1919.1 890.2 1941.7 890.2 1887.3 890.2 1929.2 890.2 1835.4 890.2 1880.7 890.1 1905.6 890.1 1874.5 890.1 1882.7 890 1938.7 890 1905.8 890 1940.7 890 1728.3 890 1748.8 889.9 1844.8 889.8 1936 889.8 1851.7 889.8 1927.3 889.8 1841.1 889.8 1932 889.8 1815.7 889.8 1930.1 889.8 1922.5 889.7 1945.2 889.7 1837.1 889.7 1826.8 889.7 1894.9 889.6 1860.9 889.6 1854.9 889.6 1831.3 889.6 1863 889.6 1920.3 889.5 1892 889.4 1923 889.4 1879 889.3 1838.4 889.3 1878.8 889.3 1907.2 889.3 1873.6 889.3 1887.7 889.3 1947 889.3 1889.8 889.2 1936.5 889.2 1877.6 889.2 1804.5 889.2 1770 889.1 1873.8 889.1 1928.2 889.1 1923.5 889 1931.3 889 1914.2 889 1773.8 889 1814.9 889 1933.8 889 1793.6 888.9 1901 888.9 1913.4 888.9 1897.4 888.9 1894.8 888.8 1912 888.7 1817.2 888.6 1787.4 888.6 1904.1 888.6 1910.9 888.6 1906.8 888.5 1799 888.5 1918.1 888.4 1828.4 888.4 1905.1 888.4 1934 888.4 1943 888.4 1920.2 888.4 1906.6 888.4 1926.8 888.3 1935.6 888.3 1934.2 888.3 1893.5 888.3 1934.2 888.3 1901.6 888.3 1916.8 888.2 1876.3 888.2 1912.6 888.2 1877.1 888.1 1918.1 888.1 1910.5 888.1 1933.1 888 1880 888 1876.6 888 1866.6 888 1777.7 888 1882.7 887.9 1915.4 887.9 1774.5 887.9 1892.6 887.9 1880.5 887.9 1876.7 887.8 1819 887.8 1863.2 887.8 1944.2 887.7 1918.4 887.7 1881.1 887.7 1885.5 887.7 1936.5 887.6 1925 887.6 1861.2 887.6 1926.7 887.5 1850.5 887.5 1906.4 887.5 1907.3 887.4 1907.7 887.4 1933.6 887.3 1913.9 887.3 1914.2 887.3 1852.1 887.2 1927.2 887.2 1859.2 887.2 1896.7 887.1 1895 887 1892.8 887 1794.4 887 1915.8 886.9 1901.7 886.9 1891.9 886.8 1872.2 886.8 1887 886.8 1858.7 886.7 1863.9 886.7 1791.9 886.6 1874 886.6 1926.3 886.6 1929.7 886.6 1936.4 886.6 1896.5 886.5 1908.1 886.4 1879.1 886.3 1931.6 886.2 1906 886.2 1863.1 886.1 1932.9 886.1 1910.2 886.1 1902.5 886.1 1914.2 886 1806.3 886 1931.7 885.9 1864.6 885.9 1892.6 885.9 1893.1 885.9 1891.6 885.8 1914.9 885.8 1933 885.7 1853.7 885.7 1872.8 885.5 1890.8 885.4 1930.2 885.4 1926 885.4 1913.1 885.4 1908.7 885.3 1893.6 885.3 1861.4 885.3 1912.2 885.2 1933.8 885.1 1862.3 885.1 1790 885.1 1864.2 885.1 1910.5 885.1 1928.5 885 1933.1 885 1875.6 885 1891.4 885 1920.8 885 1942.1 885 1844.5 884.9 1865.5 884.9 1924.7 884.9 1888 884.9 1872.3 884.8 1920.3 884.8 1909.2 884.8 1878.7 884.8 1882.2 884.8 1834.3 884.8 1890.5 884.7 1847.1 884.7 1858.8 884.7 1881.8 884.6 1888.6 884.6 1873 884.6 1927.1 884.6 1872.1 884.5 1882.1 884.5 1830.1 884.4 1916.8 884.4 1915 884.3 1932.4 884.3 1875.3 884.3 1827.3 884.3 1825.6 884.3 1861.9 884.3 1712.5 884.2 1749.1 884.2 1912.4 884.2 1940.3 884.2 1816.9 884.2 1915 884.2 1935.6 884.1 1925.1 884.1 1845.2 884.1 1914.5 884.1 1888.9 884 1901.5 884 1847.5 883.9 1883.5 883.9 1873 883.8 1794.4 883.7 1919 883.6 1872.8 883.6 1914.7 883.6 1921.8 883.4 1878.2 883.3 1915.3 883.3 1805.5 883.2 1899.7 883.2 1851.3 883.2 1925.3 883.2 1756.4 883.1 1899.9 883.1 1844.2 883.1 1904.9 883.1 1884.4 883 1910.6 883 1847.4 882.9 1857 882.9 1910.4 882.8 1935.3 882.7 1883.2 882.7 1892.1 882.7 1847.8 882.7 1903.3 882.7 1910.8 882.7 1907.9 882.7 1837.2 882.6 1881.6 882.5 1932.1 882.5 1879.2 882.5 1912.7 882.4 1826.5 882.4 1939.4 882.3 1895.9 882.3 1886.5 882.3 1891.2 882.1 1906.2 882.1 1906.8 882 1904.5 882 1904.2 882 1922.9 882 1928.5 882 1934.2 882 1886.8 881.9 1839.3 881.9 1927.8 881.9 1906.6 881.8 1932.5 881.8 1899.9 881.8 1857.9 881.8 1904.8 881.8 1940 881.8 1916.6 881.7 1936 881.7 1843.2 881.6 1832.2 881.5 1888.2 881.5 1905.8 881.5 1936.7 881.4 1857.7 881.4 1897 881.4 1890.7 881.4 1925.3 881.3 1911.3 881.3 1837.4 881.3 1846.8 881.2 1911.5 881.2 1901.3 881.2 1897.3 881.1 1912.2 881 1902.8 880.9 1909 880.9 1906.4 880.8 1887.7 880.8 1820.8 880.7 1938.7 880.6 1900.2 880.6 1792.7 880.6 1933.3 880.5 1885.4 880.4 1938.2 880.4 1843.7 880.4 1868.2 880.3 1812.6 880.3 1931.8 880.2 1557.2 880.2 1925.1 880.2 1857 880.2 1928 880 1874.6 880 1913.8 879.9 1840.4 879.8 1913.9 879.8 1896 879.8 1903.9 879.6 1827.9 879.6 1934.2 879.6 1882.2 879.5 1889.9 879.4 1863.4 879.4 1906.2 879.4 1826.3 879.3 1870.1 879.3 1842.6 879.3 1864.4 879.3 1864.6 879.3 1928.9 879.2 1871.1 879.2 1849.8 879.1 1913.7 879 1843.3 878.9 1863.7 878.9 1875.6 878.9 1886.3 878.9 1850 878.8 1868.2 878.8 1915.7 878.8 1881.3 878.7 1834.9 878.5 1800.4 878.5 1842.7 878.4 1912.1 878.4 1876 878.4 1884.7 878.4 1881.7 878.4 1922.8 878.3 1909.9 878.3 1903.5 878.3 1906.7 878.2 1934.8 878.1 1857 878 1898.1 877.9 1872.8 877.9 1881.8 877.9 1906.1 877.8 1917.4 877.4 1896.7 877.4 1924.6 877.3 1911.2 877.2 1866.6 877.2 1857.8 877.1 1937 877 1857.3 877 1888.1 876.6 1928.2 876.6 1808.8 876.6 1904.3 876.5 1900.1 876.4 1884.8 876.4 1910.2 876.4 1838.6 876.4 1922.2 876.3 1900.8 876.3 1913.1 876.3 1937.7 876.2 1922.5 876 1933.9 876 1893.3 875.9 1918.6 875.8 1809.3 875.8 1873.3 875.7 1907.7 875.6 1882.2 875.6 1863.4 875.4 1921.9 875.4 1836.5 875.4 1934.3 875.4 1849.8 875.4 1816.4 875.3 1790.3 875.2 1786.3 875.2 1820 875.1 1912.8 875.1 1910.4 875 1787.2 874.4 1881.8 873.9 1872.2 873.8 1672.3 873.5 1852.7 873.4 1899.5 873.4 1832.7 873.4 1884 873.4 1886.6 873.3 1912 873 1887.2 873 1871.6 873 1804.6 872.9 1894.9 872.7 1844.3 872.7 1798.7 872.5 1932 872.5 1913.9 872.4 1895.4 872.3 1878.5 872.1 1929.7 871.9 1901.7 871.9 1926.8 871.6 1812 871.5 1868.3 871.5 1906.5 871.5 1881.5 871.4 1866.1 871.4 1866.7 871.4 1891.7 871.3 1804.3 871.3 1905.6 871.2 1877.6 871 1885.1 871 1906.1 871 1925.5 870.9 1887.4 870.3 1883.2 869.7 1831.2 869.4 1653.1 869.3 1802.7 869.3 1924.6 869.2 1821.4 869 1914 869 1868.2 868.9 1805.6 868.6 1913.5 868.5 1822.2 868.4 1860.3 868.2 1893 867.9 1922.2 867.5 1903 867.3 1888.1 867.1 1902.5 867 1913.2 867 1899.9 866.9 1901.3 866.9 1832.6 866.7 1873.1 866.4 1906.1 866.3 1880.3 866.3 1805.8 865.8 1894.4 865.7 1795.7 865.6 1792.1 864.9 1893 864.5 1886.6 864.3 1914.1 864.2 1842.6 863.7 1874.2 863.7 1794.5 863.4 1859.8 863.3 1816.2 863.3 1910.3 863.1 1816 862.8 1872.2 862.7 1887.7 862.5 1907.9 862.4 1754 862.4 1902.2 862.3 1845 862.3 1902.1 861.2 1887.9 860.5 1902 860.5 1906.8 859.7 1886.5 859 1777.5 858.9 1933.6 858.9 1839 858.6 1806.7 857.4 1906.8 857.2 1938.5 857.2 1830.3 856.3 1890.5 856.1 1832.7 856 1884.1 855.6 1799.6 855.1 1838.5 853 1894.3 852.2 1722.6 852.1 1695.4 850.9 1700.3 849.3 1775.5 847.5 1806.3 847.5 1886.8 846.5 1819.8 845.5 1802.8 845.3 1738.9 842.9 1834.5 842.1 1861.3 840.5 1793.8 840.5 1878.7 837.7 1870.2 837.7 1827.9 837.7 1797.9 835.9 1888.3 834 1754 833 1836.9 831 1837.2 828.2 1808.7 823.8 1823.9 823.8 1873.9 814 1873.5 807.5 1551.5 803.6 1525.9 728.4" fill="none" stroke="none" marker-start="url(#me)" marker-mid="url(#me)" marker-end="url(#me)"/>
<line x1="1467" y1="853.7" x2="1964.5" y2="919.2" stroke="#9c1b20" stroke-width="3.0" stroke-linecap="butt"/>
<g stroke="#000" stroke-width="2.05" fill="none" stroke-linecap="butt">
<path d="M122 80 V442 H644"/>
<path d="M122 431.8h-12M122 370.8h-12M122 309.8h-12M122 248.8h-12M122 187.8h-12M122 126.8h-12M122 401.3h-6.5M122 340.3h-6.5M122 279.3h-6.5M122 218.3h-6.5M122 157.3h-6.5M122 96.3h-6.5M134.3 442v12M258.8 442v12M383.2 442v12M507.6 442v12M632.1 442v12M159.2 442v6.5M184.1 442v6.5M209 442v6.5M233.9 442v6.5M283.6 442v6.5M308.5 442v6.5M333.4 442v6.5M358.3 442v6.5M408.1 442v6.5M433 442v6.5M457.9 442v6.5M482.8 442v6.5M532.5 442v6.5M557.4 442v6.5M582.3 442v6.5M607.2 442v6.5"/>
</g>
<g font-family='"Liberation Serif", serif' font-size="34" fill="#000">
<text x="107" y="443.3" text-anchor="end">0</text>
<text x="107" y="382.3" text-anchor="end">5</text>
<text x="107" y="321.3" text-anchor="end">10</text>
<text x="107" y="260.3" text-anchor="end">15</text>
<text x="107" y="199.3" text-anchor="end">20</text>
<text x="107" y="138.3" text-anchor="end">25</text>
<text x="134.3" y="483" text-anchor="middle">0</text>
<text x="258.8" y="483" text-anchor="middle">100</text>
<text x="383.2" y="483" text-anchor="middle">200</text>
<text x="507.6" y="483" text-anchor="middle">300</text>
<text x="632.1" y="483" text-anchor="middle">400</text>
</g>
<g stroke="#000" stroke-width="2.05" fill="none" stroke-linecap="butt">
<path d="M786.3 80 V442 H1309"/>
<path d="M786.3 431.8h-12M786.3 370.8h-12M786.3 309.8h-12M786.3 248.8h-12M786.3 187.8h-12M786.3 126.8h-12M786.3 401.3h-6.5M786.3 340.3h-6.5M786.3 279.3h-6.5M786.3 218.3h-6.5M786.3 157.3h-6.5M786.3 96.3h-6.5M800 442v12M924.3 442v12M1048.6 442v12M1172.9 442v12M1297.2 442v12M824.9 442v6.5M849.7 442v6.5M874.6 442v6.5M899.4 442v6.5M949.2 442v6.5M974 442v6.5M998.9 442v6.5M1023.7 442v6.5M1073.5 442v6.5M1098.3 442v6.5M1123.2 442v6.5M1148 442v6.5M1197.8 442v6.5M1222.6 442v6.5M1247.5 442v6.5M1272.3 442v6.5"/>
</g>
<g font-family='"Liberation Serif", serif' font-size="34" fill="#000">
<text x="771.3" y="443.3" text-anchor="end">0</text>
<text x="771.3" y="382.3" text-anchor="end">5</text>
<text x="771.3" y="321.3" text-anchor="end">10</text>
<text x="771.3" y="260.3" text-anchor="end">15</text>
<text x="771.3" y="199.3" text-anchor="end">20</text>
<text x="771.3" y="138.3" text-anchor="end">25</text>
<text x="800" y="483" text-anchor="middle">0</text>
<text x="924.3" y="483" text-anchor="middle">100</text>
<text x="1048.6" y="483" text-anchor="middle">200</text>
<text x="1172.9" y="483" text-anchor="middle">300</text>
<text x="1297.2" y="483" text-anchor="middle">400</text>
</g>
<g stroke="#000" stroke-width="2.05" fill="none" stroke-linecap="butt">
<path d="M1454.2 80 V442 H1975"/>
<path d="M1454.2 431.8h-12M1454.2 370.8h-12M1454.2 309.8h-12M1454.2 248.8h-12M1454.2 187.8h-12M1454.2 126.8h-12M1454.2 401.3h-6.5M1454.2 340.3h-6.5M1454.2 279.3h-6.5M1454.2 218.3h-6.5M1454.2 157.3h-6.5M1454.2 96.3h-6.5M1467.2 442v12M1591.4 442v12M1715.5 442v12M1839.7 442v12M1963.8 442v12M1492 442v6.5M1516.9 442v6.5M1541.7 442v6.5M1566.5 442v6.5M1616.2 442v6.5M1641 442v6.5M1665.8 442v6.5M1690.7 442v6.5M1740.3 442v6.5M1765.2 442v6.5M1790 442v6.5M1814.8 442v6.5M1864.5 442v6.5M1889.3 442v6.5M1914.1 442v6.5M1939 442v6.5"/>
</g>
<g font-family='"Liberation Serif", serif' font-size="34" fill="#000">
<text x="1439.2" y="443.3" text-anchor="end">0</text>
<text x="1439.2" y="382.3" text-anchor="end">5</text>
<text x="1439.2" y="321.3" text-anchor="end">10</text>
<text x="1439.2" y="260.3" text-anchor="end">15</text>
<text x="1439.2" y="199.3" text-anchor="end">20</text>
<text x="1439.2" y="138.3" text-anchor="end">25</text>
<text x="1467.2" y="483" text-anchor="middle">0</text>
<text x="1591.4" y="483" text-anchor="middle">100</text>
<text x="1715.5" y="483" text-anchor="middle">200</text>
<text x="1839.7" y="483" text-anchor="middle">300</text>
<text x="1963.8" y="483" text-anchor="middle">400</text>
</g>
<g stroke="#000" stroke-width="2.05" fill="none" stroke-linecap="butt">
<path d="M122.4 557.5 V933.2 H644"/>
<path d="M122.4 919.9h-12M122.4 850.2h-12M122.4 780.6h-12M122.4 711h-12M122.4 641.3h-12M122.4 571.6h-12M122.4 885.1h-6.5M122.4 815.4h-6.5M122.4 745.8h-6.5M122.4 676.1h-6.5M122.4 606.5h-6.5M126.3 933.2v12M288.8 933.2v12M451.4 933.2v12M613.9 933.2v12M158.8 933.2v6.5M191.3 933.2v6.5M223.8 933.2v6.5M256.3 933.2v6.5M321.3 933.2v6.5M353.8 933.2v6.5M386.3 933.2v6.5M418.9 933.2v6.5M483.9 933.2v6.5M516.4 933.2v6.5M548.9 933.2v6.5M581.4 933.2v6.5"/>
</g>
<g font-family='"Liberation Serif", serif' font-size="34" fill="#000">
<text x="107.4" y="931.4" text-anchor="end">0</text>
<text x="107.4" y="861.8" text-anchor="end">5</text>
<text x="107.4" y="792.1" text-anchor="end">10</text>
<text x="107.4" y="722.5" text-anchor="end">15</text>
<text x="107.4" y="652.8" text-anchor="end">20</text>
<text x="107.4" y="583.1" text-anchor="end">25</text>
<line x1="93.8" y1="964.9" x2="117.8" y2="964.9" stroke="#000" stroke-width="2"/>
<text x="116.6 129 143.4" y="974.2">600</text>
<line x1="256.3" y1="964.9" x2="274.3" y2="964.9" stroke="#000" stroke-width="2"/>
<text x="272.5 290.1 306.1" y="974.2">400</text>
<line x1="420.5" y1="964.9" x2="439.5" y2="964.9" stroke="#000" stroke-width="2"/>
<text x="435.7 452.7 468.3" y="974.2">200</text>
<text x="613.9" y="974.2" text-anchor="middle">0</text>
</g>
<g stroke="#000" stroke-width="2.05" fill="none" stroke-linecap="butt">
<path d="M786.4 557.5 V933.2 H1309"/>
<path d="M786.4 919.9h-12M786.4 850.2h-12M786.4 780.6h-12M786.4 711h-12M786.4 641.3h-12M786.4 571.6h-12M786.4 885.1h-6.5M786.4 815.4h-6.5M786.4 745.8h-6.5M786.4 676.1h-6.5M786.4 606.5h-6.5M791.4 933.2v12M954.1 933.2v12M1116.9 933.2v12M1279.6 933.2v12M823.9 933.2v6.5M856.5 933.2v6.5M889 933.2v6.5M921.6 933.2v6.5M986.7 933.2v6.5M1019.2 933.2v6.5M1051.8 933.2v6.5M1084.3 933.2v6.5M1149.4 933.2v6.5M1182 933.2v6.5M1214.5 933.2v6.5M1247.1 933.2v6.5"/>
</g>
<g font-family='"Liberation Serif", serif' font-size="34" fill="#000">
<text x="771.4" y="931.4" text-anchor="end">0</text>
<text x="771.4" y="861.8" text-anchor="end">5</text>
<text x="771.4" y="792.1" text-anchor="end">10</text>
<text x="771.4" y="722.5" text-anchor="end">15</text>
<text x="771.4" y="652.8" text-anchor="end">20</text>
<text x="771.4" y="583.1" text-anchor="end">25</text>
<line x1="758.9" y1="964.9" x2="782.9" y2="964.9" stroke="#000" stroke-width="2"/>
<text x="781.7 794.1 808.5" y="974.2">600</text>
<line x1="921.6" y1="964.9" x2="939.6" y2="964.9" stroke="#000" stroke-width="2"/>
<text x="937.8 955.4 971.4" y="974.2">400</text>
<line x1="1086" y1="964.9" x2="1105" y2="964.9" stroke="#000" stroke-width="2"/>
<text x="1101.2 1118.2 1133.8" y="974.2">200</text>
<text x="1279.6" y="974.2" text-anchor="middle">0</text>
</g>
<g stroke="#000" stroke-width="2.05" fill="none" stroke-linecap="butt">
<path d="M1451.9 557.5 V933.2 H1974"/>
<path d="M1451.9 919.9h-12M1451.9 850.2h-12M1451.9 780.6h-12M1451.9 711h-12M1451.9 641.3h-12M1451.9 571.6h-12M1451.9 885.1h-6.5M1451.9 815.4h-6.5M1451.9 745.8h-6.5M1451.9 676.1h-6.5M1451.9 606.5h-6.5M1456.4 933.2v12M1619 933.2v12M1781.6 933.2v12M1944.2 933.2v12M1488.9 933.2v6.5M1521.4 933.2v6.5M1554 933.2v6.5M1586.5 933.2v6.5M1651.5 933.2v6.5M1684 933.2v6.5M1716.6 933.2v6.5M1749.1 933.2v6.5M1814.1 933.2v6.5M1846.6 933.2v6.5M1879.2 933.2v6.5M1911.7 933.2v6.5"/>
</g>
<g font-family='"Liberation Serif", serif' font-size="34" fill="#000">
<text x="1436.9" y="931.4" text-anchor="end">0</text>
<text x="1436.9" y="861.8" text-anchor="end">5</text>
<text x="1436.9" y="792.1" text-anchor="end">10</text>
<text x="1436.9" y="722.5" text-anchor="end">15</text>
<text x="1436.9" y="652.8" text-anchor="end">20</text>
<text x="1436.9" y="583.1" text-anchor="end">25</text>
<line x1="1423.9" y1="964.9" x2="1447.9" y2="964.9" stroke="#000" stroke-width="2"/>
<text x="1446.7 1459.1 1473.5" y="974.2">600</text>
<line x1="1586.5" y1="964.9" x2="1604.5" y2="964.9" stroke="#000" stroke-width="2"/>
<text x="1602.7 1620.3 1636.3" y="974.2">400</text>
<line x1="1750.7" y1="964.9" x2="1769.7" y2="964.9" stroke="#000" stroke-width="2"/>
<text x="1765.9 1782.9 1798.5" y="974.2">200</text>
<text x="1944.2" y="974.2" text-anchor="middle">0</text>
</g>
<g font-family='"Liberation Serif", serif' font-style="italic" fill="#000" text-anchor="middle">
<text x="382.5" y="48" font-size="43">All</text>
<text x="1049.3" y="48.3" font-size="44.5">SSC</text>
<text x="1715.7" y="48.3" font-size="44">No SSC</text>
</g>
<g font-family='"Liberation Serif", serif' font-style="italic" fill="#000">
<text x="143" y="109.5" font-size="46">a</text>
<text x="806.2" y="109.7" font-size="41">б</text>
<text x="1475" y="110" font-size="46">в</text>
<text x="145" y="601" font-size="46">г</text>
<text x="806.2" y="601" font-size="42">д</text>
<text x="1474" y="601" font-size="46">е</text>
</g>
<text x="381" y="522" font-family='"Liberation Serif", serif' font-size="42" text-anchor="middle"><tspan font-style="italic">Ap</tspan>max</text>
<text x="1046.7" y="522" font-family='"Liberation Serif", serif' font-size="42" text-anchor="middle"><tspan font-style="italic">Ap</tspan>max</text>
<text x="1714.6" y="522" font-family='"Liberation Serif", serif' font-size="42" text-anchor="middle"><tspan font-style="italic">Ap</tspan>max</text>
<text x="382.3" y="1019.8" font-family='"Liberation Serif", serif' font-size="42" letter-spacing="0.5" text-anchor="middle"><tspan font-style="italic">Dst</tspan><tspan dx="2">min, нТл</tspan></text>
<text x="1048.7" y="1019.8" font-family='"Liberation Serif", serif' font-size="42" letter-spacing="0.5" text-anchor="middle"><tspan font-style="italic">Dst</tspan><tspan dx="2">min, нТл</tspan></text>
<text x="1713.7" y="1019.8" font-family='"Liberation Serif", serif' font-size="42" letter-spacing="0.5" text-anchor="middle"><tspan font-style="italic">Dst</tspan><tspan dx="2">min, нТл</tspan></text>
<text transform="translate(55 260.3) rotate(-90)" font-family='"Liberation Serif", serif' font-style="italic" font-size="42" text-anchor="middle">A<tspan dx="2.2">F</tspan><tspan dx="-1">,</tspan><tspan dx="-3.2"> %</tspan></text>
<text transform="translate(719.3 260.3) rotate(-90)" font-family='"Liberation Serif", serif' font-style="italic" font-size="42" text-anchor="middle">A<tspan dx="2.2">F</tspan><tspan dx="-1">,</tspan><tspan dx="-3.2"> %</tspan></text>
<text transform="translate(1387.2 260.3) rotate(-90)" font-family='"Liberation Serif", serif' font-style="italic" font-size="42" text-anchor="middle">A<tspan dx="2.2">F</tspan><tspan dx="-1">,</tspan><tspan dx="-3.2"> %</tspan></text>
<text transform="translate(55.4 751.2) rotate(-90)" font-family='"Liberation Serif", serif' font-style="italic" font-size="42" text-anchor="middle">A<tspan dx="2.2">F</tspan><tspan dx="-1">,</tspan><tspan dx="-3.2"> %</tspan></text>
<text transform="translate(719.4 751.2) rotate(-90)" font-family='"Liberation Serif", serif' font-style="italic" font-size="42" text-anchor="middle">A<tspan dx="2.2">F</tspan><tspan dx="-1">,</tspan><tspan dx="-3.2"> %</tspan></text>
<text transform="translate(1384.9 751.2) rotate(-90)" font-family='"Liberation Serif", serif' font-style="italic" font-size="42" text-anchor="middle">A<tspan dx="2.2">F</tspan><tspan dx="-1">,</tspan><tspan dx="-3.2"> %</tspan></text>
</svg></body></html>
